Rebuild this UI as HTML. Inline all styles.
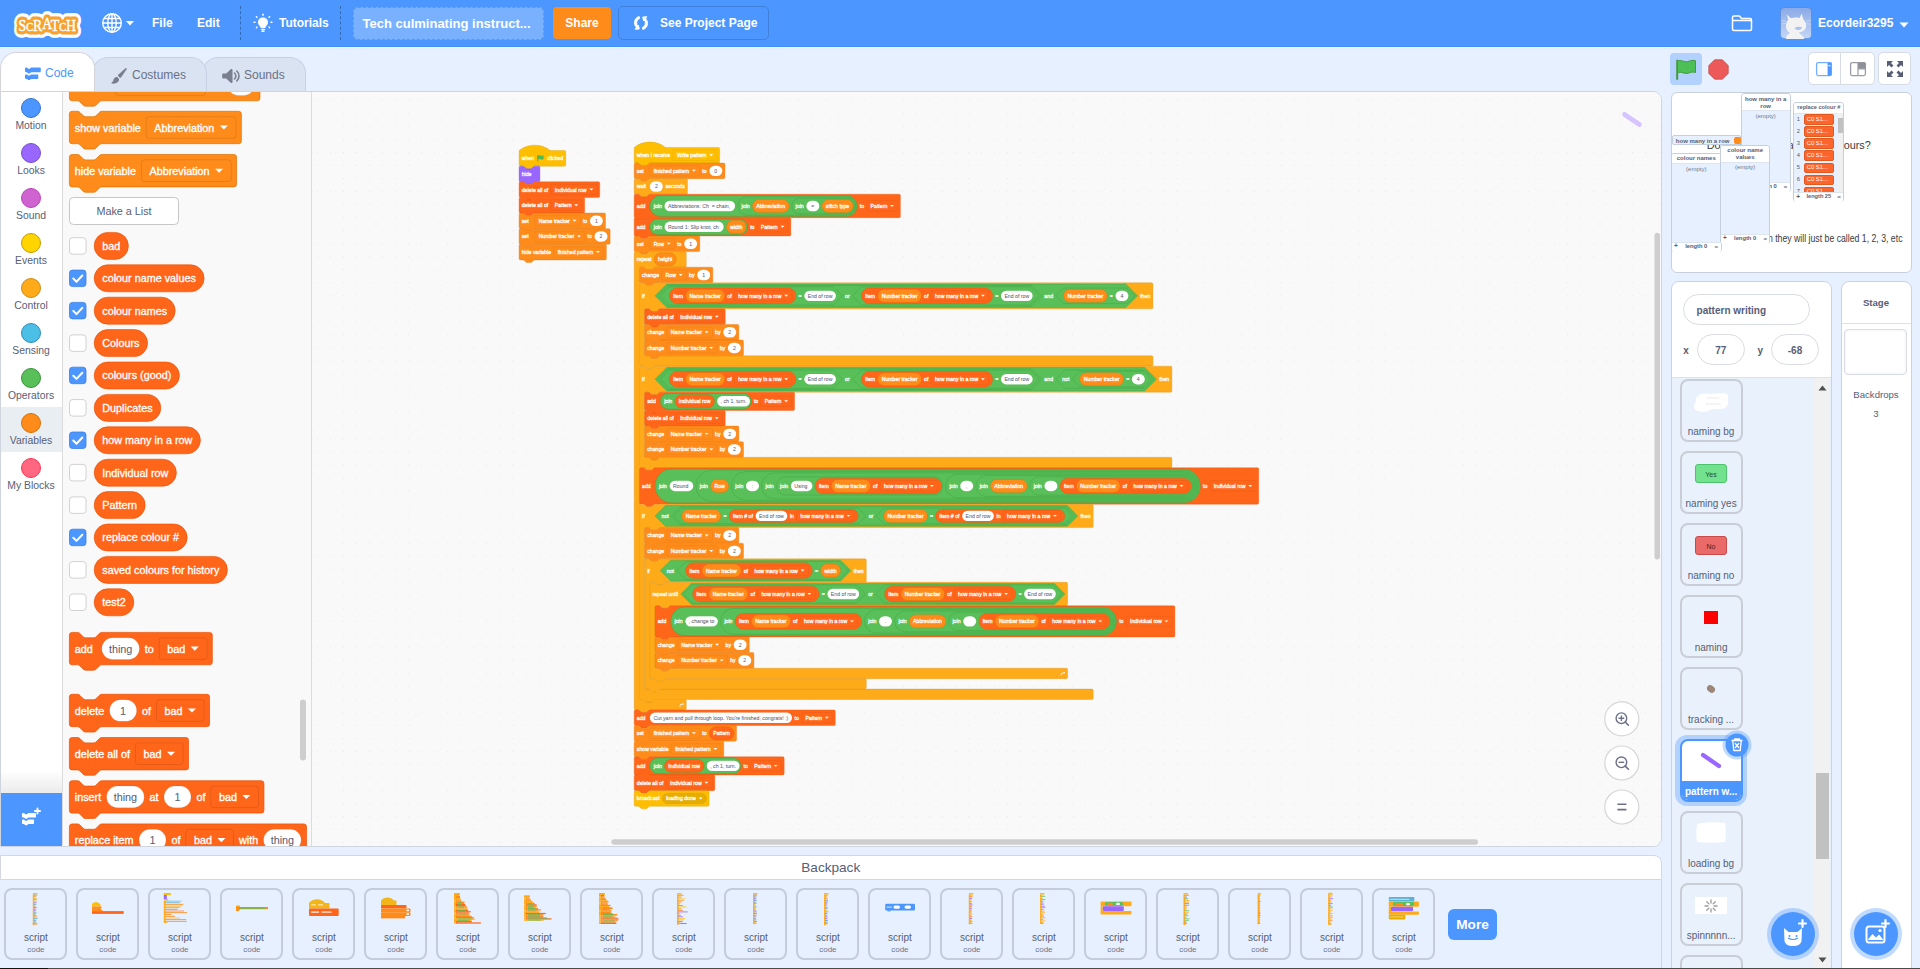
<!DOCTYPE html>
<html><head><meta charset="utf-8"><title>Scratch</title><style>
*{margin:0;padding:0}
html,body{width:1920px;height:969px;overflow:hidden;background:#e6f0ff;font-family:"Liberation Sans",Arial,Helvetica,sans-serif}
.abs{position:absolute}
.t{white-space:nowrap}
</style></head><body>
<div class="abs" style="left:0;top:0;width:1920px;height:46px;background:#4c97ff"></div>
<div class="abs" style="left:0;top:46px;width:1920px;height:1px;background:#4290fa"></div>
<div class="abs" style="left:0;top:47px;width:1920px;height:1px;background:#f0f5ff"></div>
<svg class="abs" style="left:8px;top:6px" width="80" height="34" viewBox="0 0 80 34" font-family="Liberation Serif, serif" font-weight="normal">
<g stroke-linejoin="round">
<text x="10.5" y="24.5" font-size="17.5" fill="#fff" stroke="#fff" stroke-width="13.5" textLength="57.5" lengthAdjust="spacingAndGlyphs">S<tspan font-size="13">C</tspan>R<tspan dy="-1.5">A</tspan><tspan dy="1.5">T</tspan><tspan font-size="13">C</tspan>H</text>
<text x="10.5" y="24.5" font-size="17.5" fill="#f7a22c" stroke="#f7a22c" stroke-width="7" textLength="57.5" lengthAdjust="spacingAndGlyphs">S<tspan font-size="13">C</tspan>R<tspan dy="-1.5">A</tspan><tspan dy="1.5">T</tspan><tspan font-size="13">C</tspan>H</text>
<text x="10.5" y="24.5" font-size="17.5" fill="#fff" stroke="#fff" stroke-width="0.5" textLength="57.5" lengthAdjust="spacingAndGlyphs">S<tspan font-size="13">C</tspan>R<tspan dy="-1.5">A</tspan><tspan dy="1.5">T</tspan><tspan font-size="13">C</tspan>H</text>
</g></svg>
<svg class="abs" style="left:101px;top:12px" width="36" height="22" viewBox="0 0 36 22">
<g fill="none" stroke="#fff" stroke-width="1.4"><circle cx="11" cy="11" r="9.3"/><ellipse cx="11" cy="11" rx="4.2" ry="9.3"/><path d="M1.7,11 H20.3 M3,6.5 H19 M3,15.5 H19 M11,1.7 V20.3"/></g>
<path d="M25,9 H33 L29,13.5 Z" fill="#fff"/></svg>
<div class="abs t" style="left:152.00px;top:16.84px;font-size:12px;line-height:12px;color:#fff;font-weight:700;">File</div>
<div class="abs t" style="left:197.00px;top:16.84px;font-size:12px;line-height:12px;color:#fff;font-weight:700;">Edit</div>
<div class="abs" style="left:240px;top:6px;height:34px;border-left:1px dashed rgba(0,0,0,0.3)"></div>
<svg class="abs" style="left:253px;top:13px" width="20" height="20" viewBox="0 0 20 20">
<g fill="#fff"><path d="M10,4.5 C6.8,4.5 5,6.8 5,9.3 C5,11.2 6,12.3 7,13.3 C7.6,13.9 7.7,14.5 7.7,15 H12.3 C12.3,14.5 12.4,13.9 13,13.3 C14,12.3 15,11.2 15,9.3 C15,6.8 13.2,4.5 10,4.5 Z"/><rect x="7.8" y="15.8" width="4.4" height="1.6" rx="0.8"/><rect x="8.4" y="17.8" width="3.2" height="1.2" rx="0.6"/>
<rect x="9.3" y="0.5" width="1.4" height="2.4" rx="0.7"/><rect x="0.3" y="8.6" width="2.4" height="1.4" rx="0.7"/><rect x="17.3" y="8.6" width="2.4" height="1.4" rx="0.7"/>
<rect x="3" y="2.8" width="1.4" height="2.4" rx="0.7" transform="rotate(-45 3.7 4)"/><rect x="15.6" y="2.8" width="1.4" height="2.4" rx="0.7" transform="rotate(45 16.3 4)"/>
<rect x="3" y="13.3" width="1.4" height="2.2" rx="0.7" transform="rotate(45 3.7 14.4)"/><rect x="15.6" y="13.3" width="1.4" height="2.2" rx="0.7" transform="rotate(-45 16.3 14.4)"/></g></svg>
<div class="abs t" style="left:279.00px;top:16.84px;font-size:12px;line-height:12px;color:#fff;font-weight:700;">Tutorials</div>
<div class="abs" style="left:340px;top:6px;height:34px;border-left:1px dashed rgba(0,0,0,0.3)"></div>
<div class="abs" style="left:353px;top:7px;width:189px;height:31px;border:1px dashed rgba(0,0,0,0.15);border-radius:5px;background:rgba(255,255,255,0.25)"></div>
<div class="abs t" style="left:362.50px;top:17.00px;font-size:13px;line-height:13px;color:#fff;font-weight:700;">Tech culminating instruct...</div>
<div class="abs" style="left:553px;top:7px;width:58px;height:32px;border-radius:4px;background:#ff8c1a"></div>
<div class="abs t" style="left:553.00px;top:16.84px;font-size:12px;line-height:12px;color:#fff;font-weight:700;width:58px;text-align:center;">Share</div>
<div class="abs" style="left:618px;top:6px;width:149px;height:32px;border:1px solid rgba(0,0,0,0.15);border-radius:5px"></div>
<svg class="abs" style="left:633px;top:15px" width="16" height="16" viewBox="0 0 16 16"><g fill="#fff" stroke="#fff" stroke-width="0.9" stroke-linejoin="round">
<path d="M6.2,1.5 C3.2,2.3 1.5,4.6 1.5,7.8 C1.5,9.6 2.2,11.1 3.3,12.2 L2.2,14.3 L6.3,14 L5.4,10 L4.6,11 C4,10.2 3.7,9.1 3.7,7.9 C3.7,5.7 4.9,4.1 6.7,3.5 Z"/>
<path d="M9.8,14.5 C12.8,13.7 14.5,11.4 14.5,8.2 C14.5,6.4 13.8,4.9 12.7,3.8 L13.8,1.7 L9.7,2 L10.6,6 L11.4,5 C12,5.8 12.3,6.9 12.3,8.1 C12.3,10.3 11.1,11.9 9.3,12.5 Z"/></g></svg>
<div class="abs t" style="left:660.00px;top:16.84px;font-size:12px;line-height:12px;color:#fff;font-weight:700;">See Project Page</div>
<svg class="abs" style="left:1731px;top:14px" width="22" height="18" viewBox="0 0 22 18"><path d="M1.5,4 V15 C1.5,16 2,16.5 3,16.5 H19 C20,16.5 20.5,16 20.5,15 V6 C20.5,5 20,4.5 19,4.5 H10.5 L8.5,2 H3 C2,2 1.5,2.5 1.5,3.5 Z M1.5,6.5 H20.5" fill="none" stroke="#fff" stroke-width="1.5" stroke-linejoin="round"/></svg>
<svg class="abs" style="left:1780px;top:7px" width="32" height="32" viewBox="0 0 32 32">
<defs><linearGradient id="av" x1="0" y1="0" x2="0" y2="1"><stop offset="0" stop-color="#8aa9e6"/><stop offset="1" stop-color="#c3d6f7"/></linearGradient></defs>
<rect x="0.5" y="0.5" width="31" height="31" rx="4" fill="url(#av)" stroke="rgba(40,80,160,0.25)"/>
<path d="M6.5,7.5 L11,11.2 C13.5,10.3 17,10.1 19.8,10.9 L21.6,6.6 L23.4,12.6 C25.8,14.6 26.8,17.6 25.9,20.4 C25,23.3 22.3,25.2 18.6,25.5 L20.5,27.2 C22.5,28.4 24,30.2 24.3,32 H5.8 C6,29.4 7.6,27.2 10.1,26.1 C7.3,24.6 5.6,21.7 6,18.6 C6.3,16.2 7.1,14.2 8.3,12.6 Z" fill="#f2f2f2"/>
<path d="M14.6,21.2 C16.6,19.6 20.1,19.5 22.2,20.6 C21.1,23.2 17.1,24.1 14.6,21.2 Z" fill="#a9c1ee"/>
<path d="M1.5,13.5 L6.5,14.5 M1.8,17 L6.3,16.4 M26,14.2 L30.5,13.2 M26.2,16.6 L30.6,17.2" stroke="#e8eefb" stroke-width="0.6" opacity="0.8"/></svg>
<div class="abs t" style="left:1818.00px;top:16.84px;font-size:12px;line-height:12px;color:#fff;font-weight:700;">Ecordeir3295</div>
<svg class="abs" style="left:1899px;top:21.5px" width="10" height="6" viewBox="0 0 10 6"><path d="M0.5,0.5 H9.5 L5,5.5 Z" fill="#fff"/></svg>
<div class="abs" style="left:202px;top:57px;width:102px;height:40px;background:#d9e3f2;border:1px solid #c6d1e3;border-bottom:none;border-radius:16px 16px 0 0"></div>
<div class="abs" style="left:92px;top:57px;width:113px;height:40px;background:#d9e3f2;border:1px solid #c6d1e3;border-bottom:none;border-radius:16px 16px 0 0"></div>
<div class="abs" style="left:0;top:52px;width:93px;height:38px;background:#fff;border:1px solid #d5d5d8;border-bottom:none;border-radius:16px 16px 0 0"></div>
<svg class="abs" style="left:24px;top:67px" width="17" height="14" viewBox="0 0 17 14"><g fill="#4c97ff">
<path d="M1,1.5 C1,1 1.4,0.6 2,0.6 H3 L4.2,1.8 H5.8 L7,0.6 H16 C16.5,0.6 16.8,1 16.8,1.5 V4.3 C16.8,4.8 16.5,5.2 16,5.2 H7 L5.8,6.4 H4.2 L3,5.2 H2 C1.4,5.2 1,4.8 1,4.3 Z"/>
<path d="M1,8.3 C1,7.8 1.4,7.4 2,7.4 H3 L4.2,8.6 H5.8 L7,7.4 H13.5 C14,7.4 14.3,7.8 14.3,8.3 V11 C14.3,11.5 14,11.9 13.5,11.9 H7 L5.8,13.1 H4.2 L3,11.9 H2 C1.4,11.9 1,11.5 1,11 Z"/></g></svg>
<div class="abs t" style="left:45.00px;top:66.84px;font-size:12px;line-height:12px;color:#4c97ff;">Code</div>
<svg class="abs" style="left:110px;top:67px" width="18" height="18" viewBox="0 0 18 18"><g fill="#7a7f8f">
<path d="M15.5,1.2 C16.3,0.8 17,1.5 16.6,2.3 L11.2,10.2 C10.8,10.8 10,10.9 9.5,10.4 L8.3,9.2 C7.8,8.7 7.9,7.9 8.5,7.5 Z"/>
<path d="M7.2,10.1 L8.6,11.5 C9.2,12.1 9.2,13.2 8.7,14 C7.7,15.7 5.2,17 1.6,16.6 C1.2,16.6 1.1,16.1 1.4,15.9 C2.8,15 3.2,14 3.6,12.6 C4.1,10.9 5.9,9.6 7.2,10.1 Z"/></g></svg>
<div class="abs t" style="left:132.00px;top:68.64px;font-size:12px;line-height:12px;color:#6b7185;">Costumes</div>
<svg class="abs" style="left:222px;top:68px" width="18" height="16" viewBox="0 0 18 16"><g fill="#7a7f8f">
<path d="M1.2,5.5 H4.2 L8.8,1.3 C9.5,0.7 10.5,1.1 10.5,2 V14 C10.5,14.9 9.5,15.3 8.8,14.7 L4.2,10.5 H1.2 C0.6,10.5 0.2,10 0.2,9.5 V6.5 C0.2,6 0.6,5.5 1.2,5.5 Z"/>
<path d="M12.5,5 C13.4,5.8 13.9,6.9 13.9,8 C13.9,9.1 13.4,10.2 12.5,11" stroke="#7a7f8f" stroke-width="1.6" fill="none" stroke-linecap="round"/>
<path d="M14.8,3 C16.2,4.3 17,6.1 17,8 C17,9.9 16.2,11.7 14.8,13" stroke="#7a7f8f" stroke-width="1.6" fill="none" stroke-linecap="round"/></g></svg>
<div class="abs t" style="left:244.00px;top:68.64px;font-size:12px;line-height:12px;color:#6b7185;">Sounds</div>
<div class="abs" style="left:0px;top:91px;width:1662px;height:756px;border:1px solid #cfd4dd;border-radius:0 9px 9px 0;background:#f9f9f9;box-sizing:border-box"></div>
<svg class="abs" style="left:312px;top:92px" width="1349" height="754" viewBox="312 92 1349 754" font-family="Liberation Sans, Arial, sans-serif" font-size="16" style="white-space:pre">
<defs><pattern id="grid" x="902.9" y="321.3" width="13.02" height="13.02" patternUnits="userSpaceOnUse"><rect x="0" y="0" width="1" height="1" fill="#e8e8e8"/></pattern></defs>
<path d="M312,92 H1653 A8,8 0 0 1 1661,100 V838 A8,8 0 0 1 1653,846 H312 Z" fill="#f9f9f9"/>
<path d="M312,92 H1653 A8,8 0 0 1 1661,100 V838 A8,8 0 0 1 1653,846 H312 Z" fill="url(#grid)"/>
<g transform="translate(519.1,150.5) scale(0.325521)"><path transform="translate(0.00,0.00)" d="M 0,0 c 25,-22 71,-22 96,0 H 139.157 a 4,4 0 0 1 4,4 V 44 a 4,4 0 0 1 -4,4 H 48 c -2,0 -3,1 -4,2 l -4,4 c -1,1 -2,2 -4,2 h -12 c -2,0 -3,-1 -4,-2 l -4,-4 c -1,-1 -2,-2 -4,-2 H 4 a 4,4 0 0 1 -4,-4 Z" fill="#FFBF00" stroke="#CC9900"/><text x="8.00" y="30.20" fill="#fff" stroke="#fff" stroke-width="0.80">when</text><g transform="translate(54.25,12.00)"><path d="M3,3 V22" stroke="#45993d" stroke-width="2.2"/><path d="M4,4 C9,1 13,7 20,4 V14 C13,17 9,11 4,14 Z" fill="#4cbf56" stroke="#45993d" stroke-width="1"/></g><text x="86.25" y="30.20" fill="#fff" stroke="#fff" stroke-width="0.80">clicked</text><path transform="translate(0.00,48.00)" d="M 0,4 A 4,4 0 0 1 4,0 H 12 c 2,0 3,1 4,2 l 4,4 c 1,1 2,2 4,2 h 12 c 2,0 3,-1 4,-2 l 4,-4 c 1,-1 2,-2 4,-2 H 60 a 4,4 0 0 1 4,4 V 44 a 4,4 0 0 1 -4,4 H 48 c -2,0 -3,1 -4,2 l -4,4 c -1,1 -2,2 -4,2 h -12 c -2,0 -3,-1 -4,-2 l -4,-4 c -1,-1 -2,-2 -4,-2 H 4 a 4,4 0 0 1 -4,-4 Z" fill="#9966FF" stroke="#774DCB"/><text x="8.00" y="78.20" fill="#fff" stroke="#fff" stroke-width="0.80">hide</text><path transform="translate(0.00,96.00)" d="M 0,4 A 4,4 0 0 1 4,0 H 12 c 2,0 3,1 4,2 l 4,4 c 1,1 2,2 4,2 h 12 c 2,0 3,-1 4,-2 l 4,-4 c 1,-1 2,-2 4,-2 H 243.665 a 4,4 0 0 1 4,4 V 44 a 4,4 0 0 1 -4,4 H 48 c -2,0 -3,1 -4,2 l -4,4 c -1,1 -2,2 -4,2 h -12 c -2,0 -3,-1 -4,-2 l -4,-4 c -1,-1 -2,-2 -4,-2 H 4 a 4,4 0 0 1 -4,-4 Z" fill="#FF661A" stroke="#E64D00"/><text x="8.00" y="126.20" fill="#fff" stroke="#fff" stroke-width="0.80">delete all of</text><rect x="97.84" y="104.00" width="141.83" height="32" rx="4" fill="#FF661A" stroke="rgba(0,0,0,0.15)"/><text x="109.84" y="126.20" fill="#fff" stroke="#fff" stroke-width="0.80">Individual row</text><path d="M 215.67,117.00 l 6,6 l 6,-6 Z" fill="#fff"/><path transform="translate(0.00,144.00)" d="M 0,4 A 4,4 0 0 1 4,0 H 12 c 2,0 3,1 4,2 l 4,4 c 1,1 2,2 4,2 h 12 c 2,0 3,-1 4,-2 l 4,-4 c 1,-1 2,-2 4,-2 H 197.423 a 4,4 0 0 1 4,4 V 44 a 4,4 0 0 1 -4,4 H 48 c -2,0 -3,1 -4,2 l -4,4 c -1,1 -2,2 -4,2 h -12 c -2,0 -3,-1 -4,-2 l -4,-4 c -1,-1 -2,-2 -4,-2 H 4 a 4,4 0 0 1 -4,-4 Z" fill="#FF661A" stroke="#E64D00"/><text x="8.00" y="174.20" fill="#fff" stroke="#fff" stroke-width="0.80">delete all of</text><rect x="97.84" y="152.00" width="95.59" height="32" rx="4" fill="#FF661A" stroke="rgba(0,0,0,0.15)"/><text x="109.84" y="174.20" fill="#fff" stroke="#fff" stroke-width="0.80">Pattern</text><path d="M 169.42,165.00 l 6,6 l 6,-6 Z" fill="#fff"/><path transform="translate(0.00,192.00)" d="M 0,4 A 4,4 0 0 1 4,0 H 12 c 2,0 3,1 4,2 l 4,4 c 1,1 2,2 4,2 h 12 c 2,0 3,-1 4,-2 l 4,-4 c 1,-1 2,-2 4,-2 H 261.368 a 4,4 0 0 1 4,4 V 44 a 4,4 0 0 1 -4,4 H 48 c -2,0 -3,1 -4,2 l -4,4 c -1,1 -2,2 -4,2 h -12 c -2,0 -3,-1 -4,-2 l -4,-4 c -1,-1 -2,-2 -4,-2 H 4 a 4,4 0 0 1 -4,-4 Z" fill="#FF8C1A" stroke="#DB6E00"/><text x="8.00" y="222.20" fill="#fff" stroke="#fff" stroke-width="0.80">set</text><rect x="48.00" y="200.00" width="140.02" height="32" rx="4" fill="#FF8C1A" stroke="rgba(0,0,0,0.15)"/><text x="60.00" y="222.20" fill="#fff" stroke="#fff" stroke-width="0.80">Name tracker</text><path d="M 164.02,213.00 l 6,6 l 6,-6 Z" fill="#fff"/><text x="196.02" y="222.20" fill="#fff" stroke="#fff" stroke-width="0.80">to</text><rect x="217.37" y="200.00" width="40.00" height="32" rx="16" fill="#fff" stroke="rgba(0,0,0,0.1)"/><text x="237.37" y="222.20" fill="#575E75" stroke="#575E75" stroke-width="0.12" text-anchor="middle">1</text><path transform="translate(0.00,240.00)" d="M 0,4 A 4,4 0 0 1 4,0 H 12 c 2,0 3,1 4,2 l 4,4 c 1,1 2,2 4,2 h 12 c 2,0 3,-1 4,-2 l 4,-4 c 1,-1 2,-2 4,-2 H 275.594 a 4,4 0 0 1 4,4 V 44 a 4,4 0 0 1 -4,4 H 48 c -2,0 -3,1 -4,2 l -4,4 c -1,1 -2,2 -4,2 h -12 c -2,0 -3,-1 -4,-2 l -4,-4 c -1,-1 -2,-2 -4,-2 H 4 a 4,4 0 0 1 -4,-4 Z" fill="#FF8C1A" stroke="#DB6E00"/><text x="8.00" y="270.20" fill="#fff" stroke="#fff" stroke-width="0.80">set</text><rect x="48.00" y="248.00" width="154.25" height="32" rx="4" fill="#FF8C1A" stroke="rgba(0,0,0,0.15)"/><text x="60.00" y="270.20" fill="#fff" stroke="#fff" stroke-width="0.80">Number tracker</text><path d="M 178.25,261.00 l 6,6 l 6,-6 Z" fill="#fff"/><text x="210.25" y="270.20" fill="#fff" stroke="#fff" stroke-width="0.80">to</text><rect x="231.59" y="248.00" width="40.00" height="32" rx="16" fill="#fff" stroke="rgba(0,0,0,0.1)"/><text x="251.59" y="270.20" fill="#575E75" stroke="#575E75" stroke-width="0.12" text-anchor="middle">2</text><path transform="translate(0.00,288.00)" d="M 0,4 A 4,4 0 0 1 4,0 H 12 c 2,0 3,1 4,2 l 4,4 c 1,1 2,2 4,2 h 12 c 2,0 3,-1 4,-2 l 4,-4 c 1,-1 2,-2 4,-2 H 264.134 a 4,4 0 0 1 4,4 V 44 a 4,4 0 0 1 -4,4 H 48 c -2,0 -3,1 -4,2 l -4,4 c -1,1 -2,2 -4,2 h -12 c -2,0 -3,-1 -4,-2 l -4,-4 c -1,-1 -2,-2 -4,-2 H 4 a 4,4 0 0 1 -4,-4 Z" fill="#FF8C1A" stroke="#DB6E00"/><text x="8.00" y="318.20" fill="#fff" stroke="#fff" stroke-width="0.80">hide variable</text><rect x="106.73" y="296.00" width="153.41" height="32" rx="4" fill="#FF8C1A" stroke="rgba(0,0,0,0.15)"/><text x="118.73" y="318.20" fill="#fff" stroke="#fff" stroke-width="0.80">finished pattern</text><path d="M 236.13,309.00 l 6,6 l 6,-6 Z" fill="#fff"/></g>
<g transform="translate(634.2,147.4) scale(0.325521)"><path transform="translate(0.00,0.00)" d="M 0,0 c 25,-22 71,-22 96,0 H 258.462 a 4,4 0 0 1 4,4 V 44 a 4,4 0 0 1 -4,4 H 48 c -2,0 -3,1 -4,2 l -4,4 c -1,1 -2,2 -4,2 h -12 c -2,0 -3,-1 -4,-2 l -4,-4 c -1,-1 -2,-2 -4,-2 H 4 a 4,4 0 0 1 -4,-4 Z" fill="#FFBF00" stroke="#CC9900"/><text x="8.00" y="30.20" fill="#fff" stroke="#fff" stroke-width="0.80">when I receive</text><rect x="119.16" y="8.00" width="135.30" height="32" rx="4" fill="#FFBF00" stroke="rgba(0,0,0,0.15)"/><text x="131.16" y="30.20" fill="#fff" stroke="#fff" stroke-width="0.80">Write pattern</text><path d="M 230.46,21.00 l 6,6 l 6,-6 Z" fill="#fff"/><path transform="translate(0.00,48.00)" d="M 0,4 A 4,4 0 0 1 4,0 H 12 c 2,0 3,1 4,2 l 4,4 c 1,1 2,2 4,2 h 12 c 2,0 3,-1 4,-2 l 4,-4 c 1,-1 2,-2 4,-2 H 274.75 a 4,4 0 0 1 4,4 V 44 a 4,4 0 0 1 -4,4 H 48 c -2,0 -3,1 -4,2 l -4,4 c -1,1 -2,2 -4,2 h -12 c -2,0 -3,-1 -4,-2 l -4,-4 c -1,-1 -2,-2 -4,-2 H 4 a 4,4 0 0 1 -4,-4 Z" fill="#FF8C1A" stroke="#DB6E00"/><text x="8.00" y="78.20" fill="#fff" stroke="#fff" stroke-width="0.80">set</text><rect x="48.00" y="56.00" width="153.41" height="32" rx="4" fill="#FF8C1A" stroke="rgba(0,0,0,0.15)"/><text x="60.00" y="78.20" fill="#fff" stroke="#fff" stroke-width="0.80">finished pattern</text><path d="M 177.41,69.00 l 6,6 l 6,-6 Z" fill="#fff"/><text x="209.41" y="78.20" fill="#fff" stroke="#fff" stroke-width="0.80">to</text><rect x="230.75" y="56.00" width="40.00" height="32" rx="16" fill="#fff" stroke="rgba(0,0,0,0.1)"/><text x="250.75" y="78.20" fill="#575E75" stroke="#575E75" stroke-width="0.12" text-anchor="middle">0</text><path transform="translate(0.00,96.00)" d="M 0,4 A 4,4 0 0 1 4,0 H 12 c 2,0 3,1 4,2 l 4,4 c 1,1 2,2 4,2 h 12 c 2,0 3,-1 4,-2 l 4,-4 c 1,-1 2,-2 4,-2 H 159.594 a 4,4 0 0 1 4,4 V 44 a 4,4 0 0 1 -4,4 H 48 c -2,0 -3,1 -4,2 l -4,4 c -1,1 -2,2 -4,2 h -12 c -2,0 -3,-1 -4,-2 l -4,-4 c -1,-1 -2,-2 -4,-2 H 4 a 4,4 0 0 1 -4,-4 Z" fill="#FFAB19" stroke="#CF8B17"/><text x="8.00" y="126.20" fill="#fff" stroke="#fff" stroke-width="0.80">wait</text><rect x="48.00" y="104.00" width="40.00" height="32" rx="16" fill="#fff" stroke="rgba(0,0,0,0.1)"/><text x="68.00" y="126.20" fill="#575E75" stroke="#575E75" stroke-width="0.12" text-anchor="middle">2</text><text x="96.00" y="126.20" fill="#fff" stroke="#fff" stroke-width="0.80">seconds</text><path transform="translate(0.00,144.00)" d="M 0,4 A 4,4 0 0 1 4,0 H 12 c 2,0 3,1 4,2 l 4,4 c 1,1 2,2 4,2 h 12 c 2,0 3,-1 4,-2 l 4,-4 c 1,-1 2,-2 4,-2 H 813.737 a 4,4 0 0 1 4,4 V 68 a 4,4 0 0 1 -4,4 H 48 c -2,0 -3,1 -4,2 l -4,4 c -1,1 -2,2 -4,2 h -12 c -2,0 -3,-1 -4,-2 l -4,-4 c -1,-1 -2,-2 -4,-2 H 4 a 4,4 0 0 1 -4,-4 Z" fill="#FF661A" stroke="#E64D00"/><text x="8.00" y="186.20" fill="#fff" stroke="#fff" stroke-width="0.80">add</text><rect x="48.00" y="148.00" width="636.81" height="64" rx="32" fill="#59C059" stroke="#389438"/><text x="60.00" y="186.20" fill="#fff" stroke="#fff" stroke-width="0.80">join</text><rect x="92.91" y="164.00" width="217.11" height="32" rx="16" fill="#fff" stroke="rgba(0,0,0,0.1)"/><text x="201.46" y="186.20" fill="#575E75" stroke="#575E75" stroke-width="0.12" text-anchor="middle">Abbreviations: Ch  = chain, </text><rect x="318.02" y="152.00" width="362.79" height="56" rx="28" fill="#59C059" stroke="#389438"/><text x="330.02" y="186.20" fill="#fff" stroke="#fff" stroke-width="0.80">join</text><rect x="362.92" y="160.00" width="112.95" height="40" rx="20" fill="#FF8C1A" stroke="#DB6E00"/><text x="374.92" y="186.20" fill="#fff" stroke="#fff" stroke-width="0.80">Abbreviation</text><rect x="483.87" y="156.00" width="192.94" height="48" rx="24" fill="#59C059" stroke="#389438"/><text x="495.87" y="186.20" fill="#fff" stroke="#fff" stroke-width="0.80">join</text><rect x="528.78" y="164.00" width="40.00" height="32" rx="16" fill="#fff" stroke="rgba(0,0,0,0.1)"/><text x="548.78" y="186.20" fill="#575E75" stroke="#575E75" stroke-width="0.12" text-anchor="middle">=</text><rect x="576.78" y="160.00" width="96.03" height="40" rx="20" fill="#FF8C1A" stroke="#DB6E00"/><text x="588.78" y="186.20" fill="#fff" stroke="#fff" stroke-width="0.80">stitch type</text><text x="692.81" y="186.20" fill="#fff" stroke="#fff" stroke-width="0.80">to</text><rect x="714.15" y="164.00" width="95.59" height="32" rx="4" fill="#FF661A" stroke="rgba(0,0,0,0.15)"/><text x="726.15" y="186.20" fill="#fff" stroke="#fff" stroke-width="0.80">Pattern</text><path d="M 785.74,177.00 l 6,6 l 6,-6 Z" fill="#fff"/><path transform="translate(0.00,216.00)" d="M 0,4 A 4,4 0 0 1 4,0 H 12 c 2,0 3,1 4,2 l 4,4 c 1,1 2,2 4,2 h 12 c 2,0 3,-1 4,-2 l 4,-4 c 1,-1 2,-2 4,-2 H 477.173 a 4,4 0 0 1 4,4 V 52 a 4,4 0 0 1 -4,4 H 48 c -2,0 -3,1 -4,2 l -4,4 c -1,1 -2,2 -4,2 h -12 c -2,0 -3,-1 -4,-2 l -4,-4 c -1,-1 -2,-2 -4,-2 H 4 a 4,4 0 0 1 -4,-4 Z" fill="#FF661A" stroke="#E64D00"/><text x="8.00" y="250.20" fill="#fff" stroke="#fff" stroke-width="0.80">add</text><rect x="48.00" y="220.00" width="300.24" height="48" rx="24" fill="#59C059" stroke="#389438"/><text x="60.00" y="250.20" fill="#fff" stroke="#fff" stroke-width="0.80">join</text><rect x="92.91" y="228.00" width="181.98" height="32" rx="16" fill="#fff" stroke="rgba(0,0,0,0.1)"/><text x="183.90" y="250.20" fill="#575E75" stroke="#575E75" stroke-width="0.12" text-anchor="middle">Round 1: Slip knot, ch </text><rect x="282.89" y="224.00" width="61.35" height="40" rx="20" fill="#FF8C1A" stroke="#DB6E00"/><text x="294.89" y="250.20" fill="#fff" stroke="#fff" stroke-width="0.80">width</text><text x="356.24" y="250.20" fill="#fff" stroke="#fff" stroke-width="0.80">to</text><rect x="377.59" y="228.00" width="95.59" height="32" rx="4" fill="#FF661A" stroke="rgba(0,0,0,0.15)"/><text x="389.59" y="250.20" fill="#fff" stroke="#fff" stroke-width="0.80">Pattern</text><path d="M 449.17,241.00 l 6,6 l 6,-6 Z" fill="#fff"/><path transform="translate(0.00,272.00)" d="M 0,4 A 4,4 0 0 1 4,0 H 12 c 2,0 3,1 4,2 l 4,4 c 1,1 2,2 4,2 h 12 c 2,0 3,-1 4,-2 l 4,-4 c 1,-1 2,-2 4,-2 H 197.352 a 4,4 0 0 1 4,4 V 44 a 4,4 0 0 1 -4,4 H 48 c -2,0 -3,1 -4,2 l -4,4 c -1,1 -2,2 -4,2 h -12 c -2,0 -3,-1 -4,-2 l -4,-4 c -1,-1 -2,-2 -4,-2 H 4 a 4,4 0 0 1 -4,-4 Z" fill="#FF8C1A" stroke="#DB6E00"/><text x="8.00" y="302.20" fill="#fff" stroke="#fff" stroke-width="0.80">set</text><rect x="48.00" y="280.00" width="76.01" height="32" rx="4" fill="#FF8C1A" stroke="rgba(0,0,0,0.15)"/><text x="60.00" y="302.20" fill="#fff" stroke="#fff" stroke-width="0.80">Row</text><path d="M 100.01,293.00 l 6,6 l 6,-6 Z" fill="#fff"/><text x="132.01" y="302.20" fill="#fff" stroke="#fff" stroke-width="0.80">to</text><rect x="153.35" y="280.00" width="40.00" height="32" rx="16" fill="#fff" stroke="rgba(0,0,0,0.1)"/><text x="173.35" y="302.20" fill="#575E75" stroke="#575E75" stroke-width="0.12" text-anchor="middle">1</text><path transform="translate(0.00,320.00)" d="M 0,4 A 4,4 0 0 1 4,0 H 12 c 2,0 3,1 4,2 l 4,4 c 1,1 2,2 4,2 h 12 c 2,0 3,-1 4,-2 l 4,-4 c 1,-1 2,-2 4,-2 H 156 a 4,4 0 0 1 4,4 V 44 a 4,4 0 0 1 -4,4 H 64 c -2,0 -3,1 -4,2 l -4,4 c -1,1 -2,2 -4,2 h -12 c -2,0 -3,-1 -4,-2 l -4,-4 c -1,-1 -2,-2 -4,-2 H 20 a 4,4 0 0 0 -4,4 V 1372 a 4,4 0 0 0 4,4 H 28 c 2,0 3,1 4,2 l 4,4 c 1,1 2,2 4,2 h 12 c 2,0 3,-1 4,-2 l 4,-4 c 1,-1 2,-2 4,-2 H 156 a 4,4 0 0 1 4,4 V 1404 a 4,4 0 0 1 -4,4 H 48 c -2,0 -3,1 -4,2 l -4,4 c -1,1 -2,2 -4,2 h -12 c -2,0 -3,-1 -4,-2 l -4,-4 c -1,-1 -2,-2 -4,-2 H 4 a 4,4 0 0 1 -4,-4 Z" fill="#FFAB19" stroke="#CF8B17"/><text x="8.00" y="350.20" fill="#fff" stroke="#fff" stroke-width="0.80">repeat</text><rect x="61.37" y="324.00" width="67.59" height="40" rx="20" fill="#FF8C1A" stroke="#DB6E00"/><text x="73.37" y="350.20" fill="#fff" stroke="#fff" stroke-width="0.80">height</text><path transform="translate(16.00,368.00)" d="M 0,4 A 4,4 0 0 1 4,0 H 12 c 2,0 3,1 4,2 l 4,4 c 1,1 2,2 4,2 h 12 c 2,0 3,-1 4,-2 l 4,-4 c 1,-1 2,-2 4,-2 H 221.399 a 4,4 0 0 1 4,4 V 44 a 4,4 0 0 1 -4,4 H 48 c -2,0 -3,1 -4,2 l -4,4 c -1,1 -2,2 -4,2 h -12 c -2,0 -3,-1 -4,-2 l -4,-4 c -1,-1 -2,-2 -4,-2 H 4 a 4,4 0 0 1 -4,-4 Z" fill="#FF8C1A" stroke="#DB6E00"/><text x="24.00" y="398.20" fill="#fff" stroke="#fff" stroke-width="0.80">change</text><rect x="84.49" y="376.00" width="76.01" height="32" rx="4" fill="#FF8C1A" stroke="rgba(0,0,0,0.15)"/><text x="96.49" y="398.20" fill="#fff" stroke="#fff" stroke-width="0.80">Row</text><path d="M 136.50,389.00 l 6,6 l 6,-6 Z" fill="#fff"/><text x="168.50" y="398.20" fill="#fff" stroke="#fff" stroke-width="0.80">by</text><rect x="193.40" y="376.00" width="40.00" height="32" rx="16" fill="#fff" stroke="rgba(0,0,0,0.1)"/><text x="213.40" y="398.20" fill="#575E75" stroke="#575E75" stroke-width="0.12" text-anchor="middle">1</text><path transform="translate(16.00,416.00)" d="M 0,4 A 4,4 0 0 1 4,0 H 12 c 2,0 3,1 4,2 l 4,4 c 1,1 2,2 4,2 h 12 c 2,0 3,-1 4,-2 l 4,-4 c 1,-1 2,-2 4,-2 H 1573.51 a 4,4 0 0 1 4,4 V 76 a 4,4 0 0 1 -4,4 H 64 c -2,0 -3,1 -4,2 l -4,4 c -1,1 -2,2 -4,2 h -12 c -2,0 -3,-1 -4,-2 l -4,-4 c -1,-1 -2,-2 -4,-2 H 20 a 4,4 0 0 0 -4,4 V 220 a 4,4 0 0 0 4,4 H 28 c 2,0 3,1 4,2 l 4,4 c 1,1 2,2 4,2 h 12 c 2,0 3,-1 4,-2 l 4,-4 c 1,-1 2,-2 4,-2 H 1573.51 a 4,4 0 0 1 4,4 V 252 a 4,4 0 0 1 -4,4 H 48 c -2,0 -3,1 -4,2 l -4,4 c -1,1 -2,2 -4,2 h -12 c -2,0 -3,-1 -4,-2 l -4,-4 c -1,-1 -2,-2 -4,-2 H 4 a 4,4 0 0 1 -4,-4 Z" fill="#FFAB19" stroke="#CF8B17"/><text x="24.00" y="462.20" fill="#fff" stroke="#fff" stroke-width="0.80">if</text><path transform="translate(64.00,420.00)" d="M 36,0 H 1446.37 L 1482.37,36 L 1446.37,72 H 36 L 0,36 Z" fill="#59C059" stroke="#389438"/><path transform="translate(72.00,424.00)" d="M 32,0 H 1148.08 L 1180.08,32 L 1148.08,64 H 32 L 0,32 Z" fill="#59C059" stroke="#389438"/><path transform="translate(80.00,428.00)" d="M 28,0 H 531.814 L 559.814,28 L 531.814,56 H 28 L 0,28 Z" fill="#59C059" stroke="#389438"/><rect x="108.00" y="432.00" width="388.99" height="48" rx="24" fill="#FF661A" stroke="#E64D00"/><text x="120.00" y="462.20" fill="#fff" stroke="#fff" stroke-width="0.80">item</text><rect x="158.23" y="436.00" width="120.02" height="40" rx="20" fill="#FF8C1A" stroke="#DB6E00"/><text x="170.23" y="462.20" fill="#fff" stroke="#fff" stroke-width="0.80">Name tracker</text><text x="286.25" y="462.20" fill="#fff" stroke="#fff" stroke-width="0.80">of</text><rect x="307.59" y="440.00" width="177.39" height="32" rx="4" fill="#FF661A" stroke="rgba(0,0,0,0.15)"/><text x="319.59" y="462.20" fill="#fff" stroke="#fff" stroke-width="0.80">how many in a row</text><path d="M 460.99,453.00 l 6,6 l 6,-6 Z" fill="#fff"/><text x="504.99" y="462.20" fill="#fff" stroke="#fff" stroke-width="0.80">=</text><rect x="522.33" y="440.00" width="97.48" height="32" rx="16" fill="#fff" stroke="rgba(0,0,0,0.1)"/><text x="571.07" y="462.20" fill="#575E75" stroke="#575E75" stroke-width="0.12" text-anchor="middle">End of row</text><text x="647.81" y="462.20" fill="#fff" stroke="#fff" stroke-width="0.80">or</text><path transform="translate(670.04,428.00)" d="M 28,0 H 546.041 L 574.041,28 L 546.041,56 H 28 L 0,28 Z" fill="#59C059" stroke="#389438"/><rect x="698.04" y="432.00" width="403.21" height="48" rx="24" fill="#FF661A" stroke="#E64D00"/><text x="710.04" y="462.20" fill="#fff" stroke="#fff" stroke-width="0.80">item</text><rect x="748.27" y="436.00" width="134.25" height="40" rx="20" fill="#FF8C1A" stroke="#DB6E00"/><text x="760.27" y="462.20" fill="#fff" stroke="#fff" stroke-width="0.80">Number tracker</text><text x="890.52" y="462.20" fill="#fff" stroke="#fff" stroke-width="0.80">of</text><rect x="911.86" y="440.00" width="177.39" height="32" rx="4" fill="#FF661A" stroke="rgba(0,0,0,0.15)"/><text x="923.86" y="462.20" fill="#fff" stroke="#fff" stroke-width="0.80">how many in a row</text><path d="M 1065.25,453.00 l 6,6 l 6,-6 Z" fill="#fff"/><text x="1109.25" y="462.20" fill="#fff" stroke="#fff" stroke-width="0.80">=</text><rect x="1126.60" y="440.00" width="97.48" height="32" rx="16" fill="#fff" stroke="rgba(0,0,0,0.1)"/><text x="1175.34" y="462.20" fill="#575E75" stroke="#575E75" stroke-width="0.12" text-anchor="middle">End of row</text><text x="1260.08" y="462.20" fill="#fff" stroke="#fff" stroke-width="0.80">and</text><path transform="translate(1294.78,432.00)" d="M 24,0 H 219.594 L 243.594,24 L 219.594,48 H 24 L 0,24 Z" fill="#59C059" stroke="#389438"/><rect x="1318.78" y="436.00" width="134.25" height="40" rx="20" fill="#FF8C1A" stroke="#DB6E00"/><text x="1330.78" y="462.20" fill="#fff" stroke="#fff" stroke-width="0.80">Number tracker</text><text x="1461.03" y="462.20" fill="#fff" stroke="#fff" stroke-width="0.80">=</text><rect x="1478.37" y="440.00" width="40.00" height="32" rx="16" fill="#fff" stroke="rgba(0,0,0,0.1)"/><text x="1498.37" y="462.20" fill="#575E75" stroke="#575E75" stroke-width="0.12" text-anchor="middle">4</text><text x="1554.37" y="462.20" fill="#fff" stroke="#fff" stroke-width="0.80">then</text><path transform="translate(32.00,496.00)" d="M 0,4 A 4,4 0 0 1 4,0 H 12 c 2,0 3,1 4,2 l 4,4 c 1,1 2,2 4,2 h 12 c 2,0 3,-1 4,-2 l 4,-4 c 1,-1 2,-2 4,-2 H 243.665 a 4,4 0 0 1 4,4 V 44 a 4,4 0 0 1 -4,4 H 48 c -2,0 -3,1 -4,2 l -4,4 c -1,1 -2,2 -4,2 h -12 c -2,0 -3,-1 -4,-2 l -4,-4 c -1,-1 -2,-2 -4,-2 H 4 a 4,4 0 0 1 -4,-4 Z" fill="#FF661A" stroke="#E64D00"/><text x="40.00" y="526.20" fill="#fff" stroke="#fff" stroke-width="0.80">delete all of</text><rect x="129.84" y="504.00" width="141.83" height="32" rx="4" fill="#FF661A" stroke="rgba(0,0,0,0.15)"/><text x="141.84" y="526.20" fill="#fff" stroke="#fff" stroke-width="0.80">Individual row</text><path d="M 247.67,517.00 l 6,6 l 6,-6 Z" fill="#fff"/><path transform="translate(32.00,544.00)" d="M 0,4 A 4,4 0 0 1 4,0 H 12 c 2,0 3,1 4,2 l 4,4 c 1,1 2,2 4,2 h 12 c 2,0 3,-1 4,-2 l 4,-4 c 1,-1 2,-2 4,-2 H 285.415 a 4,4 0 0 1 4,4 V 44 a 4,4 0 0 1 -4,4 H 48 c -2,0 -3,1 -4,2 l -4,4 c -1,1 -2,2 -4,2 h -12 c -2,0 -3,-1 -4,-2 l -4,-4 c -1,-1 -2,-2 -4,-2 H 4 a 4,4 0 0 1 -4,-4 Z" fill="#FF8C1A" stroke="#DB6E00"/><text x="40.00" y="574.20" fill="#fff" stroke="#fff" stroke-width="0.80">change</text><rect x="100.49" y="552.00" width="140.02" height="32" rx="4" fill="#FF8C1A" stroke="rgba(0,0,0,0.15)"/><text x="112.49" y="574.20" fill="#fff" stroke="#fff" stroke-width="0.80">Name tracker</text><path d="M 216.52,565.00 l 6,6 l 6,-6 Z" fill="#fff"/><text x="248.52" y="574.20" fill="#fff" stroke="#fff" stroke-width="0.80">by</text><rect x="273.42" y="552.00" width="40.00" height="32" rx="16" fill="#fff" stroke="rgba(0,0,0,0.1)"/><text x="293.42" y="574.20" fill="#575E75" stroke="#575E75" stroke-width="0.12" text-anchor="middle">2</text><path transform="translate(32.00,592.00)" d="M 0,4 A 4,4 0 0 1 4,0 H 12 c 2,0 3,1 4,2 l 4,4 c 1,1 2,2 4,2 h 12 c 2,0 3,-1 4,-2 l 4,-4 c 1,-1 2,-2 4,-2 H 299.642 a 4,4 0 0 1 4,4 V 44 a 4,4 0 0 1 -4,4 H 48 c -2,0 -3,1 -4,2 l -4,4 c -1,1 -2,2 -4,2 h -12 c -2,0 -3,-1 -4,-2 l -4,-4 c -1,-1 -2,-2 -4,-2 H 4 a 4,4 0 0 1 -4,-4 Z" fill="#FF8C1A" stroke="#DB6E00"/><text x="40.00" y="622.20" fill="#fff" stroke="#fff" stroke-width="0.80">change</text><rect x="100.49" y="600.00" width="154.25" height="32" rx="4" fill="#FF8C1A" stroke="rgba(0,0,0,0.15)"/><text x="112.49" y="622.20" fill="#fff" stroke="#fff" stroke-width="0.80">Number tracker</text><path d="M 230.74,613.00 l 6,6 l 6,-6 Z" fill="#fff"/><text x="262.74" y="622.20" fill="#fff" stroke="#fff" stroke-width="0.80">by</text><rect x="287.64" y="600.00" width="40.00" height="32" rx="16" fill="#fff" stroke="rgba(0,0,0,0.1)"/><text x="307.64" y="622.20" fill="#575E75" stroke="#575E75" stroke-width="0.12" text-anchor="middle">2</text><path transform="translate(16.00,672.00)" d="M 0,4 A 4,4 0 0 1 4,0 H 12 c 2,0 3,1 4,2 l 4,4 c 1,1 2,2 4,2 h 12 c 2,0 3,-1 4,-2 l 4,-4 c 1,-1 2,-2 4,-2 H 1631.75 a 4,4 0 0 1 4,4 V 76 a 4,4 0 0 1 -4,4 H 64 c -2,0 -3,1 -4,2 l -4,4 c -1,1 -2,2 -4,2 h -12 c -2,0 -3,-1 -4,-2 l -4,-4 c -1,-1 -2,-2 -4,-2 H 20 a 4,4 0 0 0 -4,4 V 276 a 4,4 0 0 0 4,4 H 28 c 2,0 3,1 4,2 l 4,4 c 1,1 2,2 4,2 h 12 c 2,0 3,-1 4,-2 l 4,-4 c 1,-1 2,-2 4,-2 H 1631.75 a 4,4 0 0 1 4,4 V 308 a 4,4 0 0 1 -4,4 H 48 c -2,0 -3,1 -4,2 l -4,4 c -1,1 -2,2 -4,2 h -12 c -2,0 -3,-1 -4,-2 l -4,-4 c -1,-1 -2,-2 -4,-2 H 4 a 4,4 0 0 1 -4,-4 Z" fill="#FFAB19" stroke="#CF8B17"/><text x="24.00" y="718.20" fill="#fff" stroke="#fff" stroke-width="0.80">if</text><path transform="translate(64.00,676.00)" d="M 36,0 H 1504.61 L 1540.61,36 L 1504.61,72 H 36 L 0,36 Z" fill="#59C059" stroke="#389438"/><path transform="translate(72.00,680.00)" d="M 32,0 H 1148.08 L 1180.08,32 L 1148.08,64 H 32 L 0,32 Z" fill="#59C059" stroke="#389438"/><path transform="translate(80.00,684.00)" d="M 28,0 H 531.814 L 559.814,28 L 531.814,56 H 28 L 0,28 Z" fill="#59C059" stroke="#389438"/><rect x="108.00" y="688.00" width="388.99" height="48" rx="24" fill="#FF661A" stroke="#E64D00"/><text x="120.00" y="718.20" fill="#fff" stroke="#fff" stroke-width="0.80">item</text><rect x="158.23" y="692.00" width="120.02" height="40" rx="20" fill="#FF8C1A" stroke="#DB6E00"/><text x="170.23" y="718.20" fill="#fff" stroke="#fff" stroke-width="0.80">Name tracker</text><text x="286.25" y="718.20" fill="#fff" stroke="#fff" stroke-width="0.80">of</text><rect x="307.59" y="696.00" width="177.39" height="32" rx="4" fill="#FF661A" stroke="rgba(0,0,0,0.15)"/><text x="319.59" y="718.20" fill="#fff" stroke="#fff" stroke-width="0.80">how many in a row</text><path d="M 460.99,709.00 l 6,6 l 6,-6 Z" fill="#fff"/><text x="504.99" y="718.20" fill="#fff" stroke="#fff" stroke-width="0.80">=</text><rect x="522.33" y="696.00" width="97.48" height="32" rx="16" fill="#fff" stroke="rgba(0,0,0,0.1)"/><text x="571.07" y="718.20" fill="#575E75" stroke="#575E75" stroke-width="0.12" text-anchor="middle">End of row</text><text x="647.81" y="718.20" fill="#fff" stroke="#fff" stroke-width="0.80">or</text><path transform="translate(670.04,684.00)" d="M 28,0 H 546.041 L 574.041,28 L 546.041,56 H 28 L 0,28 Z" fill="#59C059" stroke="#389438"/><rect x="698.04" y="688.00" width="403.21" height="48" rx="24" fill="#FF661A" stroke="#E64D00"/><text x="710.04" y="718.20" fill="#fff" stroke="#fff" stroke-width="0.80">item</text><rect x="748.27" y="692.00" width="134.25" height="40" rx="20" fill="#FF8C1A" stroke="#DB6E00"/><text x="760.27" y="718.20" fill="#fff" stroke="#fff" stroke-width="0.80">Number tracker</text><text x="890.52" y="718.20" fill="#fff" stroke="#fff" stroke-width="0.80">of</text><rect x="911.86" y="696.00" width="177.39" height="32" rx="4" fill="#FF661A" stroke="rgba(0,0,0,0.15)"/><text x="923.86" y="718.20" fill="#fff" stroke="#fff" stroke-width="0.80">how many in a row</text><path d="M 1065.25,709.00 l 6,6 l 6,-6 Z" fill="#fff"/><text x="1109.25" y="718.20" fill="#fff" stroke="#fff" stroke-width="0.80">=</text><rect x="1126.60" y="696.00" width="97.48" height="32" rx="16" fill="#fff" stroke="rgba(0,0,0,0.1)"/><text x="1175.34" y="718.20" fill="#575E75" stroke="#575E75" stroke-width="0.12" text-anchor="middle">End of row</text><text x="1260.08" y="718.20" fill="#fff" stroke="#fff" stroke-width="0.80">and</text><path transform="translate(1294.78,684.00)" d="M 28,0 H 273.837 L 301.837,28 L 273.837,56 H 28 L 0,28 Z" fill="#59C059" stroke="#389438"/><text x="1314.78" y="718.20" fill="#fff" stroke="#fff" stroke-width="0.80">not</text><path transform="translate(1345.02,688.00)" d="M 24,0 H 219.594 L 243.594,24 L 219.594,48 H 24 L 0,24 Z" fill="#59C059" stroke="#389438"/><rect x="1369.02" y="692.00" width="134.25" height="40" rx="20" fill="#FF8C1A" stroke="#DB6E00"/><text x="1381.02" y="718.20" fill="#fff" stroke="#fff" stroke-width="0.80">Number tracker</text><text x="1511.27" y="718.20" fill="#fff" stroke="#fff" stroke-width="0.80">=</text><rect x="1528.61" y="696.00" width="40.00" height="32" rx="16" fill="#fff" stroke="rgba(0,0,0,0.1)"/><text x="1548.61" y="718.20" fill="#575E75" stroke="#575E75" stroke-width="0.12" text-anchor="middle">4</text><text x="1612.61" y="718.20" fill="#fff" stroke="#fff" stroke-width="0.80">then</text><path transform="translate(32.00,752.00)" d="M 0,4 A 4,4 0 0 1 4,0 H 12 c 2,0 3,1 4,2 l 4,4 c 1,1 2,2 4,2 h 12 c 2,0 3,-1 4,-2 l 4,-4 c 1,-1 2,-2 4,-2 H 456.704 a 4,4 0 0 1 4,4 V 52 a 4,4 0 0 1 -4,4 H 48 c -2,0 -3,1 -4,2 l -4,4 c -1,1 -2,2 -4,2 h -12 c -2,0 -3,-1 -4,-2 l -4,-4 c -1,-1 -2,-2 -4,-2 H 4 a 4,4 0 0 1 -4,-4 Z" fill="#FF661A" stroke="#E64D00"/><text x="40.00" y="786.20" fill="#fff" stroke="#fff" stroke-width="0.80">add</text><rect x="80.00" y="756.00" width="279.77" height="48" rx="24" fill="#59C059" stroke="#389438"/><text x="92.00" y="786.20" fill="#fff" stroke="#fff" stroke-width="0.80">join</text><rect x="124.91" y="760.00" width="121.83" height="40" rx="20" fill="#FF661A" stroke="#E64D00"/><text x="136.91" y="786.20" fill="#fff" stroke="#fff" stroke-width="0.80">Individual row</text><rect x="254.74" y="764.00" width="101.04" height="32" rx="16" fill="#fff" stroke="rgba(0,0,0,0.1)"/><text x="305.25" y="786.20" fill="#575E75" stroke="#575E75" stroke-width="0.12" text-anchor="middle">, ch 1, turn.</text><text x="367.77" y="786.20" fill="#fff" stroke="#fff" stroke-width="0.80">to</text><rect x="389.12" y="764.00" width="95.59" height="32" rx="4" fill="#FF661A" stroke="rgba(0,0,0,0.15)"/><text x="401.12" y="786.20" fill="#fff" stroke="#fff" stroke-width="0.80">Pattern</text><path d="M 460.70,777.00 l 6,6 l 6,-6 Z" fill="#fff"/><path transform="translate(32.00,808.00)" d="M 0,4 A 4,4 0 0 1 4,0 H 12 c 2,0 3,1 4,2 l 4,4 c 1,1 2,2 4,2 h 12 c 2,0 3,-1 4,-2 l 4,-4 c 1,-1 2,-2 4,-2 H 243.665 a 4,4 0 0 1 4,4 V 44 a 4,4 0 0 1 -4,4 H 48 c -2,0 -3,1 -4,2 l -4,4 c -1,1 -2,2 -4,2 h -12 c -2,0 -3,-1 -4,-2 l -4,-4 c -1,-1 -2,-2 -4,-2 H 4 a 4,4 0 0 1 -4,-4 Z" fill="#FF661A" stroke="#E64D00"/><text x="40.00" y="838.20" fill="#fff" stroke="#fff" stroke-width="0.80">delete all of</text><rect x="129.84" y="816.00" width="141.83" height="32" rx="4" fill="#FF661A" stroke="rgba(0,0,0,0.15)"/><text x="141.84" y="838.20" fill="#fff" stroke="#fff" stroke-width="0.80">Individual row</text><path d="M 247.67,829.00 l 6,6 l 6,-6 Z" fill="#fff"/><path transform="translate(32.00,856.00)" d="M 0,4 A 4,4 0 0 1 4,0 H 12 c 2,0 3,1 4,2 l 4,4 c 1,1 2,2 4,2 h 12 c 2,0 3,-1 4,-2 l 4,-4 c 1,-1 2,-2 4,-2 H 285.415 a 4,4 0 0 1 4,4 V 44 a 4,4 0 0 1 -4,4 H 48 c -2,0 -3,1 -4,2 l -4,4 c -1,1 -2,2 -4,2 h -12 c -2,0 -3,-1 -4,-2 l -4,-4 c -1,-1 -2,-2 -4,-2 H 4 a 4,4 0 0 1 -4,-4 Z" fill="#FF8C1A" stroke="#DB6E00"/><text x="40.00" y="886.20" fill="#fff" stroke="#fff" stroke-width="0.80">change</text><rect x="100.49" y="864.00" width="140.02" height="32" rx="4" fill="#FF8C1A" stroke="rgba(0,0,0,0.15)"/><text x="112.49" y="886.20" fill="#fff" stroke="#fff" stroke-width="0.80">Name tracker</text><path d="M 216.52,877.00 l 6,6 l 6,-6 Z" fill="#fff"/><text x="248.52" y="886.20" fill="#fff" stroke="#fff" stroke-width="0.80">by</text><rect x="273.42" y="864.00" width="40.00" height="32" rx="16" fill="#fff" stroke="rgba(0,0,0,0.1)"/><text x="293.42" y="886.20" fill="#575E75" stroke="#575E75" stroke-width="0.12" text-anchor="middle">2</text><path transform="translate(32.00,904.00)" d="M 0,4 A 4,4 0 0 1 4,0 H 12 c 2,0 3,1 4,2 l 4,4 c 1,1 2,2 4,2 h 12 c 2,0 3,-1 4,-2 l 4,-4 c 1,-1 2,-2 4,-2 H 299.642 a 4,4 0 0 1 4,4 V 44 a 4,4 0 0 1 -4,4 H 48 c -2,0 -3,1 -4,2 l -4,4 c -1,1 -2,2 -4,2 h -12 c -2,0 -3,-1 -4,-2 l -4,-4 c -1,-1 -2,-2 -4,-2 H 4 a 4,4 0 0 1 -4,-4 Z" fill="#FF8C1A" stroke="#DB6E00"/><text x="40.00" y="934.20" fill="#fff" stroke="#fff" stroke-width="0.80">change</text><rect x="100.49" y="912.00" width="154.25" height="32" rx="4" fill="#FF8C1A" stroke="rgba(0,0,0,0.15)"/><text x="112.49" y="934.20" fill="#fff" stroke="#fff" stroke-width="0.80">Number tracker</text><path d="M 230.74,925.00 l 6,6 l 6,-6 Z" fill="#fff"/><text x="262.74" y="934.20" fill="#fff" stroke="#fff" stroke-width="0.80">by</text><rect x="287.64" y="912.00" width="40.00" height="32" rx="16" fill="#fff" stroke="rgba(0,0,0,0.1)"/><text x="307.64" y="934.20" fill="#575E75" stroke="#575E75" stroke-width="0.12" text-anchor="middle">2</text><path transform="translate(16.00,984.00)" d="M 0,4 A 4,4 0 0 1 4,0 H 12 c 2,0 3,1 4,2 l 4,4 c 1,1 2,2 4,2 h 12 c 2,0 3,-1 4,-2 l 4,-4 c 1,-1 2,-2 4,-2 H 1898.52 a 4,4 0 0 1 4,4 V 108 a 4,4 0 0 1 -4,4 H 48 c -2,0 -3,1 -4,2 l -4,4 c -1,1 -2,2 -4,2 h -12 c -2,0 -3,-1 -4,-2 l -4,-4 c -1,-1 -2,-2 -4,-2 H 4 a 4,4 0 0 1 -4,-4 Z" fill="#FF661A" stroke="#E64D00"/><text x="24.00" y="1046.20" fill="#fff" stroke="#fff" stroke-width="0.80">add</text><rect x="64.00" y="988.00" width="1675.35" height="104" rx="52" fill="#59C059" stroke="#389438"/><text x="76.00" y="1046.20" fill="#fff" stroke="#fff" stroke-width="0.80">join</text><rect x="108.91" y="1024.00" width="72.59" height="32" rx="16" fill="#fff" stroke="rgba(0,0,0,0.1)"/><text x="145.20" y="1046.20" fill="#575E75" stroke="#575E75" stroke-width="0.12" text-anchor="middle">Round </text><rect x="189.50" y="992.00" width="1545.85" height="96" rx="48" fill="#59C059" stroke="#389438"/><text x="201.50" y="1046.20" fill="#fff" stroke="#fff" stroke-width="0.80">join</text><rect x="234.41" y="1020.00" width="56.01" height="40" rx="20" fill="#FF8C1A" stroke="#DB6E00"/><text x="246.41" y="1046.20" fill="#fff" stroke="#fff" stroke-width="0.80">Row</text><rect x="298.41" y="996.00" width="1432.93" height="88" rx="44" fill="#59C059" stroke="#389438"/><text x="310.41" y="1046.20" fill="#fff" stroke="#fff" stroke-width="0.80">join</text><rect x="343.32" y="1024.00" width="40.00" height="32" rx="16" fill="#fff" stroke="rgba(0,0,0,0.1)"/><text x="363.32" y="1046.20" fill="#575E75" stroke="#575E75" stroke-width="0.12" text-anchor="middle">:</text><rect x="391.32" y="1000.00" width="1336.03" height="80" rx="40" fill="#59C059" stroke="#389438"/><text x="403.32" y="1046.20" fill="#fff" stroke="#fff" stroke-width="0.80">join</text><rect x="436.23" y="1012.00" width="512.24" height="56" rx="28" fill="#59C059" stroke="#389438"/><text x="448.23" y="1046.20" fill="#fff" stroke="#fff" stroke-width="0.80">join</text><rect x="481.13" y="1024.00" width="66.35" height="32" rx="16" fill="#fff" stroke="rgba(0,0,0,0.1)"/><text x="514.31" y="1046.20" fill="#575E75" stroke="#575E75" stroke-width="0.12" text-anchor="middle">Using </text><rect x="555.49" y="1016.00" width="388.99" height="48" rx="24" fill="#FF661A" stroke="#E64D00"/><text x="567.49" y="1046.20" fill="#fff" stroke="#fff" stroke-width="0.80">item</text><rect x="605.71" y="1020.00" width="120.02" height="40" rx="20" fill="#FF8C1A" stroke="#DB6E00"/><text x="617.71" y="1046.20" fill="#fff" stroke="#fff" stroke-width="0.80">Name tracker</text><text x="733.74" y="1046.20" fill="#fff" stroke="#fff" stroke-width="0.80">of</text><rect x="755.08" y="1024.00" width="177.39" height="32" rx="4" fill="#FF661A" stroke="rgba(0,0,0,0.15)"/><text x="767.08" y="1046.20" fill="#fff" stroke="#fff" stroke-width="0.80">how many in a row</text><path d="M 908.47,1037.00 l 6,6 l 6,-6 Z" fill="#fff"/><rect x="956.47" y="1004.00" width="766.88" height="72" rx="36" fill="#59C059" stroke="#389438"/><text x="968.47" y="1046.20" fill="#fff" stroke="#fff" stroke-width="0.80">join</text><rect x="1001.38" y="1024.00" width="40.00" height="32" rx="16" fill="#fff" stroke="rgba(0,0,0,0.1)"/><text x="1021.38" y="1046.20" fill="#575E75" stroke="#575E75" stroke-width="0.12" text-anchor="middle">,</text><rect x="1049.38" y="1008.00" width="669.97" height="64" rx="32" fill="#59C059" stroke="#389438"/><text x="1061.38" y="1046.20" fill="#fff" stroke="#fff" stroke-width="0.80">join</text><rect x="1094.29" y="1020.00" width="112.95" height="40" rx="20" fill="#FF8C1A" stroke="#DB6E00"/><text x="1106.29" y="1046.20" fill="#fff" stroke="#fff" stroke-width="0.80">Abbreviation</text><rect x="1215.23" y="1012.00" width="500.12" height="56" rx="28" fill="#59C059" stroke="#389438"/><text x="1227.23" y="1046.20" fill="#fff" stroke="#fff" stroke-width="0.80">join</text><rect x="1260.14" y="1024.00" width="40.00" height="32" rx="16" fill="#fff" stroke="rgba(0,0,0,0.1)"/><text x="1280.14" y="1046.20" fill="#575E75" stroke="#575E75" stroke-width="0.12" text-anchor="middle"> </text><rect x="1308.14" y="1016.00" width="403.21" height="48" rx="24" fill="#FF661A" stroke="#E64D00"/><text x="1320.14" y="1046.20" fill="#fff" stroke="#fff" stroke-width="0.80">item</text><rect x="1358.36" y="1020.00" width="134.25" height="40" rx="20" fill="#FF8C1A" stroke="#DB6E00"/><text x="1370.36" y="1046.20" fill="#fff" stroke="#fff" stroke-width="0.80">Number tracker</text><text x="1500.62" y="1046.20" fill="#fff" stroke="#fff" stroke-width="0.80">of</text><rect x="1521.96" y="1024.00" width="177.39" height="32" rx="4" fill="#FF661A" stroke="rgba(0,0,0,0.15)"/><text x="1533.96" y="1046.20" fill="#fff" stroke="#fff" stroke-width="0.80">how many in a row</text><path d="M 1675.35,1037.00 l 6,6 l 6,-6 Z" fill="#fff"/><text x="1747.35" y="1046.20" fill="#fff" stroke="#fff" stroke-width="0.80">to</text><rect x="1768.69" y="1024.00" width="141.83" height="32" rx="4" fill="#FF661A" stroke="rgba(0,0,0,0.15)"/><text x="1780.69" y="1046.20" fill="#fff" stroke="#fff" stroke-width="0.80">Individual row</text><path d="M 1886.52,1037.00 l 6,6 l 6,-6 Z" fill="#fff"/><path transform="translate(16.00,1096.00)" d="M 0,4 A 4,4 0 0 1 4,0 H 12 c 2,0 3,1 4,2 l 4,4 c 1,1 2,2 4,2 h 12 c 2,0 3,-1 4,-2 l 4,-4 c 1,-1 2,-2 4,-2 H 1389.95 a 4,4 0 0 1 4,4 V 68 a 4,4 0 0 1 -4,4 H 64 c -2,0 -3,1 -4,2 l -4,4 c -1,1 -2,2 -4,2 h -12 c -2,0 -3,-1 -4,-2 l -4,-4 c -1,-1 -2,-2 -4,-2 H 20 a 4,4 0 0 0 -4,4 V 564 a 4,4 0 0 0 4,4 H 28 c 2,0 3,1 4,2 l 4,4 c 1,1 2,2 4,2 h 12 c 2,0 3,-1 4,-2 l 4,-4 c 1,-1 2,-2 4,-2 H 1389.95 a 4,4 0 0 1 4,4 V 596 a 4,4 0 0 1 -4,4 H 48 c -2,0 -3,1 -4,2 l -4,4 c -1,1 -2,2 -4,2 h -12 c -2,0 -3,-1 -4,-2 l -4,-4 c -1,-1 -2,-2 -4,-2 H 4 a 4,4 0 0 1 -4,-4 Z" fill="#FFAB19" stroke="#CF8B17"/><text x="24.00" y="1138.20" fill="#fff" stroke="#fff" stroke-width="0.80">if</text><path transform="translate(64.00,1100.00)" d="M 32,0 H 1266.81 L 1298.81,32 L 1266.81,64 H 32 L 0,32 Z" fill="#59C059" stroke="#389438"/><text x="84.00" y="1138.20" fill="#fff" stroke="#fff" stroke-width="0.80">not</text><path transform="translate(114.24,1104.00)" d="M 28,0 H 1212.57 L 1240.57,28 L 1212.57,56 H 28 L 0,28 Z" fill="#59C059" stroke="#389438"/><path transform="translate(122.24,1108.00)" d="M 24,0 H 566.057 L 590.057,24 L 566.057,48 H 24 L 0,24 Z" fill="#59C059" stroke="#389438"/><rect x="146.24" y="1112.00" width="120.02" height="40" rx="20" fill="#FF8C1A" stroke="#DB6E00"/><text x="158.24" y="1138.20" fill="#fff" stroke="#fff" stroke-width="0.80">Name tracker</text><text x="274.27" y="1138.20" fill="#fff" stroke="#fff" stroke-width="0.80">=</text><rect x="291.61" y="1112.00" width="396.69" height="40" rx="20" fill="#FF661A" stroke="#E64D00"/><text x="303.61" y="1138.20" fill="#fff" stroke="#fff" stroke-width="0.80">item # of</text><rect x="372.97" y="1116.00" width="97.48" height="32" rx="16" fill="#fff" stroke="rgba(0,0,0,0.1)"/><text x="421.71" y="1138.20" fill="#575E75" stroke="#575E75" stroke-width="0.12" text-anchor="middle">End of row</text><text x="478.45" y="1138.20" fill="#fff" stroke="#fff" stroke-width="0.80">in</text><rect x="498.91" y="1116.00" width="177.39" height="32" rx="4" fill="#FF661A" stroke="rgba(0,0,0,0.15)"/><text x="510.91" y="1138.20" fill="#fff" stroke="#fff" stroke-width="0.80">how many in a row</text><path d="M 652.30,1129.00 l 6,6 l 6,-6 Z" fill="#fff"/><text x="720.30" y="1138.20" fill="#fff" stroke="#fff" stroke-width="0.80">or</text><path transform="translate(742.53,1108.00)" d="M 24,0 H 580.283 L 604.283,24 L 580.283,48 H 24 L 0,24 Z" fill="#59C059" stroke="#389438"/><rect x="766.53" y="1112.00" width="134.25" height="40" rx="20" fill="#FF8C1A" stroke="#DB6E00"/><text x="778.53" y="1138.20" fill="#fff" stroke="#fff" stroke-width="0.80">Number tracker</text><text x="908.78" y="1138.20" fill="#fff" stroke="#fff" stroke-width="0.80">=</text><rect x="926.12" y="1112.00" width="396.69" height="40" rx="20" fill="#FF661A" stroke="#E64D00"/><text x="938.12" y="1138.20" fill="#fff" stroke="#fff" stroke-width="0.80">item # of</text><rect x="1007.48" y="1116.00" width="97.48" height="32" rx="16" fill="#fff" stroke="rgba(0,0,0,0.1)"/><text x="1056.22" y="1138.20" fill="#575E75" stroke="#575E75" stroke-width="0.12" text-anchor="middle">End of row</text><text x="1112.96" y="1138.20" fill="#fff" stroke="#fff" stroke-width="0.80">in</text><rect x="1133.42" y="1116.00" width="177.39" height="32" rx="4" fill="#FF661A" stroke="rgba(0,0,0,0.15)"/><text x="1145.42" y="1138.20" fill="#fff" stroke="#fff" stroke-width="0.80">how many in a row</text><path d="M 1286.81,1129.00 l 6,6 l 6,-6 Z" fill="#fff"/><text x="1370.81" y="1138.20" fill="#fff" stroke="#fff" stroke-width="0.80">then</text><path transform="translate(32.00,1168.00)" d="M 0,4 A 4,4 0 0 1 4,0 H 12 c 2,0 3,1 4,2 l 4,4 c 1,1 2,2 4,2 h 12 c 2,0 3,-1 4,-2 l 4,-4 c 1,-1 2,-2 4,-2 H 285.415 a 4,4 0 0 1 4,4 V 44 a 4,4 0 0 1 -4,4 H 48 c -2,0 -3,1 -4,2 l -4,4 c -1,1 -2,2 -4,2 h -12 c -2,0 -3,-1 -4,-2 l -4,-4 c -1,-1 -2,-2 -4,-2 H 4 a 4,4 0 0 1 -4,-4 Z" fill="#FF8C1A" stroke="#DB6E00"/><text x="40.00" y="1198.20" fill="#fff" stroke="#fff" stroke-width="0.80">change</text><rect x="100.49" y="1176.00" width="140.02" height="32" rx="4" fill="#FF8C1A" stroke="rgba(0,0,0,0.15)"/><text x="112.49" y="1198.20" fill="#fff" stroke="#fff" stroke-width="0.80">Name tracker</text><path d="M 216.52,1189.00 l 6,6 l 6,-6 Z" fill="#fff"/><text x="248.52" y="1198.20" fill="#fff" stroke="#fff" stroke-width="0.80">by</text><rect x="273.42" y="1176.00" width="40.00" height="32" rx="16" fill="#fff" stroke="rgba(0,0,0,0.1)"/><text x="293.42" y="1198.20" fill="#575E75" stroke="#575E75" stroke-width="0.12" text-anchor="middle">2</text><path transform="translate(32.00,1216.00)" d="M 0,4 A 4,4 0 0 1 4,0 H 12 c 2,0 3,1 4,2 l 4,4 c 1,1 2,2 4,2 h 12 c 2,0 3,-1 4,-2 l 4,-4 c 1,-1 2,-2 4,-2 H 299.642 a 4,4 0 0 1 4,4 V 44 a 4,4 0 0 1 -4,4 H 48 c -2,0 -3,1 -4,2 l -4,4 c -1,1 -2,2 -4,2 h -12 c -2,0 -3,-1 -4,-2 l -4,-4 c -1,-1 -2,-2 -4,-2 H 4 a 4,4 0 0 1 -4,-4 Z" fill="#FF8C1A" stroke="#DB6E00"/><text x="40.00" y="1246.20" fill="#fff" stroke="#fff" stroke-width="0.80">change</text><rect x="100.49" y="1224.00" width="154.25" height="32" rx="4" fill="#FF8C1A" stroke="rgba(0,0,0,0.15)"/><text x="112.49" y="1246.20" fill="#fff" stroke="#fff" stroke-width="0.80">Number tracker</text><path d="M 230.74,1237.00 l 6,6 l 6,-6 Z" fill="#fff"/><text x="262.74" y="1246.20" fill="#fff" stroke="#fff" stroke-width="0.80">by</text><rect x="287.64" y="1224.00" width="40.00" height="32" rx="16" fill="#fff" stroke="rgba(0,0,0,0.1)"/><text x="307.64" y="1246.20" fill="#575E75" stroke="#575E75" stroke-width="0.12" text-anchor="middle">2</text><path transform="translate(32.00,1264.00)" d="M 0,4 A 4,4 0 0 1 4,0 H 12 c 2,0 3,1 4,2 l 4,4 c 1,1 2,2 4,2 h 12 c 2,0 3,-1 4,-2 l 4,-4 c 1,-1 2,-2 4,-2 H 677.064 a 4,4 0 0 1 4,4 V 68 a 4,4 0 0 1 -4,4 H 64 c -2,0 -3,1 -4,2 l -4,4 c -1,1 -2,2 -4,2 h -12 c -2,0 -3,-1 -4,-2 l -4,-4 c -1,-1 -2,-2 -4,-2 H 20 a 4,4 0 0 0 -4,4 V 364 a 4,4 0 0 0 4,4 H 28 c 2,0 3,1 4,2 l 4,4 c 1,1 2,2 4,2 h 12 c 2,0 3,-1 4,-2 l 4,-4 c 1,-1 2,-2 4,-2 H 677.064 a 4,4 0 0 1 4,4 V 396 a 4,4 0 0 1 -4,4 H 48 c -2,0 -3,1 -4,2 l -4,4 c -1,1 -2,2 -4,2 h -12 c -2,0 -3,-1 -4,-2 l -4,-4 c -1,-1 -2,-2 -4,-2 H 4 a 4,4 0 0 1 -4,-4 Z" fill="#FFAB19" stroke="#CF8B17"/><text x="40.00" y="1306.20" fill="#fff" stroke="#fff" stroke-width="0.80">if</text><path transform="translate(80.00,1268.00)" d="M 32,0 H 553.923 L 585.923,32 L 553.923,64 H 32 L 0,32 Z" fill="#59C059" stroke="#389438"/><text x="100.00" y="1306.20" fill="#fff" stroke="#fff" stroke-width="0.80">not</text><path transform="translate(130.24,1272.00)" d="M 28,0 H 499.681 L 527.681,28 L 499.681,56 H 28 L 0,28 Z" fill="#59C059" stroke="#389438"/><rect x="158.24" y="1276.00" width="388.99" height="48" rx="24" fill="#FF661A" stroke="#E64D00"/><text x="170.24" y="1306.20" fill="#fff" stroke="#fff" stroke-width="0.80">item</text><rect x="208.47" y="1280.00" width="120.02" height="40" rx="20" fill="#FF8C1A" stroke="#DB6E00"/><text x="220.47" y="1306.20" fill="#fff" stroke="#fff" stroke-width="0.80">Name tracker</text><text x="336.49" y="1306.20" fill="#fff" stroke="#fff" stroke-width="0.80">of</text><rect x="357.84" y="1284.00" width="177.39" height="32" rx="4" fill="#FF661A" stroke="rgba(0,0,0,0.15)"/><text x="369.84" y="1306.20" fill="#fff" stroke="#fff" stroke-width="0.80">how many in a row</text><path d="M 511.23,1297.00 l 6,6 l 6,-6 Z" fill="#fff"/><text x="555.23" y="1306.20" fill="#fff" stroke="#fff" stroke-width="0.80">=</text><rect x="572.57" y="1280.00" width="61.35" height="40" rx="20" fill="#FF8C1A" stroke="#DB6E00"/><text x="584.57" y="1306.20" fill="#fff" stroke="#fff" stroke-width="0.80">width</text><text x="673.92" y="1306.20" fill="#fff" stroke="#fff" stroke-width="0.80">then</text><path transform="translate(48.00,1336.00)" d="M 0,4 A 4,4 0 0 1 4,0 H 12 c 2,0 3,1 4,2 l 4,4 c 1,1 2,2 4,2 h 12 c 2,0 3,-1 4,-2 l 4,-4 c 1,-1 2,-2 4,-2 H 1279.25 a 4,4 0 0 1 4,4 V 68 a 4,4 0 0 1 -4,4 H 64 c -2,0 -3,1 -4,2 l -4,4 c -1,1 -2,2 -4,2 h -12 c -2,0 -3,-1 -4,-2 l -4,-4 c -1,-1 -2,-2 -4,-2 H 20 a 4,4 0 0 0 -4,4 V 260 a 4,4 0 0 0 4,4 H 28 c 2,0 3,1 4,2 l 4,4 c 1,1 2,2 4,2 h 12 c 2,0 3,-1 4,-2 l 4,-4 c 1,-1 2,-2 4,-2 H 1279.25 a 4,4 0 0 1 4,4 V 292 a 4,4 0 0 1 -4,4 H 48 c -2,0 -3,1 -4,2 l -4,4 c -1,1 -2,2 -4,2 h -12 c -2,0 -3,-1 -4,-2 l -4,-4 c -1,-1 -2,-2 -4,-2 H 4 a 4,4 0 0 1 -4,-4 Z" fill="#FFAB19" stroke="#CF8B17"/><text x="56.00" y="1378.20" fill="#fff" stroke="#fff" stroke-width="0.80">repeat until</text><path transform="translate(143.16,1340.00)" d="M 32,0 H 1148.08 L 1180.08,32 L 1148.08,64 H 32 L 0,32 Z" fill="#59C059" stroke="#389438"/><path transform="translate(151.16,1344.00)" d="M 28,0 H 531.814 L 559.814,28 L 531.814,56 H 28 L 0,28 Z" fill="#59C059" stroke="#389438"/><rect x="179.16" y="1348.00" width="388.99" height="48" rx="24" fill="#FF661A" stroke="#E64D00"/><text x="191.16" y="1378.20" fill="#fff" stroke="#fff" stroke-width="0.80">item</text><rect x="229.39" y="1352.00" width="120.02" height="40" rx="20" fill="#FF8C1A" stroke="#DB6E00"/><text x="241.39" y="1378.20" fill="#fff" stroke="#fff" stroke-width="0.80">Name tracker</text><text x="357.42" y="1378.20" fill="#fff" stroke="#fff" stroke-width="0.80">of</text><rect x="378.76" y="1356.00" width="177.39" height="32" rx="4" fill="#FF661A" stroke="rgba(0,0,0,0.15)"/><text x="390.76" y="1378.20" fill="#fff" stroke="#fff" stroke-width="0.80">how many in a row</text><path d="M 532.15,1369.00 l 6,6 l 6,-6 Z" fill="#fff"/><text x="576.15" y="1378.20" fill="#fff" stroke="#fff" stroke-width="0.80">=</text><rect x="593.49" y="1356.00" width="97.48" height="32" rx="16" fill="#fff" stroke="rgba(0,0,0,0.1)"/><text x="642.24" y="1378.20" fill="#575E75" stroke="#575E75" stroke-width="0.12" text-anchor="middle">End of row</text><text x="718.98" y="1378.20" fill="#fff" stroke="#fff" stroke-width="0.80">or</text><path transform="translate(741.21,1344.00)" d="M 28,0 H 546.041 L 574.041,28 L 546.041,56 H 28 L 0,28 Z" fill="#59C059" stroke="#389438"/><rect x="769.21" y="1348.00" width="403.21" height="48" rx="24" fill="#FF661A" stroke="#E64D00"/><text x="781.21" y="1378.20" fill="#fff" stroke="#fff" stroke-width="0.80">item</text><rect x="819.43" y="1352.00" width="134.25" height="40" rx="20" fill="#FF8C1A" stroke="#DB6E00"/><text x="831.43" y="1378.20" fill="#fff" stroke="#fff" stroke-width="0.80">Number tracker</text><text x="961.68" y="1378.20" fill="#fff" stroke="#fff" stroke-width="0.80">of</text><rect x="983.03" y="1356.00" width="177.39" height="32" rx="4" fill="#FF661A" stroke="rgba(0,0,0,0.15)"/><text x="995.03" y="1378.20" fill="#fff" stroke="#fff" stroke-width="0.80">how many in a row</text><path d="M 1136.42,1369.00 l 6,6 l 6,-6 Z" fill="#fff"/><text x="1180.42" y="1378.20" fill="#fff" stroke="#fff" stroke-width="0.80">=</text><rect x="1197.76" y="1356.00" width="97.48" height="32" rx="16" fill="#fff" stroke="rgba(0,0,0,0.1)"/><text x="1246.50" y="1378.20" fill="#575E75" stroke="#575E75" stroke-width="0.12" text-anchor="middle">End of row</text><path transform="translate(64.00,1408.00)" d="M 0,4 A 4,4 0 0 1 4,0 H 12 c 2,0 3,1 4,2 l 4,4 c 1,1 2,2 4,2 h 12 c 2,0 3,-1 4,-2 l 4,-4 c 1,-1 2,-2 4,-2 H 1593.02 a 4,4 0 0 1 4,4 V 92 a 4,4 0 0 1 -4,4 H 48 c -2,0 -3,1 -4,2 l -4,4 c -1,1 -2,2 -4,2 h -12 c -2,0 -3,-1 -4,-2 l -4,-4 c -1,-1 -2,-2 -4,-2 H 4 a 4,4 0 0 1 -4,-4 Z" fill="#FF661A" stroke="#E64D00"/><text x="72.00" y="1462.20" fill="#fff" stroke="#fff" stroke-width="0.80">add</text><rect x="112.00" y="1412.00" width="1369.85" height="88" rx="44" fill="#59C059" stroke="#389438"/><text x="124.00" y="1462.20" fill="#fff" stroke="#fff" stroke-width="0.80">join</text><rect x="156.91" y="1440.00" width="100.17" height="32" rx="16" fill="#fff" stroke="rgba(0,0,0,0.1)"/><text x="206.99" y="1462.20" fill="#575E75" stroke="#575E75" stroke-width="0.12" text-anchor="middle">, change to</text><rect x="265.08" y="1416.00" width="1212.77" height="80" rx="40" fill="#59C059" stroke="#389438"/><text x="277.08" y="1462.20" fill="#fff" stroke="#fff" stroke-width="0.80">join</text><rect x="309.98" y="1432.00" width="388.99" height="48" rx="24" fill="#FF661A" stroke="#E64D00"/><text x="321.98" y="1462.20" fill="#fff" stroke="#fff" stroke-width="0.80">item</text><rect x="360.21" y="1436.00" width="120.02" height="40" rx="20" fill="#FF8C1A" stroke="#DB6E00"/><text x="372.21" y="1462.20" fill="#fff" stroke="#fff" stroke-width="0.80">Name tracker</text><text x="488.24" y="1462.20" fill="#fff" stroke="#fff" stroke-width="0.80">of</text><rect x="509.58" y="1440.00" width="177.39" height="32" rx="4" fill="#FF661A" stroke="rgba(0,0,0,0.15)"/><text x="521.58" y="1462.20" fill="#fff" stroke="#fff" stroke-width="0.80">how many in a row</text><path d="M 662.97,1453.00 l 6,6 l 6,-6 Z" fill="#fff"/><rect x="706.97" y="1420.00" width="766.88" height="72" rx="36" fill="#59C059" stroke="#389438"/><text x="718.97" y="1462.20" fill="#fff" stroke="#fff" stroke-width="0.80">join</text><rect x="751.88" y="1440.00" width="40.00" height="32" rx="16" fill="#fff" stroke="rgba(0,0,0,0.1)"/><text x="771.88" y="1462.20" fill="#575E75" stroke="#575E75" stroke-width="0.12" text-anchor="middle">.</text><rect x="799.88" y="1424.00" width="669.97" height="64" rx="32" fill="#59C059" stroke="#389438"/><text x="811.88" y="1462.20" fill="#fff" stroke="#fff" stroke-width="0.80">join</text><rect x="844.78" y="1436.00" width="112.95" height="40" rx="20" fill="#FF8C1A" stroke="#DB6E00"/><text x="856.78" y="1462.20" fill="#fff" stroke="#fff" stroke-width="0.80">Abbreviation</text><rect x="965.73" y="1428.00" width="500.12" height="56" rx="28" fill="#59C059" stroke="#389438"/><text x="977.73" y="1462.20" fill="#fff" stroke="#fff" stroke-width="0.80">join</text><rect x="1010.64" y="1440.00" width="40.00" height="32" rx="16" fill="#fff" stroke="rgba(0,0,0,0.1)"/><text x="1030.64" y="1462.20" fill="#575E75" stroke="#575E75" stroke-width="0.12" text-anchor="middle"> </text><rect x="1058.64" y="1432.00" width="403.21" height="48" rx="24" fill="#FF661A" stroke="#E64D00"/><text x="1070.64" y="1462.20" fill="#fff" stroke="#fff" stroke-width="0.80">item</text><rect x="1108.86" y="1436.00" width="134.25" height="40" rx="20" fill="#FF8C1A" stroke="#DB6E00"/><text x="1120.86" y="1462.20" fill="#fff" stroke="#fff" stroke-width="0.80">Number tracker</text><text x="1251.11" y="1462.20" fill="#fff" stroke="#fff" stroke-width="0.80">of</text><rect x="1272.46" y="1440.00" width="177.39" height="32" rx="4" fill="#FF661A" stroke="rgba(0,0,0,0.15)"/><text x="1284.46" y="1462.20" fill="#fff" stroke="#fff" stroke-width="0.80">how many in a row</text><path d="M 1425.85,1453.00 l 6,6 l 6,-6 Z" fill="#fff"/><text x="1489.85" y="1462.20" fill="#fff" stroke="#fff" stroke-width="0.80">to</text><rect x="1511.19" y="1440.00" width="141.83" height="32" rx="4" fill="#FF661A" stroke="rgba(0,0,0,0.15)"/><text x="1523.19" y="1462.20" fill="#fff" stroke="#fff" stroke-width="0.80">Individual row</text><path d="M 1629.02,1453.00 l 6,6 l 6,-6 Z" fill="#fff"/><path transform="translate(64.00,1504.00)" d="M 0,4 A 4,4 0 0 1 4,0 H 12 c 2,0 3,1 4,2 l 4,4 c 1,1 2,2 4,2 h 12 c 2,0 3,-1 4,-2 l 4,-4 c 1,-1 2,-2 4,-2 H 285.415 a 4,4 0 0 1 4,4 V 44 a 4,4 0 0 1 -4,4 H 48 c -2,0 -3,1 -4,2 l -4,4 c -1,1 -2,2 -4,2 h -12 c -2,0 -3,-1 -4,-2 l -4,-4 c -1,-1 -2,-2 -4,-2 H 4 a 4,4 0 0 1 -4,-4 Z" fill="#FF8C1A" stroke="#DB6E00"/><text x="72.00" y="1534.20" fill="#fff" stroke="#fff" stroke-width="0.80">change</text><rect x="132.49" y="1512.00" width="140.02" height="32" rx="4" fill="#FF8C1A" stroke="rgba(0,0,0,0.15)"/><text x="144.49" y="1534.20" fill="#fff" stroke="#fff" stroke-width="0.80">Name tracker</text><path d="M 248.52,1525.00 l 6,6 l 6,-6 Z" fill="#fff"/><text x="280.52" y="1534.20" fill="#fff" stroke="#fff" stroke-width="0.80">by</text><rect x="305.42" y="1512.00" width="40.00" height="32" rx="16" fill="#fff" stroke="rgba(0,0,0,0.1)"/><text x="325.42" y="1534.20" fill="#575E75" stroke="#575E75" stroke-width="0.12" text-anchor="middle">2</text><path transform="translate(64.00,1552.00)" d="M 0,4 A 4,4 0 0 1 4,0 H 12 c 2,0 3,1 4,2 l 4,4 c 1,1 2,2 4,2 h 12 c 2,0 3,-1 4,-2 l 4,-4 c 1,-1 2,-2 4,-2 H 299.642 a 4,4 0 0 1 4,4 V 44 a 4,4 0 0 1 -4,4 H 48 c -2,0 -3,1 -4,2 l -4,4 c -1,1 -2,2 -4,2 h -12 c -2,0 -3,-1 -4,-2 l -4,-4 c -1,-1 -2,-2 -4,-2 H 4 a 4,4 0 0 1 -4,-4 Z" fill="#FF8C1A" stroke="#DB6E00"/><text x="72.00" y="1582.20" fill="#fff" stroke="#fff" stroke-width="0.80">change</text><rect x="132.49" y="1560.00" width="154.25" height="32" rx="4" fill="#FF8C1A" stroke="rgba(0,0,0,0.15)"/><text x="144.49" y="1582.20" fill="#fff" stroke="#fff" stroke-width="0.80">Number tracker</text><path d="M 262.74,1573.00 l 6,6 l 6,-6 Z" fill="#fff"/><text x="294.74" y="1582.20" fill="#fff" stroke="#fff" stroke-width="0.80">by</text><rect x="319.64" y="1560.00" width="40.00" height="32" rx="16" fill="#fff" stroke="rgba(0,0,0,0.1)"/><text x="339.64" y="1582.20" fill="#575E75" stroke="#575E75" stroke-width="0.12" text-anchor="middle">2</text><path transform="translate(1307.25,1608.00)" d="M2,14 C2,6 8,4 12,4 V1 L17,6 L12,11 V8 C9,8 6,9 6,14 Z" fill="#fff" stroke="#CF8B17" stroke-width="0.8"/><path transform="translate(136.00,1704.00)" d="M2,14 C2,6 8,4 12,4 V1 L17,6 L12,11 V8 C9,8 6,9 6,14 Z" fill="#fff" stroke="#CF8B17" stroke-width="0.8"/><path transform="translate(0.00,1728.00)" d="M 0,4 A 4,4 0 0 1 4,0 H 12 c 2,0 3,1 4,2 l 4,4 c 1,1 2,2 4,2 h 12 c 2,0 3,-1 4,-2 l 4,-4 c 1,-1 2,-2 4,-2 H 613.697 a 4,4 0 0 1 4,4 V 44 a 4,4 0 0 1 -4,4 H 48 c -2,0 -3,1 -4,2 l -4,4 c -1,1 -2,2 -4,2 h -12 c -2,0 -3,-1 -4,-2 l -4,-4 c -1,-1 -2,-2 -4,-2 H 4 a 4,4 0 0 1 -4,-4 Z" fill="#FF661A" stroke="#E64D00"/><text x="8.00" y="1758.20" fill="#fff" stroke="#fff" stroke-width="0.80">add</text><rect x="48.00" y="1736.00" width="436.77" height="32" rx="16" fill="#fff" stroke="rgba(0,0,0,0.1)"/><text x="266.38" y="1758.20" fill="#575E75" stroke="#575E75" stroke-width="0.12" text-anchor="middle">Cut yarn and pull through loop. You're finished, congrats! :)</text><text x="492.77" y="1758.20" fill="#fff" stroke="#fff" stroke-width="0.80">to</text><rect x="514.11" y="1736.00" width="95.59" height="32" rx="4" fill="#FF661A" stroke="rgba(0,0,0,0.15)"/><text x="526.11" y="1758.20" fill="#fff" stroke="#fff" stroke-width="0.80">Pattern</text><path d="M 585.70,1749.00 l 6,6 l 6,-6 Z" fill="#fff"/><path transform="translate(0.00,1776.00)" d="M 0,4 A 4,4 0 0 1 4,0 H 12 c 2,0 3,1 4,2 l 4,4 c 1,1 2,2 4,2 h 12 c 2,0 3,-1 4,-2 l 4,-4 c 1,-1 2,-2 4,-2 H 310.337 a 4,4 0 0 1 4,4 V 44 a 4,4 0 0 1 -4,4 H 48 c -2,0 -3,1 -4,2 l -4,4 c -1,1 -2,2 -4,2 h -12 c -2,0 -3,-1 -4,-2 l -4,-4 c -1,-1 -2,-2 -4,-2 H 4 a 4,4 0 0 1 -4,-4 Z" fill="#FF8C1A" stroke="#DB6E00"/><text x="8.00" y="1806.20" fill="#fff" stroke="#fff" stroke-width="0.80">set</text><rect x="48.00" y="1784.00" width="153.41" height="32" rx="4" fill="#FF8C1A" stroke="rgba(0,0,0,0.15)"/><text x="60.00" y="1806.20" fill="#fff" stroke="#fff" stroke-width="0.80">finished pattern</text><path d="M 177.41,1797.00 l 6,6 l 6,-6 Z" fill="#fff"/><text x="209.41" y="1806.20" fill="#fff" stroke="#fff" stroke-width="0.80">to</text><rect x="230.75" y="1780.00" width="75.59" height="40" rx="20" fill="#FF661A" stroke="#E64D00"/><text x="242.75" y="1806.20" fill="#fff" stroke="#fff" stroke-width="0.80">Pattern</text><path transform="translate(0.00,1824.00)" d="M 0,4 A 4,4 0 0 1 4,0 H 12 c 2,0 3,1 4,2 l 4,4 c 1,1 2,2 4,2 h 12 c 2,0 3,-1 4,-2 l 4,-4 c 1,-1 2,-2 4,-2 H 271.236 a 4,4 0 0 1 4,4 V 44 a 4,4 0 0 1 -4,4 H 48 c -2,0 -3,1 -4,2 l -4,4 c -1,1 -2,2 -4,2 h -12 c -2,0 -3,-1 -4,-2 l -4,-4 c -1,-1 -2,-2 -4,-2 H 4 a 4,4 0 0 1 -4,-4 Z" fill="#FF8C1A" stroke="#DB6E00"/><text x="8.00" y="1854.20" fill="#fff" stroke="#fff" stroke-width="0.80">show variable</text><rect x="113.83" y="1832.00" width="153.41" height="32" rx="4" fill="#FF8C1A" stroke="rgba(0,0,0,0.15)"/><text x="125.83" y="1854.20" fill="#fff" stroke="#fff" stroke-width="0.80">finished pattern</text><path d="M 243.24,1845.00 l 6,6 l 6,-6 Z" fill="#fff"/><path transform="translate(0.00,1872.00)" d="M 0,4 A 4,4 0 0 1 4,0 H 12 c 2,0 3,1 4,2 l 4,4 c 1,1 2,2 4,2 h 12 c 2,0 3,-1 4,-2 l 4,-4 c 1,-1 2,-2 4,-2 H 456.704 a 4,4 0 0 1 4,4 V 52 a 4,4 0 0 1 -4,4 H 48 c -2,0 -3,1 -4,2 l -4,4 c -1,1 -2,2 -4,2 h -12 c -2,0 -3,-1 -4,-2 l -4,-4 c -1,-1 -2,-2 -4,-2 H 4 a 4,4 0 0 1 -4,-4 Z" fill="#FF661A" stroke="#E64D00"/><text x="8.00" y="1906.20" fill="#fff" stroke="#fff" stroke-width="0.80">add</text><rect x="48.00" y="1876.00" width="279.77" height="48" rx="24" fill="#59C059" stroke="#389438"/><text x="60.00" y="1906.20" fill="#fff" stroke="#fff" stroke-width="0.80">join</text><rect x="92.91" y="1880.00" width="121.83" height="40" rx="20" fill="#FF661A" stroke="#E64D00"/><text x="104.91" y="1906.20" fill="#fff" stroke="#fff" stroke-width="0.80">Individual row</text><rect x="222.74" y="1884.00" width="101.04" height="32" rx="16" fill="#fff" stroke="rgba(0,0,0,0.1)"/><text x="273.25" y="1906.20" fill="#575E75" stroke="#575E75" stroke-width="0.12" text-anchor="middle">, ch 1, turn.</text><text x="335.77" y="1906.20" fill="#fff" stroke="#fff" stroke-width="0.80">to</text><rect x="357.12" y="1884.00" width="95.59" height="32" rx="4" fill="#FF661A" stroke="rgba(0,0,0,0.15)"/><text x="369.12" y="1906.20" fill="#fff" stroke="#fff" stroke-width="0.80">Pattern</text><path d="M 428.70,1897.00 l 6,6 l 6,-6 Z" fill="#fff"/><path transform="translate(0.00,1928.00)" d="M 0,4 A 4,4 0 0 1 4,0 H 12 c 2,0 3,1 4,2 l 4,4 c 1,1 2,2 4,2 h 12 c 2,0 3,-1 4,-2 l 4,-4 c 1,-1 2,-2 4,-2 H 243.665 a 4,4 0 0 1 4,4 V 44 a 4,4 0 0 1 -4,4 H 48 c -2,0 -3,1 -4,2 l -4,4 c -1,1 -2,2 -4,2 h -12 c -2,0 -3,-1 -4,-2 l -4,-4 c -1,-1 -2,-2 -4,-2 H 4 a 4,4 0 0 1 -4,-4 Z" fill="#FF661A" stroke="#E64D00"/><text x="8.00" y="1958.20" fill="#fff" stroke="#fff" stroke-width="0.80">delete all of</text><rect x="97.84" y="1936.00" width="141.83" height="32" rx="4" fill="#FF661A" stroke="rgba(0,0,0,0.15)"/><text x="109.84" y="1958.20" fill="#fff" stroke="#fff" stroke-width="0.80">Individual row</text><path d="M 215.67,1949.00 l 6,6 l 6,-6 Z" fill="#fff"/><path transform="translate(0.00,1976.00)" d="M 0,4 A 4,4 0 0 1 4,0 H 12 c 2,0 3,1 4,2 l 4,4 c 1,1 2,2 4,2 h 12 c 2,0 3,-1 4,-2 l 4,-4 c 1,-1 2,-2 4,-2 H 225.907 a 4,4 0 0 1 4,4 V 44 a 4,4 0 0 1 -4,4 H 48 c -2,0 -3,1 -4,2 l -4,4 c -1,1 -2,2 -4,2 h -12 c -2,0 -3,-1 -4,-2 l -4,-4 c -1,-1 -2,-2 -4,-2 H 4 a 4,4 0 0 1 -4,-4 Z" fill="#FFBF00" stroke="#CC9900"/><text x="8.00" y="2006.20" fill="#fff" stroke="#fff" stroke-width="0.80">broadcast</text><rect x="86.27" y="1984.00" width="135.64" height="32" rx="16" fill="#E6AC00" stroke="#CC9900"/><text x="98.27" y="2006.20" fill="#fff" stroke="#fff" stroke-width="0.80">loading done</text><path d="M 197.91,1997.00 l 6,6 l 6,-6 Z" fill="#fff"/></g>
<path d="M1624.6,114.4 L1639.4,124.4" stroke="#d5c4ff" stroke-width="4.8" stroke-linecap="round"/>
<circle cx="1621.8" cy="718.9" r="17" fill="#fff" stroke="#d6d6d6" stroke-width="1.2"/>
<circle cx="1621.8" cy="763" r="17" fill="#fff" stroke="#d6d6d6" stroke-width="1.2"/>
<circle cx="1621.8" cy="807" r="17" fill="#fff" stroke="#d6d6d6" stroke-width="1.2"/>
<g fill="none" stroke="#6c7189" stroke-width="1.4"><circle cx="1621.4" cy="718.2" r="5.3"/><path d="M1625.2,722 L1628.4,725.2" stroke-linecap="round" stroke-width="1.6"/><path d="M1618.6,718.2 H1624.2 M1621.4,715.4 V721"/></g>
<g fill="none" stroke="#6c7189" stroke-width="1.4"><circle cx="1621.4" cy="762.3" r="5.3"/><path d="M1625.2,766.1 L1628.4,769.3" stroke-linecap="round" stroke-width="1.6"/><path d="M1618.6,762.3 H1624.2"/></g>
<g fill="none" stroke="#6c7189" stroke-width="1.6"><path d="M1617.4,804.3 H1626.4 M1617.4,809.6 H1626.4"/></g>
<rect x="611.4" y="839.3" width="866.6" height="5.4" rx="2.7" fill="#cecece"/>
<rect x="1654.5" y="232.7" width="5.5" height="326.8" rx="2.7" fill="#cecece"/>
</svg>
<svg class="abs" style="left:62px;top:92px" width="249" height="754" viewBox="62 92 249 754" font-family="Liberation Sans, Arial, sans-serif" font-size="16" style="white-space:pre">
<rect x="62" y="92" width="249" height="754" fill="#f9f9f9"/>
<g transform="translate(69.4,68.4) scale(0.675)"><path transform="translate(0.00,0.00)" d="M 0,4 A 4,4 0 0 1 4,0 H 12 c 2,0 3,1 4,2 l 4,4 c 1,1 2,2 4,2 h 12 c 2,0 3,-1 4,-2 l 4,-4 c 1,-1 2,-2 4,-2 H 278.337 a 4,4 0 0 1 4,4 V 44 a 4,4 0 0 1 -4,4 H 48 c -2,0 -3,1 -4,2 l -4,4 c -1,1 -2,2 -4,2 h -12 c -2,0 -3,-1 -4,-2 l -4,-4 c -1,-1 -2,-2 -4,-2 H 4 a 4,4 0 0 1 -4,-4 Z" fill="#FF8C1A" stroke="#DB6E00"/><text x="8.00" y="30.20" fill="#fff" stroke="#fff" stroke-width="0.50">change</text><rect x="68.49" y="8.00" width="132.95" height="32" rx="4" fill="#FF8C1A" stroke="rgba(0,0,0,0.15)"/><text x="80.49" y="30.20" fill="#fff" stroke="#fff" stroke-width="0.50">Abbreviation</text><path d="M 177.44,21.00 l 6,6 l 6,-6 Z" fill="#fff"/><text x="209.44" y="30.20" fill="#fff" stroke="#fff" stroke-width="0.50">by</text><rect x="234.34" y="8.00" width="40.00" height="32" rx="16" fill="#fff" stroke="rgba(0,0,0,0.1)"/><text x="254.34" y="30.20" fill="#575E75" stroke="#575E75" stroke-width="0.07" text-anchor="middle">1</text></g>
<g transform="translate(69.4,111.3) scale(0.675)"><path transform="translate(0.00,0.00)" d="M 0,4 A 4,4 0 0 1 4,0 H 12 c 2,0 3,1 4,2 l 4,4 c 1,1 2,2 4,2 h 12 c 2,0 3,-1 4,-2 l 4,-4 c 1,-1 2,-2 4,-2 H 250.775 a 4,4 0 0 1 4,4 V 44 a 4,4 0 0 1 -4,4 H 48 c -2,0 -3,1 -4,2 l -4,4 c -1,1 -2,2 -4,2 h -12 c -2,0 -3,-1 -4,-2 l -4,-4 c -1,-1 -2,-2 -4,-2 H 4 a 4,4 0 0 1 -4,-4 Z" fill="#FF8C1A" stroke="#DB6E00"/><text x="8.00" y="30.20" fill="#fff" stroke="#fff" stroke-width="0.50">show variable</text><rect x="113.83" y="8.00" width="132.95" height="32" rx="4" fill="#FF8C1A" stroke="rgba(0,0,0,0.15)"/><text x="125.83" y="30.20" fill="#fff" stroke="#fff" stroke-width="0.50">Abbreviation</text><path d="M 222.77,21.00 l 6,6 l 6,-6 Z" fill="#fff"/></g>
<g transform="translate(69.4,154.5) scale(0.675)"><path transform="translate(0.00,0.00)" d="M 0,4 A 4,4 0 0 1 4,0 H 12 c 2,0 3,1 4,2 l 4,4 c 1,1 2,2 4,2 h 12 c 2,0 3,-1 4,-2 l 4,-4 c 1,-1 2,-2 4,-2 H 243.673 a 4,4 0 0 1 4,4 V 44 a 4,4 0 0 1 -4,4 H 48 c -2,0 -3,1 -4,2 l -4,4 c -1,1 -2,2 -4,2 h -12 c -2,0 -3,-1 -4,-2 l -4,-4 c -1,-1 -2,-2 -4,-2 H 4 a 4,4 0 0 1 -4,-4 Z" fill="#FF8C1A" stroke="#DB6E00"/><text x="8.00" y="30.20" fill="#fff" stroke="#fff" stroke-width="0.50">hide variable</text><rect x="106.73" y="8.00" width="132.95" height="32" rx="4" fill="#FF8C1A" stroke="rgba(0,0,0,0.15)"/><text x="118.73" y="30.20" fill="#fff" stroke="#fff" stroke-width="0.50">Abbreviation</text><path d="M 215.67,21.00 l 6,6 l 6,-6 Z" fill="#fff"/></g>
<rect x="69.5" y="197.5" width="109" height="27" rx="4" fill="#fff" stroke="#c6c6c6"/>
<text x="124" y="215" text-anchor="middle" font-size="10.8" fill="#575e75">Make a List</text>
<rect x="69.5" y="237.7" width="16.5" height="16.5" rx="3" fill="#fff" stroke="#c6c6c6" stroke-width="0.8"/>
<rect x="94.2" y="232.4" width="34.2" height="27" rx="13.5" fill="#FF661A" stroke="#E64D00" stroke-width="0.6"/>
<text x="102.3" y="249.8" font-size="10.8" fill="#fff" stroke="#fff" stroke-width="0.3">bad</text>
<rect x="69.5" y="270.1" width="16.5" height="16.5" rx="3" fill="#4c97ff" stroke="#3d7fe0" stroke-width="0.8"/>
<path d="M73.3,278.5 l3.2,3.2 l5.8,-6.2" fill="none" stroke="#fff" stroke-width="2" stroke-linecap="round" stroke-linejoin="round"/>
<rect x="94.2" y="264.8" width="109.9" height="27" rx="13.5" fill="#FF661A" stroke="#E64D00" stroke-width="0.6"/>
<text x="102.3" y="282.2" font-size="10.8" fill="#fff" stroke="#fff" stroke-width="0.3">colour name values</text>
<rect x="69.5" y="302.4" width="16.5" height="16.5" rx="3" fill="#4c97ff" stroke="#3d7fe0" stroke-width="0.8"/>
<path d="M73.3,310.9 l3.2,3.2 l5.8,-6.2" fill="none" stroke="#fff" stroke-width="2" stroke-linecap="round" stroke-linejoin="round"/>
<rect x="94.2" y="297.2" width="81.0" height="27" rx="13.5" fill="#FF661A" stroke="#E64D00" stroke-width="0.6"/>
<text x="102.3" y="314.6" font-size="10.8" fill="#fff" stroke="#fff" stroke-width="0.3">colour names</text>
<rect x="69.5" y="334.9" width="16.5" height="16.5" rx="3" fill="#fff" stroke="#c6c6c6" stroke-width="0.8"/>
<rect x="94.2" y="329.6" width="53.4" height="27" rx="13.5" fill="#FF661A" stroke="#E64D00" stroke-width="0.6"/>
<text x="102.3" y="347.0" font-size="10.8" fill="#fff" stroke="#fff" stroke-width="0.3">Colours</text>
<rect x="69.5" y="367.2" width="16.5" height="16.5" rx="3" fill="#4c97ff" stroke="#3d7fe0" stroke-width="0.8"/>
<path d="M73.3,375.7 l3.2,3.2 l5.8,-6.2" fill="none" stroke="#fff" stroke-width="2" stroke-linecap="round" stroke-linejoin="round"/>
<rect x="94.2" y="362.0" width="85.2" height="27" rx="13.5" fill="#FF661A" stroke="#E64D00" stroke-width="0.6"/>
<text x="102.3" y="379.4" font-size="10.8" fill="#fff" stroke="#fff" stroke-width="0.3">colours (good)</text>
<rect x="69.5" y="399.6" width="16.5" height="16.5" rx="3" fill="#fff" stroke="#c6c6c6" stroke-width="0.8"/>
<rect x="94.2" y="394.4" width="66.6" height="27" rx="13.5" fill="#FF661A" stroke="#E64D00" stroke-width="0.6"/>
<text x="102.3" y="411.8" font-size="10.8" fill="#fff" stroke="#fff" stroke-width="0.3">Duplicates</text>
<rect x="69.5" y="432.0" width="16.5" height="16.5" rx="3" fill="#4c97ff" stroke="#3d7fe0" stroke-width="0.8"/>
<path d="M73.3,440.5 l3.2,3.2 l5.8,-6.2" fill="none" stroke="#fff" stroke-width="2" stroke-linecap="round" stroke-linejoin="round"/>
<rect x="94.2" y="426.8" width="106.2" height="27" rx="13.5" fill="#FF661A" stroke="#E64D00" stroke-width="0.6"/>
<text x="102.3" y="444.2" font-size="10.8" fill="#fff" stroke="#fff" stroke-width="0.3">how many in a row</text>
<rect x="69.5" y="464.4" width="16.5" height="16.5" rx="3" fill="#fff" stroke="#c6c6c6" stroke-width="0.8"/>
<rect x="94.2" y="459.2" width="82.2" height="27" rx="13.5" fill="#FF661A" stroke="#E64D00" stroke-width="0.6"/>
<text x="102.3" y="476.6" font-size="10.8" fill="#fff" stroke="#fff" stroke-width="0.3">Individual row</text>
<rect x="69.5" y="496.9" width="16.5" height="16.5" rx="3" fill="#fff" stroke="#c6c6c6" stroke-width="0.8"/>
<rect x="94.2" y="491.6" width="51.0" height="27" rx="13.5" fill="#FF661A" stroke="#E64D00" stroke-width="0.6"/>
<text x="102.3" y="509.0" font-size="10.8" fill="#fff" stroke="#fff" stroke-width="0.3">Pattern</text>
<rect x="69.5" y="529.2" width="16.5" height="16.5" rx="3" fill="#4c97ff" stroke="#3d7fe0" stroke-width="0.8"/>
<path d="M73.3,537.7 l3.2,3.2 l5.8,-6.2" fill="none" stroke="#fff" stroke-width="2" stroke-linecap="round" stroke-linejoin="round"/>
<rect x="94.2" y="524.0" width="93.0" height="27" rx="13.5" fill="#FF661A" stroke="#E64D00" stroke-width="0.6"/>
<text x="102.3" y="541.4" font-size="10.8" fill="#fff" stroke="#fff" stroke-width="0.3">replace colour #</text>
<rect x="69.5" y="561.6" width="16.5" height="16.5" rx="3" fill="#fff" stroke="#c6c6c6" stroke-width="0.8"/>
<rect x="94.2" y="556.4" width="133.2" height="27" rx="13.5" fill="#FF661A" stroke="#E64D00" stroke-width="0.6"/>
<text x="102.3" y="573.8" font-size="10.8" fill="#fff" stroke="#fff" stroke-width="0.3">saved colours for history</text>
<rect x="69.5" y="594.0" width="16.5" height="16.5" rx="3" fill="#fff" stroke="#c6c6c6" stroke-width="0.8"/>
<rect x="94.2" y="588.8" width="39.6" height="27" rx="13.5" fill="#FF661A" stroke="#E64D00" stroke-width="0.6"/>
<text x="102.3" y="606.2" font-size="10.8" fill="#fff" stroke="#fff" stroke-width="0.3">test2</text>
<g transform="translate(69.4,632.4) scale(0.675)"><path transform="translate(0.00,0.00)" d="M 0,4 A 4,4 0 0 1 4,0 H 12 c 2,0 3,1 4,2 l 4,4 c 1,1 2,2 4,2 h 12 c 2,0 3,-1 4,-2 l 4,-4 c 1,-1 2,-2 4,-2 H 207.735 a 4,4 0 0 1 4,4 V 44 a 4,4 0 0 1 -4,4 H 48 c -2,0 -3,1 -4,2 l -4,4 c -1,1 -2,2 -4,2 h -12 c -2,0 -3,-1 -4,-2 l -4,-4 c -1,-1 -2,-2 -4,-2 H 4 a 4,4 0 0 1 -4,-4 Z" fill="#FF661A" stroke="#E64D00"/><text x="8.00" y="30.20" fill="#fff" stroke="#fff" stroke-width="0.50">add</text><rect x="48.00" y="8.00" width="55.70" height="32" rx="16" fill="#fff" stroke="rgba(0,0,0,0.1)"/><text x="75.85" y="30.20" fill="#575E75" stroke="#575E75" stroke-width="0.07" text-anchor="middle">thing</text><text x="111.70" y="30.20" fill="#fff" stroke="#fff" stroke-width="0.50">to</text><rect x="133.04" y="8.00" width="70.70" height="32" rx="4" fill="#FF661A" stroke="rgba(0,0,0,0.15)"/><text x="145.04" y="30.20" fill="#fff" stroke="#fff" stroke-width="0.50">bad</text><path d="M 179.73,21.00 l 6,6 l 6,-6 Z" fill="#fff"/></g>
<g transform="translate(69.4,694.3) scale(0.675)"><path transform="translate(0.00,0.00)" d="M 0,4 A 4,4 0 0 1 4,0 H 12 c 2,0 3,1 4,2 l 4,4 c 1,1 2,2 4,2 h 12 c 2,0 3,-1 4,-2 l 4,-4 c 1,-1 2,-2 4,-2 H 203.633 a 4,4 0 0 1 4,4 V 44 a 4,4 0 0 1 -4,4 H 48 c -2,0 -3,1 -4,2 l -4,4 c -1,1 -2,2 -4,2 h -12 c -2,0 -3,-1 -4,-2 l -4,-4 c -1,-1 -2,-2 -4,-2 H 4 a 4,4 0 0 1 -4,-4 Z" fill="#FF661A" stroke="#E64D00"/><text x="8.00" y="30.20" fill="#fff" stroke="#fff" stroke-width="0.50">delete</text><rect x="59.59" y="8.00" width="40.00" height="32" rx="16" fill="#fff" stroke="rgba(0,0,0,0.1)"/><text x="79.59" y="30.20" fill="#575E75" stroke="#575E75" stroke-width="0.07" text-anchor="middle">1</text><text x="107.59" y="30.20" fill="#fff" stroke="#fff" stroke-width="0.50">of</text><rect x="128.94" y="8.00" width="70.70" height="32" rx="4" fill="#FF661A" stroke="rgba(0,0,0,0.15)"/><text x="140.94" y="30.20" fill="#fff" stroke="#fff" stroke-width="0.50">bad</text><path d="M 175.63,21.00 l 6,6 l 6,-6 Z" fill="#fff"/></g>
<g transform="translate(69.4,737.5) scale(0.675)"><path transform="translate(0.00,0.00)" d="M 0,4 A 4,4 0 0 1 4,0 H 12 c 2,0 3,1 4,2 l 4,4 c 1,1 2,2 4,2 h 12 c 2,0 3,-1 4,-2 l 4,-4 c 1,-1 2,-2 4,-2 H 172.532 a 4,4 0 0 1 4,4 V 44 a 4,4 0 0 1 -4,4 H 48 c -2,0 -3,1 -4,2 l -4,4 c -1,1 -2,2 -4,2 h -12 c -2,0 -3,-1 -4,-2 l -4,-4 c -1,-1 -2,-2 -4,-2 H 4 a 4,4 0 0 1 -4,-4 Z" fill="#FF661A" stroke="#E64D00"/><text x="8.00" y="30.20" fill="#fff" stroke="#fff" stroke-width="0.50">delete all of</text><rect x="97.84" y="8.00" width="70.70" height="32" rx="4" fill="#FF661A" stroke="rgba(0,0,0,0.15)"/><text x="109.84" y="30.20" fill="#fff" stroke="#fff" stroke-width="0.50">bad</text><path d="M 144.53,21.00 l 6,6 l 6,-6 Z" fill="#fff"/></g>
<g transform="translate(69.4,780.7) scale(0.675)"><path transform="translate(0.00,0.00)" d="M 0,4 A 4,4 0 0 1 4,0 H 12 c 2,0 3,1 4,2 l 4,4 c 1,1 2,2 4,2 h 12 c 2,0 3,-1 4,-2 l 4,-4 c 1,-1 2,-2 4,-2 H 284.204 a 4,4 0 0 1 4,4 V 44 a 4,4 0 0 1 -4,4 H 48 c -2,0 -3,1 -4,2 l -4,4 c -1,1 -2,2 -4,2 h -12 c -2,0 -3,-1 -4,-2 l -4,-4 c -1,-1 -2,-2 -4,-2 H 4 a 4,4 0 0 1 -4,-4 Z" fill="#FF661A" stroke="#E64D00"/><text x="8.00" y="30.20" fill="#fff" stroke="#fff" stroke-width="0.50">insert</text><rect x="55.13" y="8.00" width="55.70" height="32" rx="16" fill="#fff" stroke="rgba(0,0,0,0.1)"/><text x="82.97" y="30.20" fill="#575E75" stroke="#575E75" stroke-width="0.07" text-anchor="middle">thing</text><text x="118.82" y="30.20" fill="#fff" stroke="#fff" stroke-width="0.50">at</text><rect x="140.16" y="8.00" width="40.00" height="32" rx="16" fill="#fff" stroke="rgba(0,0,0,0.1)"/><text x="160.16" y="30.20" fill="#575E75" stroke="#575E75" stroke-width="0.07" text-anchor="middle">1</text><text x="188.16" y="30.20" fill="#fff" stroke="#fff" stroke-width="0.50">of</text><rect x="209.51" y="8.00" width="70.70" height="32" rx="4" fill="#FF661A" stroke="rgba(0,0,0,0.15)"/><text x="221.51" y="30.20" fill="#fff" stroke="#fff" stroke-width="0.50">bad</text><path d="M 256.20,21.00 l 6,6 l 6,-6 Z" fill="#fff"/></g>
<g transform="translate(69.4,823.9) scale(0.675)"><path transform="translate(0.00,0.00)" d="M 0,4 A 4,4 0 0 1 4,0 H 12 c 2,0 3,1 4,2 l 4,4 c 1,1 2,2 4,2 h 12 c 2,0 3,-1 4,-2 l 4,-4 c 1,-1 2,-2 4,-2 H 347.337 a 4,4 0 0 1 4,4 V 44 a 4,4 0 0 1 -4,4 H 48 c -2,0 -3,1 -4,2 l -4,4 c -1,1 -2,2 -4,2 h -12 c -2,0 -3,-1 -4,-2 l -4,-4 c -1,-1 -2,-2 -4,-2 H 4 a 4,4 0 0 1 -4,-4 Z" fill="#FF661A" stroke="#E64D00"/><text x="8.00" y="30.20" fill="#fff" stroke="#fff" stroke-width="0.50">replace item</text><rect x="103.15" y="8.00" width="40.00" height="32" rx="16" fill="#fff" stroke="rgba(0,0,0,0.1)"/><text x="123.15" y="30.20" fill="#575E75" stroke="#575E75" stroke-width="0.07" text-anchor="middle">1</text><text x="151.15" y="30.20" fill="#fff" stroke="#fff" stroke-width="0.50">of</text><rect x="172.49" y="8.00" width="70.70" height="32" rx="4" fill="#FF661A" stroke="rgba(0,0,0,0.15)"/><text x="184.49" y="30.20" fill="#fff" stroke="#fff" stroke-width="0.50">bad</text><path d="M 219.19,21.00 l 6,6 l 6,-6 Z" fill="#fff"/><text x="251.19" y="30.20" fill="#fff" stroke="#fff" stroke-width="0.50">with</text><rect x="287.64" y="8.00" width="55.70" height="32" rx="16" fill="#fff" stroke="rgba(0,0,0,0.1)"/><text x="315.49" y="30.20" fill="#575E75" stroke="#575E75" stroke-width="0.07" text-anchor="middle">thing</text></g>
<rect x="300" y="699.6" width="6" height="61" rx="3" fill="#cecece"/>
</svg>
<div class="abs" style="left:311px;top:92px;width:1px;height:754px;background:#dcdcdc"></div>
<div class="abs" style="left:1px;top:92px;width:61px;height:753px;background:#fff;border-right:1px solid #dcdcdc"></div>
<div class="abs" style="left:1px;top:407px;width:61px;height:45px;background:#e9eef2"></div>
<div class="abs" style="left:21px;top:98px;width:18px;height:18px;border-radius:50%;background:#4c97ff;border:1px solid #3373cc"></div>
<div class="abs t" style="left:0.00px;top:121.40px;font-size:10.4px;line-height:10.4px;color:#575e75;width:62px;text-align:center;">Motion</div>
<div class="abs" style="left:21px;top:143px;width:18px;height:18px;border-radius:50%;background:#9966ff;border:1px solid #774dcb"></div>
<div class="abs t" style="left:0.00px;top:166.40px;font-size:10.4px;line-height:10.4px;color:#575e75;width:62px;text-align:center;">Looks</div>
<div class="abs" style="left:21px;top:188px;width:18px;height:18px;border-radius:50%;background:#cf63cf;border:1px solid #bd42bd"></div>
<div class="abs t" style="left:0.00px;top:211.40px;font-size:10.4px;line-height:10.4px;color:#575e75;width:62px;text-align:center;">Sound</div>
<div class="abs" style="left:21px;top:233px;width:18px;height:18px;border-radius:50%;background:#ffd500;border:1px solid #cc9900"></div>
<div class="abs t" style="left:0.00px;top:256.40px;font-size:10.4px;line-height:10.4px;color:#575e75;width:62px;text-align:center;">Events</div>
<div class="abs" style="left:21px;top:278px;width:18px;height:18px;border-radius:50%;background:#ffab19;border:1px solid #cf8b17"></div>
<div class="abs t" style="left:0.00px;top:301.40px;font-size:10.4px;line-height:10.4px;color:#575e75;width:62px;text-align:center;">Control</div>
<div class="abs" style="left:21px;top:323px;width:18px;height:18px;border-radius:50%;background:#4cbfe6;border:1px solid #2e8eb8"></div>
<div class="abs t" style="left:0.00px;top:346.40px;font-size:10.4px;line-height:10.4px;color:#575e75;width:62px;text-align:center;">Sensing</div>
<div class="abs" style="left:21px;top:368px;width:18px;height:18px;border-radius:50%;background:#59c059;border:1px solid #389438"></div>
<div class="abs t" style="left:0.00px;top:391.40px;font-size:10.4px;line-height:10.4px;color:#575e75;width:62px;text-align:center;">Operators</div>
<div class="abs" style="left:21px;top:413px;width:18px;height:18px;border-radius:50%;background:#ff8c1a;border:1px solid #db6e00"></div>
<div class="abs t" style="left:0.00px;top:436.40px;font-size:10.4px;line-height:10.4px;color:#575e75;width:62px;text-align:center;">Variables</div>
<div class="abs" style="left:21px;top:458px;width:18px;height:18px;border-radius:50%;background:#ff6680;border:1px solid #ff3355"></div>
<div class="abs t" style="left:0.00px;top:481.40px;font-size:10.4px;line-height:10.4px;color:#575e75;width:62px;text-align:center;">My Blocks</div>
<div class="abs" style="left:1px;top:770px;width:61px;height:23px;background:linear-gradient(rgba(0,0,0,0),rgba(0,0,0,0.08))"></div>
<div class="abs" style="left:1px;top:793px;width:61px;height:53px;background:#4c97ff"></div>
<svg class="abs" style="left:20px;top:806px" width="22" height="22" viewBox="0 0 22 22"><g fill="#fff">
<path d="M2,8 C2,7.4 2.4,7 3,7 H4 L5.3,8.3 H7 L8.3,7 H15 C15.6,7 16,7.4 16,8 V10.5 C16,11.1 15.6,11.5 15,11.5 H8.3 L7,12.8 H5.3 L4,11.5 H3 C2.4,11.5 2,11.1 2,10.5 Z"/>
<path d="M2,14.5 C2,13.9 2.4,13.5 3,13.5 H4 L5.3,14.8 H7 L8.3,13.5 H13 C13.6,13.5 14,13.9 14,14.5 V17 C14,17.6 13.6,18 13,18 H8.3 L7,19.3 H5.3 L4,18 H3 C2.4,18 2,17.6 2,17 Z"/>
<rect x="16.6" y="1.5" width="1.8" height="7" rx="0.9"/><rect x="14" y="4.1" width="7" height="1.8" rx="0.9"/></g></svg>
<div class="abs" style="left:0px;top:855.3px;width:1661.5px;height:25px;background:#fff;border:1px solid #d4d8de;border-radius:0 8px 0 0;box-sizing:border-box"></div>
<div class="abs t" style="left:0.00px;top:861.49px;font-size:13.6px;line-height:13.6px;color:#575e75;width:1661.5px;text-align:center;">Backpack</div>
<div class="abs" style="left:0px;top:880px;width:1661.5px;height:90px;background:#e6f0ff;border-right:1px solid #cfd4dd;box-sizing:border-box"></div>
<div class="abs" style="left:4.4px;top:887.8px;width:63px;height:72px;border:2px solid #c4ccd9;border-radius:8px;box-sizing:border-box"></div>
<div class="abs t" style="left:4.40px;top:933.43px;font-size:10px;line-height:10px;color:#575e75;width:63px;text-align:center;">script</div>
<div class="abs t" style="left:4.40px;top:946.13px;font-size:8px;line-height:8px;color:#6e7489;width:63px;text-align:center;">code</div>
<div class="abs" style="left:76.4px;top:887.8px;width:63px;height:72px;border:2px solid #c4ccd9;border-radius:8px;box-sizing:border-box"></div>
<div class="abs t" style="left:76.40px;top:933.43px;font-size:10px;line-height:10px;color:#575e75;width:63px;text-align:center;">script</div>
<div class="abs t" style="left:76.40px;top:946.13px;font-size:8px;line-height:8px;color:#6e7489;width:63px;text-align:center;">code</div>
<div class="abs" style="left:148.4px;top:887.8px;width:63px;height:72px;border:2px solid #c4ccd9;border-radius:8px;box-sizing:border-box"></div>
<div class="abs t" style="left:148.40px;top:933.43px;font-size:10px;line-height:10px;color:#575e75;width:63px;text-align:center;">script</div>
<div class="abs t" style="left:148.40px;top:946.13px;font-size:8px;line-height:8px;color:#6e7489;width:63px;text-align:center;">code</div>
<div class="abs" style="left:220.4px;top:887.8px;width:63px;height:72px;border:2px solid #c4ccd9;border-radius:8px;box-sizing:border-box"></div>
<div class="abs t" style="left:220.40px;top:933.43px;font-size:10px;line-height:10px;color:#575e75;width:63px;text-align:center;">script</div>
<div class="abs t" style="left:220.40px;top:946.13px;font-size:8px;line-height:8px;color:#6e7489;width:63px;text-align:center;">code</div>
<div class="abs" style="left:292.4px;top:887.8px;width:63px;height:72px;border:2px solid #c4ccd9;border-radius:8px;box-sizing:border-box"></div>
<div class="abs t" style="left:292.40px;top:933.43px;font-size:10px;line-height:10px;color:#575e75;width:63px;text-align:center;">script</div>
<div class="abs t" style="left:292.40px;top:946.13px;font-size:8px;line-height:8px;color:#6e7489;width:63px;text-align:center;">code</div>
<div class="abs" style="left:364.4px;top:887.8px;width:63px;height:72px;border:2px solid #c4ccd9;border-radius:8px;box-sizing:border-box"></div>
<div class="abs t" style="left:364.40px;top:933.43px;font-size:10px;line-height:10px;color:#575e75;width:63px;text-align:center;">script</div>
<div class="abs t" style="left:364.40px;top:946.13px;font-size:8px;line-height:8px;color:#6e7489;width:63px;text-align:center;">code</div>
<div class="abs" style="left:436.4px;top:887.8px;width:63px;height:72px;border:2px solid #c4ccd9;border-radius:8px;box-sizing:border-box"></div>
<div class="abs t" style="left:436.40px;top:933.43px;font-size:10px;line-height:10px;color:#575e75;width:63px;text-align:center;">script</div>
<div class="abs t" style="left:436.40px;top:946.13px;font-size:8px;line-height:8px;color:#6e7489;width:63px;text-align:center;">code</div>
<div class="abs" style="left:508.4px;top:887.8px;width:63px;height:72px;border:2px solid #c4ccd9;border-radius:8px;box-sizing:border-box"></div>
<div class="abs t" style="left:508.40px;top:933.43px;font-size:10px;line-height:10px;color:#575e75;width:63px;text-align:center;">script</div>
<div class="abs t" style="left:508.40px;top:946.13px;font-size:8px;line-height:8px;color:#6e7489;width:63px;text-align:center;">code</div>
<div class="abs" style="left:580.4px;top:887.8px;width:63px;height:72px;border:2px solid #c4ccd9;border-radius:8px;box-sizing:border-box"></div>
<div class="abs t" style="left:580.40px;top:933.43px;font-size:10px;line-height:10px;color:#575e75;width:63px;text-align:center;">script</div>
<div class="abs t" style="left:580.40px;top:946.13px;font-size:8px;line-height:8px;color:#6e7489;width:63px;text-align:center;">code</div>
<div class="abs" style="left:652.4px;top:887.8px;width:63px;height:72px;border:2px solid #c4ccd9;border-radius:8px;box-sizing:border-box"></div>
<div class="abs t" style="left:652.40px;top:933.43px;font-size:10px;line-height:10px;color:#575e75;width:63px;text-align:center;">script</div>
<div class="abs t" style="left:652.40px;top:946.13px;font-size:8px;line-height:8px;color:#6e7489;width:63px;text-align:center;">code</div>
<div class="abs" style="left:724.4px;top:887.8px;width:63px;height:72px;border:2px solid #c4ccd9;border-radius:8px;box-sizing:border-box"></div>
<div class="abs t" style="left:724.40px;top:933.43px;font-size:10px;line-height:10px;color:#575e75;width:63px;text-align:center;">script</div>
<div class="abs t" style="left:724.40px;top:946.13px;font-size:8px;line-height:8px;color:#6e7489;width:63px;text-align:center;">code</div>
<div class="abs" style="left:796.4px;top:887.8px;width:63px;height:72px;border:2px solid #c4ccd9;border-radius:8px;box-sizing:border-box"></div>
<div class="abs t" style="left:796.40px;top:933.43px;font-size:10px;line-height:10px;color:#575e75;width:63px;text-align:center;">script</div>
<div class="abs t" style="left:796.40px;top:946.13px;font-size:8px;line-height:8px;color:#6e7489;width:63px;text-align:center;">code</div>
<div class="abs" style="left:868.4px;top:887.8px;width:63px;height:72px;border:2px solid #c4ccd9;border-radius:8px;box-sizing:border-box"></div>
<div class="abs t" style="left:868.40px;top:933.43px;font-size:10px;line-height:10px;color:#575e75;width:63px;text-align:center;">script</div>
<div class="abs t" style="left:868.40px;top:946.13px;font-size:8px;line-height:8px;color:#6e7489;width:63px;text-align:center;">code</div>
<div class="abs" style="left:940.4px;top:887.8px;width:63px;height:72px;border:2px solid #c4ccd9;border-radius:8px;box-sizing:border-box"></div>
<div class="abs t" style="left:940.40px;top:933.43px;font-size:10px;line-height:10px;color:#575e75;width:63px;text-align:center;">script</div>
<div class="abs t" style="left:940.40px;top:946.13px;font-size:8px;line-height:8px;color:#6e7489;width:63px;text-align:center;">code</div>
<div class="abs" style="left:1012.4px;top:887.8px;width:63px;height:72px;border:2px solid #c4ccd9;border-radius:8px;box-sizing:border-box"></div>
<div class="abs t" style="left:1012.40px;top:933.43px;font-size:10px;line-height:10px;color:#575e75;width:63px;text-align:center;">script</div>
<div class="abs t" style="left:1012.40px;top:946.13px;font-size:8px;line-height:8px;color:#6e7489;width:63px;text-align:center;">code</div>
<div class="abs" style="left:1084.4px;top:887.8px;width:63px;height:72px;border:2px solid #c4ccd9;border-radius:8px;box-sizing:border-box"></div>
<div class="abs t" style="left:1084.40px;top:933.43px;font-size:10px;line-height:10px;color:#575e75;width:63px;text-align:center;">script</div>
<div class="abs t" style="left:1084.40px;top:946.13px;font-size:8px;line-height:8px;color:#6e7489;width:63px;text-align:center;">code</div>
<div class="abs" style="left:1156.4px;top:887.8px;width:63px;height:72px;border:2px solid #c4ccd9;border-radius:8px;box-sizing:border-box"></div>
<div class="abs t" style="left:1156.40px;top:933.43px;font-size:10px;line-height:10px;color:#575e75;width:63px;text-align:center;">script</div>
<div class="abs t" style="left:1156.40px;top:946.13px;font-size:8px;line-height:8px;color:#6e7489;width:63px;text-align:center;">code</div>
<div class="abs" style="left:1228.4px;top:887.8px;width:63px;height:72px;border:2px solid #c4ccd9;border-radius:8px;box-sizing:border-box"></div>
<div class="abs t" style="left:1228.40px;top:933.43px;font-size:10px;line-height:10px;color:#575e75;width:63px;text-align:center;">script</div>
<div class="abs t" style="left:1228.40px;top:946.13px;font-size:8px;line-height:8px;color:#6e7489;width:63px;text-align:center;">code</div>
<div class="abs" style="left:1300.4px;top:887.8px;width:63px;height:72px;border:2px solid #c4ccd9;border-radius:8px;box-sizing:border-box"></div>
<div class="abs t" style="left:1300.40px;top:933.43px;font-size:10px;line-height:10px;color:#575e75;width:63px;text-align:center;">script</div>
<div class="abs t" style="left:1300.40px;top:946.13px;font-size:8px;line-height:8px;color:#6e7489;width:63px;text-align:center;">code</div>
<div class="abs" style="left:1372.4px;top:887.8px;width:63px;height:72px;border:2px solid #c4ccd9;border-radius:8px;box-sizing:border-box"></div>
<div class="abs t" style="left:1372.40px;top:933.43px;font-size:10px;line-height:10px;color:#575e75;width:63px;text-align:center;">script</div>
<div class="abs t" style="left:1372.40px;top:946.13px;font-size:8px;line-height:8px;color:#6e7489;width:63px;text-align:center;">code</div>
<svg class="abs" style="left:0;top:885px" width="1440" height="45" viewBox="0 885 1440 45"><rect x="32.80" y="893.00" width="4.50" height="1.60" fill="#ffbf00" rx="0.6"/><rect x="32.80" y="894.60" width="1.60" height="1.60" fill="#ffab19"/><rect x="34.00" y="894.75" width="3.49" height="0.75" fill="#4c97ff" opacity="0.85"/><rect x="32.80" y="896.05" width="1.60" height="1.60" fill="#ffab19"/><rect x="34.00" y="896.20" width="2.04" height="0.75" fill="#ff8c1a" opacity="0.85"/><rect x="32.80" y="897.50" width="1.60" height="1.80" fill="#ffab19"/><rect x="34.00" y="897.65" width="3.10" height="0.90" fill="#ffbf00" opacity="0.85"/><rect x="32.80" y="899.15" width="1.60" height="1.60" fill="#ffab19"/><rect x="34.00" y="899.30" width="2.78" height="0.75" fill="#4c97ff" opacity="0.85"/><rect x="32.80" y="900.60" width="1.60" height="1.80" fill="#ffab19"/><rect x="34.00" y="900.75" width="3.01" height="0.90" fill="#ffbf00" opacity="0.85"/><rect x="32.80" y="902.25" width="1.60" height="1.60" fill="#ffab19"/><rect x="34.00" y="902.40" width="2.69" height="0.75" fill="#9966ff" opacity="0.85"/><rect x="32.80" y="903.70" width="1.60" height="2.00" fill="#ffab19"/><rect x="34.00" y="903.85" width="2.26" height="1.05" fill="#5cb1d6" opacity="0.85"/><rect x="32.80" y="905.55" width="1.60" height="1.60" fill="#ffab19"/><rect x="34.00" y="905.70" width="1.86" height="0.75" fill="#ff8c1a" opacity="0.85"/><rect x="32.80" y="907.00" width="1.60" height="1.60" fill="#ffab19"/><rect x="34.00" y="907.15" width="2.88" height="0.75" fill="#9966ff" opacity="0.85"/><rect x="32.80" y="908.45" width="1.60" height="1.80" fill="#ffab19"/><rect x="34.00" y="908.60" width="2.23" height="0.90" fill="#9966ff" opacity="0.85"/><rect x="32.80" y="910.10" width="1.60" height="1.80" fill="#ffab19"/><rect x="34.00" y="910.25" width="1.86" height="0.90" fill="#9966ff" opacity="0.85"/><rect x="32.80" y="911.75" width="1.60" height="1.60" fill="#ffab19"/><rect x="34.00" y="911.90" width="2.68" height="0.75" fill="#5cb1d6" opacity="0.85"/><rect x="32.80" y="913.20" width="1.60" height="1.80" fill="#ffab19"/><rect x="34.00" y="913.35" width="2.27" height="0.90" fill="#4c97ff" opacity="0.85"/><rect x="32.80" y="914.85" width="1.60" height="1.60" fill="#ffab19"/><rect x="34.00" y="915.00" width="2.24" height="0.75" fill="#9966ff" opacity="0.85"/><rect x="32.80" y="916.30" width="1.60" height="1.80" fill="#ffab19"/><rect x="34.00" y="916.45" width="3.65" height="0.90" fill="#ff8c1a" opacity="0.85"/><rect x="32.80" y="917.95" width="1.60" height="1.80" fill="#ffab19"/><rect x="34.00" y="918.10" width="3.63" height="0.90" fill="#5cb1d6" opacity="0.85"/><rect x="32.80" y="919.60" width="1.60" height="2.00" fill="#ffab19"/><rect x="34.00" y="919.75" width="2.17" height="1.05" fill="#4c97ff" opacity="0.85"/><rect x="32.80" y="921.45" width="1.60" height="2.00" fill="#ffab19"/><rect x="34.00" y="921.60" width="2.39" height="1.05" fill="#5cb1d6" opacity="0.85"/><rect x="32.80" y="923.30" width="1.60" height="2.00" fill="#ffab19"/><rect x="34.00" y="923.45" width="3.59" height="1.05" fill="#ff8c1a" opacity="0.85"/><rect x="32.80" y="922.80" width="3.50" height="1.20" fill="#ffab19"/><path d="M92,904 c2,-2.5 6,-2.5 8,0 H100.5 V906.5 H92 Z" fill="#ffbf00"/><rect x="92.00" y="906.50" width="9.50" height="2.40" fill="#ff8c1a"/><rect x="92.00" y="908.90" width="10.50" height="2.20" fill="#ff8c1a"/><rect x="92.00" y="911.10" width="31.70" height="2.80" fill="#ff661a"/><rect x="101.00" y="908.20" width="1.60" height="1.60" fill="#ffffff"/><rect x="163.80" y="893.00" width="7.00" height="2.00" fill="#ffbf00"/><rect x="163.80" y="895.00" width="3.00" height="4.00" fill="#9966ff"/><rect x="163.80" y="899.00" width="4.50" height="1.60" fill="#ffbf00" rx="0.6"/><rect x="163.80" y="900.60" width="1.60" height="1.60" fill="#ffab19"/><rect x="165.00" y="900.75" width="16.60" height="0.75" fill="#5cb1d6" opacity="0.85"/><rect x="163.80" y="902.05" width="1.60" height="1.80" fill="#ffab19"/><rect x="165.00" y="902.20" width="14.69" height="0.90" fill="#5cb1d6" opacity="0.85"/><rect x="163.80" y="903.70" width="1.60" height="2.00" fill="#ffab19"/><rect x="165.00" y="903.85" width="18.27" height="1.05" fill="#ff8c1a" opacity="0.85"/><rect x="163.80" y="905.55" width="1.60" height="1.80" fill="#ffab19"/><rect x="165.00" y="905.70" width="16.78" height="0.90" fill="#ffab19" opacity="0.85"/><rect x="163.80" y="907.20" width="1.60" height="1.60" fill="#ffab19"/><rect x="165.00" y="907.35" width="14.59" height="0.75" fill="#59c059" opacity="0.85"/><rect x="163.80" y="908.65" width="1.60" height="2.00" fill="#ffab19"/><rect x="165.00" y="908.80" width="12.60" height="1.05" fill="#ff8c1a" opacity="0.85"/><rect x="163.80" y="910.50" width="1.60" height="1.60" fill="#ffab19"/><rect x="165.00" y="910.65" width="19.07" height="0.75" fill="#ff661a" opacity="0.85"/><rect x="163.80" y="911.95" width="1.60" height="2.00" fill="#ffab19"/><rect x="165.00" y="912.10" width="21.96" height="1.05" fill="#ff8c1a" opacity="0.85"/><rect x="163.80" y="913.80" width="1.60" height="2.00" fill="#ffab19"/><rect x="165.00" y="913.95" width="6.14" height="1.05" fill="#ff8c1a" opacity="0.85"/><rect x="163.80" y="915.65" width="1.60" height="2.00" fill="#ffab19"/><rect x="165.00" y="915.80" width="9.99" height="1.05" fill="#ff8c1a" opacity="0.85"/><rect x="163.80" y="917.50" width="1.60" height="1.60" fill="#ffab19"/><rect x="165.00" y="917.65" width="14.66" height="0.75" fill="#ffab19" opacity="0.85"/><rect x="163.80" y="918.95" width="1.60" height="2.00" fill="#ffab19"/><rect x="165.00" y="919.10" width="21.22" height="1.05" fill="#ff8c1a" opacity="0.85"/><rect x="163.80" y="920.80" width="1.60" height="1.80" fill="#ffab19"/><rect x="165.00" y="920.95" width="21.61" height="0.90" fill="#ff8c1a" opacity="0.85"/><rect x="163.80" y="921.60" width="3.50" height="1.20" fill="#ffab19"/><rect x="236.00" y="905.50" width="4.00" height="4.50" fill="#ffab19"/><rect x="236.00" y="907.00" width="32.00" height="2.20" fill="#ff8c1a"/><rect x="239.00" y="907.40" width="26.00" height="1.30" fill="#59c059"/><rect x="236.00" y="909.50" width="3.00" height="1.50" fill="#ff8c1a"/><path d="M309,903 c4,-5 12,-5 16,0 H328.5 a1,1 0 0 1 1,1 V908.5 H309 Z" fill="#f2b61b"/><rect x="309.00" y="908.50" width="29.70" height="7.50" fill="#ff661a" rx="1"/><rect x="311.00" y="911.50" width="8.00" height="1.20" fill="#ffffff"/><rect x="321.50" y="911.30" width="10.00" height="1.60" fill="#ffd2b8"/><rect x="311.00" y="904.50" width="5.00" height="0.80" fill="#ffffff"/><rect x="318.00" y="904.50" width="5.00" height="0.80" fill="#ffffff"/><path d="M381,900.5 c3,-4 10,-4 13,0 H396.5 V905 H381 Z" fill="#f2b61b"/><rect x="381.00" y="905.00" width="25.50" height="3.50" fill="#ff661a" rx="0.8"/><rect x="381.00" y="908.50" width="29.50" height="3.70" fill="#ff8c1a" rx="0.8"/><rect x="381.00" y="912.20" width="29.50" height="3.70" fill="#ff8c1a" rx="0.8"/><rect x="381.00" y="915.90" width="24.00" height="2.50" fill="#ff8c1a"/><rect x="406.50" y="909.40" width="2.50" height="1.90" fill="#ffffff" rx="0.9"/><rect x="406.50" y="913.20" width="2.50" height="1.90" fill="#ffffff" rx="0.9"/><rect x="454.00" y="893.00" width="6.00" height="2.00" fill="#ffab19" rx="0.6"/><rect x="454.00" y="895.00" width="3.00" height="1.00" fill="#ffab19"/><rect x="456.00" y="895.00" width="3.14" height="1.00" fill="#ffab19"/><rect x="454.00" y="896.00" width="3.00" height="1.00" fill="#ffab19"/><rect x="456.00" y="896.00" width="4.01" height="1.00" fill="#ff8c1a"/><rect x="454.00" y="897.00" width="3.00" height="1.00" fill="#ffab19"/><rect x="456.00" y="897.00" width="4.33" height="1.00" fill="#ff8c1a"/><rect x="454.00" y="898.00" width="3.00" height="1.20" fill="#ffab19"/><rect x="456.00" y="898.00" width="4.40" height="1.20" fill="#ffab19"/><rect x="454.00" y="899.20" width="3.00" height="1.00" fill="#ffab19"/><rect x="456.00" y="899.20" width="5.04" height="1.00" fill="#ffab19"/><rect x="454.00" y="900.20" width="3.00" height="1.40" fill="#ffab19"/><rect x="456.00" y="900.20" width="5.51" height="1.40" fill="#ff8c1a"/><rect x="454.00" y="901.60" width="3.00" height="1.40" fill="#ffab19"/><rect x="456.00" y="901.60" width="8.57" height="1.40" fill="#ff8c1a"/><rect x="458.00" y="901.80" width="3.57" height="0.84" fill="#59c059"/><rect x="454.00" y="903.00" width="3.00" height="1.00" fill="#ffab19"/><rect x="456.00" y="903.00" width="7.92" height="1.00" fill="#ff8c1a"/><rect x="454.00" y="904.00" width="3.00" height="1.00" fill="#ffab19"/><rect x="456.00" y="904.00" width="9.06" height="1.00" fill="#ff661a"/><rect x="458.00" y="904.20" width="4.06" height="0.60" fill="#59c059"/><rect x="454.00" y="905.00" width="3.00" height="1.40" fill="#ffab19"/><rect x="456.00" y="905.00" width="9.65" height="1.40" fill="#ff661a"/><rect x="458.00" y="905.20" width="4.65" height="0.84" fill="#59c059"/><rect x="454.00" y="906.40" width="3.00" height="1.00" fill="#ffab19"/><rect x="456.00" y="906.40" width="11.13" height="1.00" fill="#ff8c1a"/><rect x="458.00" y="906.60" width="6.13" height="0.60" fill="#59c059"/><rect x="454.00" y="907.40" width="3.00" height="1.00" fill="#ffab19"/><rect x="456.00" y="907.40" width="11.21" height="1.00" fill="#ff8c1a"/><rect x="458.00" y="907.60" width="6.21" height="0.60" fill="#59c059"/><rect x="454.00" y="908.40" width="3.00" height="1.40" fill="#ffab19"/><rect x="456.00" y="908.40" width="11.60" height="1.40" fill="#ffab19"/><rect x="454.00" y="909.80" width="3.00" height="1.20" fill="#ffab19"/><rect x="456.00" y="909.80" width="12.31" height="1.20" fill="#ff661a"/><rect x="458.00" y="910.00" width="7.31" height="0.72" fill="#59c059"/><rect x="454.00" y="911.00" width="3.00" height="1.40" fill="#ffab19"/><rect x="456.00" y="911.00" width="14.90" height="1.40" fill="#ff8c1a"/><rect x="458.00" y="911.20" width="9.90" height="0.84" fill="#59c059"/><rect x="454.00" y="912.40" width="3.00" height="1.20" fill="#ffab19"/><rect x="456.00" y="912.40" width="12.91" height="1.20" fill="#ff661a"/><rect x="454.00" y="913.60" width="3.00" height="1.00" fill="#ffab19"/><rect x="456.00" y="913.60" width="13.50" height="1.00" fill="#ff8c1a"/><rect x="458.00" y="913.80" width="8.50" height="0.60" fill="#59c059"/><rect x="454.00" y="914.60" width="3.00" height="1.20" fill="#ffab19"/><rect x="456.00" y="914.60" width="13.23" height="1.20" fill="#ff8c1a"/><rect x="454.00" y="915.80" width="3.00" height="1.40" fill="#ffab19"/><rect x="456.00" y="915.80" width="15.68" height="1.40" fill="#ff8c1a"/><rect x="454.00" y="917.20" width="3.00" height="1.20" fill="#ffab19"/><rect x="456.00" y="917.20" width="17.67" height="1.20" fill="#ff661a"/><rect x="458.00" y="917.40" width="12.67" height="0.72" fill="#59c059"/><rect x="454.00" y="918.40" width="3.00" height="1.40" fill="#ffab19"/><rect x="456.00" y="918.40" width="18.61" height="1.40" fill="#ffab19"/><rect x="458.00" y="918.60" width="13.61" height="0.84" fill="#59c059"/><rect x="454.00" y="919.80" width="3.00" height="1.20" fill="#ffab19"/><rect x="456.00" y="919.80" width="15.34" height="1.20" fill="#ffab19"/><rect x="458.00" y="920.00" width="10.34" height="0.72" fill="#59c059"/><rect x="454.00" y="921.00" width="3.00" height="1.40" fill="#ffab19"/><rect x="456.00" y="921.00" width="15.68" height="1.40" fill="#ff661a"/><rect x="458.00" y="921.20" width="10.68" height="0.84" fill="#59c059"/><rect x="454.00" y="922.40" width="3.00" height="1.20" fill="#ffab19"/><rect x="456.00" y="922.40" width="24.89" height="1.20" fill="#ff661a"/><rect x="524.00" y="895.30" width="6.00" height="2.00" fill="#ffab19" rx="0.6"/><rect x="524.00" y="897.30" width="3.00" height="1.20" fill="#ffab19"/><rect x="526.00" y="897.30" width="3.47" height="1.20" fill="#ff8c1a"/><rect x="524.00" y="898.50" width="3.00" height="1.00" fill="#ffab19"/><rect x="526.00" y="898.50" width="4.30" height="1.00" fill="#ff8c1a"/><rect x="524.00" y="899.50" width="3.00" height="1.40" fill="#ffab19"/><rect x="526.00" y="899.50" width="4.92" height="1.40" fill="#ff8c1a"/><rect x="524.00" y="900.90" width="3.00" height="1.00" fill="#ffab19"/><rect x="526.00" y="900.90" width="6.52" height="1.00" fill="#ffab19"/><rect x="524.00" y="901.90" width="3.00" height="1.20" fill="#ffab19"/><rect x="526.00" y="901.90" width="7.56" height="1.20" fill="#ffab19"/><rect x="524.00" y="903.10" width="3.00" height="1.20" fill="#ffab19"/><rect x="526.00" y="903.10" width="8.86" height="1.20" fill="#ff8c1a"/><rect x="528.00" y="903.30" width="3.86" height="0.72" fill="#59c059"/><rect x="524.00" y="904.30" width="3.00" height="1.40" fill="#ffab19"/><rect x="526.00" y="904.30" width="10.63" height="1.40" fill="#ff661a"/><rect x="528.00" y="904.50" width="5.63" height="0.84" fill="#59c059"/><rect x="524.00" y="905.70" width="3.00" height="1.20" fill="#ffab19"/><rect x="526.00" y="905.70" width="10.71" height="1.20" fill="#ff8c1a"/><rect x="528.00" y="905.90" width="5.71" height="0.72" fill="#59c059"/><rect x="524.00" y="906.90" width="3.00" height="1.00" fill="#ffab19"/><rect x="526.00" y="906.90" width="9.86" height="1.00" fill="#ffab19"/><rect x="528.00" y="907.10" width="4.86" height="0.60" fill="#59c059"/><rect x="524.00" y="907.90" width="3.00" height="1.40" fill="#ffab19"/><rect x="526.00" y="907.90" width="12.03" height="1.40" fill="#ff8c1a"/><rect x="528.00" y="908.10" width="7.03" height="0.84" fill="#59c059"/><rect x="524.00" y="909.30" width="3.00" height="1.20" fill="#ffab19"/><rect x="526.00" y="909.30" width="15.01" height="1.20" fill="#ff8c1a"/><rect x="528.00" y="909.50" width="10.01" height="0.72" fill="#59c059"/><rect x="524.00" y="910.50" width="3.00" height="1.00" fill="#ffab19"/><rect x="526.00" y="910.50" width="12.59" height="1.00" fill="#ff8c1a"/><rect x="528.00" y="910.70" width="7.59" height="0.60" fill="#59c059"/><rect x="524.00" y="911.50" width="3.00" height="1.40" fill="#ffab19"/><rect x="526.00" y="911.50" width="13.64" height="1.40" fill="#ffab19"/><rect x="524.00" y="912.90" width="3.00" height="1.20" fill="#ffab19"/><rect x="526.00" y="912.90" width="19.78" height="1.20" fill="#ff661a"/><rect x="524.00" y="914.10" width="3.00" height="1.00" fill="#ffab19"/><rect x="526.00" y="914.10" width="17.36" height="1.00" fill="#ff8c1a"/><rect x="528.00" y="914.30" width="12.36" height="0.60" fill="#59c059"/><rect x="524.00" y="915.10" width="3.00" height="1.20" fill="#ffab19"/><rect x="526.00" y="915.10" width="17.24" height="1.20" fill="#ffab19"/><rect x="528.00" y="915.30" width="12.24" height="0.72" fill="#59c059"/><rect x="524.00" y="916.30" width="3.00" height="1.00" fill="#ffab19"/><rect x="526.00" y="916.30" width="17.12" height="1.00" fill="#ff661a"/><rect x="528.00" y="916.50" width="12.12" height="0.60" fill="#59c059"/><rect x="524.00" y="917.30" width="3.00" height="1.00" fill="#ffab19"/><rect x="526.00" y="917.30" width="20.76" height="1.00" fill="#ff8c1a"/><rect x="528.00" y="917.50" width="15.76" height="0.60" fill="#59c059"/><rect x="524.00" y="918.30" width="3.00" height="1.20" fill="#ffab19"/><rect x="526.00" y="918.30" width="25.50" height="1.20" fill="#ff661a"/><rect x="528.00" y="918.50" width="20.50" height="0.72" fill="#59c059"/><rect x="524.00" y="919.50" width="3.00" height="1.20" fill="#ffab19"/><rect x="526.00" y="919.50" width="17.75" height="1.20" fill="#ffab19"/><rect x="528.00" y="919.70" width="12.75" height="0.72" fill="#59c059"/><rect x="599.00" y="893.00" width="6.00" height="2.00" fill="#ffab19" rx="0.6"/><rect x="599.00" y="895.00" width="3.00" height="1.20" fill="#ffab19"/><rect x="601.00" y="895.00" width="3.10" height="1.20" fill="#ff661a"/><rect x="599.00" y="896.20" width="3.00" height="1.40" fill="#ffab19"/><rect x="601.00" y="896.20" width="3.47" height="1.40" fill="#ff8c1a"/><rect x="599.00" y="897.60" width="3.00" height="1.20" fill="#ffab19"/><rect x="601.00" y="897.60" width="4.38" height="1.20" fill="#ff8c1a"/><rect x="599.00" y="898.80" width="3.00" height="1.40" fill="#ffab19"/><rect x="601.00" y="898.80" width="4.99" height="1.40" fill="#ff8c1a"/><rect x="599.00" y="900.20" width="3.00" height="1.00" fill="#ffab19"/><rect x="601.00" y="900.20" width="6.51" height="1.00" fill="#ffab19"/><rect x="599.00" y="901.20" width="3.00" height="1.20" fill="#ffab19"/><rect x="601.00" y="901.20" width="7.65" height="1.20" fill="#ff8c1a"/><rect x="599.00" y="902.40" width="3.00" height="1.00" fill="#ffab19"/><rect x="601.00" y="902.40" width="6.41" height="1.00" fill="#ff8c1a"/><rect x="599.00" y="903.40" width="3.00" height="1.40" fill="#ffab19"/><rect x="601.00" y="903.40" width="6.78" height="1.40" fill="#ff8c1a"/><rect x="599.00" y="904.80" width="3.00" height="1.20" fill="#ffab19"/><rect x="601.00" y="904.80" width="9.55" height="1.20" fill="#ff8c1a"/><rect x="599.00" y="906.00" width="3.00" height="1.00" fill="#ffab19"/><rect x="601.00" y="906.00" width="8.23" height="1.00" fill="#ffab19"/><rect x="599.00" y="907.00" width="3.00" height="1.00" fill="#ffab19"/><rect x="601.00" y="907.00" width="10.95" height="1.00" fill="#ffab19"/><rect x="603.00" y="907.20" width="5.95" height="0.60" fill="#59c059"/><rect x="599.00" y="908.00" width="3.00" height="1.00" fill="#ffab19"/><rect x="601.00" y="908.00" width="11.74" height="1.00" fill="#ff8c1a"/><rect x="599.00" y="909.00" width="3.00" height="1.20" fill="#ffab19"/><rect x="601.00" y="909.00" width="9.00" height="1.20" fill="#ffab19"/><rect x="603.00" y="909.20" width="4.00" height="0.72" fill="#59c059"/><rect x="599.00" y="910.20" width="3.00" height="1.40" fill="#ffab19"/><rect x="601.00" y="910.20" width="10.40" height="1.40" fill="#ff8c1a"/><rect x="599.00" y="911.60" width="3.00" height="1.40" fill="#ffab19"/><rect x="601.00" y="911.60" width="9.87" height="1.40" fill="#ff8c1a"/><rect x="599.00" y="913.00" width="3.00" height="1.00" fill="#ffab19"/><rect x="601.00" y="913.00" width="11.58" height="1.00" fill="#ff8c1a"/><rect x="603.00" y="913.20" width="6.58" height="0.60" fill="#59c059"/><rect x="599.00" y="914.00" width="3.00" height="1.40" fill="#ffab19"/><rect x="601.00" y="914.00" width="16.28" height="1.40" fill="#ff8c1a"/><rect x="603.00" y="914.20" width="11.28" height="0.84" fill="#59c059"/><rect x="599.00" y="915.40" width="3.00" height="1.00" fill="#ffab19"/><rect x="601.00" y="915.40" width="14.84" height="1.00" fill="#ffab19"/><rect x="603.00" y="915.60" width="9.84" height="0.60" fill="#59c059"/><rect x="599.00" y="916.40" width="3.00" height="1.00" fill="#ffab19"/><rect x="601.00" y="916.40" width="13.14" height="1.00" fill="#ff8c1a"/><rect x="603.00" y="916.60" width="8.14" height="0.60" fill="#59c059"/><rect x="599.00" y="917.40" width="3.00" height="1.00" fill="#ffab19"/><rect x="601.00" y="917.40" width="16.47" height="1.00" fill="#ff8c1a"/><rect x="603.00" y="917.60" width="11.47" height="0.60" fill="#59c059"/><rect x="599.00" y="918.40" width="3.00" height="1.00" fill="#ffab19"/><rect x="601.00" y="918.40" width="17.60" height="1.00" fill="#ff661a"/><rect x="599.00" y="919.40" width="3.00" height="1.00" fill="#ffab19"/><rect x="601.00" y="919.40" width="17.41" height="1.00" fill="#ff8c1a"/><rect x="599.00" y="920.40" width="3.00" height="1.00" fill="#ffab19"/><rect x="601.00" y="920.40" width="16.66" height="1.00" fill="#ff8c1a"/><rect x="603.00" y="920.60" width="11.66" height="0.60" fill="#59c059"/><rect x="599.00" y="921.40" width="3.00" height="1.20" fill="#ffab19"/><rect x="601.00" y="921.40" width="14.33" height="1.20" fill="#ff8c1a"/><rect x="599.00" y="922.60" width="3.00" height="1.40" fill="#ffab19"/><rect x="601.00" y="922.60" width="15.40" height="1.40" fill="#ff661a"/><rect x="603.00" y="922.80" width="10.40" height="0.84" fill="#59c059"/><rect x="677.00" y="893.00" width="4.50" height="1.60" fill="#ffbf00" rx="0.6"/><rect x="677.00" y="894.60" width="1.60" height="2.00" fill="#ffab19"/><rect x="678.20" y="894.75" width="5.23" height="1.05" fill="#ff8c1a" opacity="0.85"/><rect x="677.00" y="896.45" width="1.60" height="2.00" fill="#ffab19"/><rect x="678.20" y="896.60" width="3.45" height="1.05" fill="#ff8c1a" opacity="0.85"/><rect x="677.00" y="898.30" width="1.60" height="1.80" fill="#ffab19"/><rect x="678.20" y="898.45" width="7.03" height="0.90" fill="#ffbf00" opacity="0.85"/><rect x="677.00" y="899.95" width="1.60" height="1.60" fill="#ffab19"/><rect x="678.20" y="900.10" width="5.97" height="0.75" fill="#ff8c1a" opacity="0.85"/><rect x="677.00" y="901.40" width="1.60" height="1.80" fill="#ffab19"/><rect x="678.20" y="901.55" width="3.80" height="0.90" fill="#ff8c1a" opacity="0.85"/><rect x="677.00" y="903.05" width="1.60" height="2.00" fill="#ffab19"/><rect x="678.20" y="903.20" width="2.16" height="1.05" fill="#ffbf00" opacity="0.85"/><rect x="677.00" y="904.90" width="1.60" height="1.60" fill="#ffab19"/><rect x="678.20" y="905.05" width="4.64" height="0.75" fill="#9966ff" opacity="0.85"/><rect x="677.00" y="906.35" width="1.60" height="1.80" fill="#ffab19"/><rect x="678.20" y="906.50" width="8.41" height="0.90" fill="#ffbf00" opacity="0.85"/><rect x="677.00" y="908.00" width="1.60" height="1.80" fill="#ffab19"/><rect x="678.20" y="908.15" width="3.20" height="0.90" fill="#ffab19" opacity="0.85"/><rect x="677.00" y="909.65" width="1.60" height="1.80" fill="#ffab19"/><rect x="678.20" y="909.80" width="4.70" height="0.90" fill="#ff661a" opacity="0.85"/><rect x="677.00" y="911.30" width="1.60" height="1.80" fill="#ffab19"/><rect x="678.20" y="911.45" width="9.56" height="0.90" fill="#9966ff" opacity="0.85"/><rect x="677.00" y="912.95" width="1.60" height="2.00" fill="#ffab19"/><rect x="678.20" y="913.10" width="2.15" height="1.05" fill="#ffab19" opacity="0.85"/><rect x="677.00" y="914.80" width="1.60" height="1.60" fill="#ffab19"/><rect x="678.20" y="914.95" width="2.87" height="0.75" fill="#9966ff" opacity="0.85"/><rect x="677.00" y="916.25" width="1.60" height="1.80" fill="#ffab19"/><rect x="678.20" y="916.40" width="4.73" height="0.90" fill="#9966ff" opacity="0.85"/><rect x="677.00" y="917.90" width="1.60" height="1.60" fill="#ffab19"/><rect x="678.20" y="918.05" width="7.13" height="0.75" fill="#ffbf00" opacity="0.85"/><rect x="677.00" y="919.35" width="1.60" height="1.80" fill="#ffab19"/><rect x="678.20" y="919.50" width="5.56" height="0.90" fill="#ffab19" opacity="0.85"/><rect x="677.00" y="921.00" width="1.60" height="2.00" fill="#ffab19"/><rect x="678.20" y="921.15" width="4.40" height="1.05" fill="#9966ff" opacity="0.85"/><rect x="677.00" y="922.85" width="1.60" height="2.00" fill="#ffab19"/><rect x="678.20" y="923.00" width="8.54" height="1.05" fill="#9966ff" opacity="0.85"/><rect x="677.00" y="922.80" width="3.50" height="1.20" fill="#ffab19"/><rect x="753.00" y="893.00" width="4.50" height="1.60" fill="#ffbf00" rx="0.6"/><rect x="753.00" y="894.60" width="1.60" height="1.80" fill="#ffab19"/><rect x="754.20" y="894.75" width="2.66" height="0.90" fill="#9966ff" opacity="0.85"/><rect x="753.00" y="896.25" width="1.60" height="1.80" fill="#ffab19"/><rect x="754.20" y="896.40" width="2.31" height="0.90" fill="#4c97ff" opacity="0.85"/><rect x="753.00" y="897.90" width="1.60" height="2.00" fill="#ffab19"/><rect x="754.20" y="898.05" width="1.98" height="1.05" fill="#9966ff" opacity="0.85"/><rect x="753.00" y="899.75" width="1.60" height="2.00" fill="#ffab19"/><rect x="754.20" y="899.90" width="2.43" height="1.05" fill="#4c97ff" opacity="0.85"/><rect x="753.00" y="901.60" width="1.60" height="1.60" fill="#ffab19"/><rect x="754.20" y="901.75" width="2.25" height="0.75" fill="#4c97ff" opacity="0.85"/><rect x="753.00" y="903.05" width="1.60" height="1.60" fill="#ffab19"/><rect x="754.20" y="903.20" width="2.34" height="0.75" fill="#4c97ff" opacity="0.85"/><rect x="753.00" y="904.50" width="1.60" height="2.00" fill="#ffab19"/><rect x="754.20" y="904.65" width="1.84" height="1.05" fill="#ffbf00" opacity="0.85"/><rect x="753.00" y="906.35" width="1.60" height="1.80" fill="#ffab19"/><rect x="754.20" y="906.50" width="2.45" height="0.90" fill="#4c97ff" opacity="0.85"/><rect x="753.00" y="908.00" width="1.60" height="2.00" fill="#ffab19"/><rect x="754.20" y="908.15" width="1.96" height="1.05" fill="#ffbf00" opacity="0.85"/><rect x="753.00" y="909.85" width="1.60" height="1.60" fill="#ffab19"/><rect x="754.20" y="910.00" width="1.86" height="0.75" fill="#9966ff" opacity="0.85"/><rect x="753.00" y="911.30" width="1.60" height="1.60" fill="#ffab19"/><rect x="754.20" y="911.45" width="2.68" height="0.75" fill="#9966ff" opacity="0.85"/><rect x="753.00" y="912.75" width="1.60" height="2.00" fill="#ffab19"/><rect x="754.20" y="912.90" width="2.58" height="1.05" fill="#4c97ff" opacity="0.85"/><rect x="753.00" y="914.60" width="1.60" height="1.80" fill="#ffab19"/><rect x="754.20" y="914.75" width="2.39" height="0.90" fill="#4c97ff" opacity="0.85"/><rect x="753.00" y="916.25" width="1.60" height="1.60" fill="#ffab19"/><rect x="754.20" y="916.40" width="2.03" height="0.75" fill="#9966ff" opacity="0.85"/><rect x="753.00" y="917.70" width="1.60" height="1.80" fill="#ffab19"/><rect x="754.20" y="917.85" width="1.80" height="0.90" fill="#4c97ff" opacity="0.85"/><rect x="753.00" y="919.35" width="1.60" height="1.60" fill="#ffab19"/><rect x="754.20" y="919.50" width="2.45" height="0.75" fill="#4c97ff" opacity="0.85"/><rect x="753.00" y="920.80" width="1.60" height="1.80" fill="#ffab19"/><rect x="754.20" y="920.95" width="2.80" height="0.90" fill="#9966ff" opacity="0.85"/><rect x="753.00" y="922.45" width="1.60" height="1.60" fill="#ffab19"/><rect x="754.20" y="922.60" width="2.05" height="0.75" fill="#ffbf00" opacity="0.85"/><rect x="753.00" y="922.80" width="3.50" height="1.20" fill="#ffab19"/><rect x="824.00" y="893.00" width="4.50" height="1.60" fill="#ffbf00" rx="0.6"/><rect x="824.00" y="894.60" width="1.60" height="1.80" fill="#ffab19"/><rect x="825.20" y="894.75" width="2.79" height="0.90" fill="#ff8c1a" opacity="0.85"/><rect x="824.00" y="896.25" width="1.60" height="2.00" fill="#ffab19"/><rect x="825.20" y="896.40" width="2.01" height="1.05" fill="#ff8c1a" opacity="0.85"/><rect x="824.00" y="898.10" width="1.60" height="1.60" fill="#ffab19"/><rect x="825.20" y="898.25" width="2.52" height="0.75" fill="#ff8c1a" opacity="0.85"/><rect x="824.00" y="899.55" width="1.60" height="2.00" fill="#ffab19"/><rect x="825.20" y="899.70" width="2.84" height="1.05" fill="#4c97ff" opacity="0.85"/><rect x="824.00" y="901.40" width="1.60" height="2.00" fill="#ffab19"/><rect x="825.20" y="901.55" width="2.64" height="1.05" fill="#9966ff" opacity="0.85"/><rect x="824.00" y="903.25" width="1.60" height="2.00" fill="#ffab19"/><rect x="825.20" y="903.40" width="2.02" height="1.05" fill="#9966ff" opacity="0.85"/><rect x="824.00" y="905.10" width="1.60" height="1.80" fill="#ffab19"/><rect x="825.20" y="905.25" width="2.04" height="0.90" fill="#ff8c1a" opacity="0.85"/><rect x="824.00" y="906.75" width="1.60" height="1.60" fill="#ffab19"/><rect x="825.20" y="906.90" width="2.66" height="0.75" fill="#4c97ff" opacity="0.85"/><rect x="824.00" y="908.20" width="1.60" height="1.60" fill="#ffab19"/><rect x="825.20" y="908.35" width="2.57" height="0.75" fill="#4c97ff" opacity="0.85"/><rect x="824.00" y="909.65" width="1.60" height="1.80" fill="#ffab19"/><rect x="825.20" y="909.80" width="2.41" height="0.90" fill="#ffbf00" opacity="0.85"/><rect x="824.00" y="911.30" width="1.60" height="1.60" fill="#ffab19"/><rect x="825.20" y="911.45" width="3.18" height="0.75" fill="#4c97ff" opacity="0.85"/><rect x="824.00" y="912.75" width="1.60" height="2.00" fill="#ffab19"/><rect x="825.20" y="912.90" width="2.13" height="1.05" fill="#9966ff" opacity="0.85"/><rect x="824.00" y="914.60" width="1.60" height="1.80" fill="#ffab19"/><rect x="825.20" y="914.75" width="1.97" height="0.90" fill="#4c97ff" opacity="0.85"/><rect x="824.00" y="916.25" width="1.60" height="1.80" fill="#ffab19"/><rect x="825.20" y="916.40" width="2.61" height="0.90" fill="#9966ff" opacity="0.85"/><rect x="824.00" y="917.90" width="1.60" height="2.00" fill="#ffab19"/><rect x="825.20" y="918.05" width="2.05" height="1.05" fill="#9966ff" opacity="0.85"/><rect x="824.00" y="919.75" width="1.60" height="2.00" fill="#ffab19"/><rect x="825.20" y="919.90" width="2.63" height="1.05" fill="#4c97ff" opacity="0.85"/><rect x="824.00" y="921.60" width="1.60" height="2.00" fill="#ffab19"/><rect x="825.20" y="921.75" width="2.40" height="1.05" fill="#4c97ff" opacity="0.85"/><rect x="824.00" y="923.45" width="1.60" height="1.80" fill="#ffab19"/><rect x="825.20" y="923.60" width="2.69" height="0.90" fill="#ffbf00" opacity="0.85"/><rect x="824.00" y="922.80" width="3.50" height="1.20" fill="#ffab19"/><rect x="885.20" y="903.80" width="29.80" height="6.60" fill="#4c97ff" rx="1.2"/><rect x="887.50" y="910.20" width="3.00" height="1.20" fill="#4c97ff"/><rect x="893.50" y="905.40" width="6.50" height="3.40" fill="#ffffff" rx="1.7"/><rect x="904.50" y="905.40" width="6.50" height="3.40" fill="#ffffff" rx="1.7"/><rect x="886.50" y="906.60" width="5.50" height="1.00" fill="#d8e8ff"/><rect x="968.80" y="893.00" width="4.50" height="1.60" fill="#ffbf00" rx="0.6"/><rect x="968.80" y="894.60" width="1.60" height="1.60" fill="#ffab19"/><rect x="970.00" y="894.75" width="2.50" height="0.75" fill="#ff8c1a" opacity="0.85"/><rect x="968.80" y="896.05" width="1.60" height="2.00" fill="#ffab19"/><rect x="970.00" y="896.20" width="2.74" height="1.05" fill="#ff8c1a" opacity="0.85"/><rect x="968.80" y="897.90" width="1.60" height="1.80" fill="#ffab19"/><rect x="970.00" y="898.05" width="2.09" height="0.90" fill="#9966ff" opacity="0.85"/><rect x="968.80" y="899.55" width="1.60" height="1.60" fill="#ffab19"/><rect x="970.00" y="899.70" width="2.10" height="0.75" fill="#ffbf00" opacity="0.85"/><rect x="968.80" y="901.00" width="1.60" height="2.00" fill="#ffab19"/><rect x="970.00" y="901.15" width="2.19" height="1.05" fill="#ffbf00" opacity="0.85"/><rect x="968.80" y="902.85" width="1.60" height="1.60" fill="#ffab19"/><rect x="970.00" y="903.00" width="2.02" height="0.75" fill="#9966ff" opacity="0.85"/><rect x="968.80" y="904.30" width="1.60" height="1.80" fill="#ffab19"/><rect x="970.00" y="904.45" width="2.61" height="0.90" fill="#9966ff" opacity="0.85"/><rect x="968.80" y="905.95" width="1.60" height="1.80" fill="#ffab19"/><rect x="970.00" y="906.10" width="1.95" height="0.90" fill="#ff8c1a" opacity="0.85"/><rect x="968.80" y="907.60" width="1.60" height="2.00" fill="#ffab19"/><rect x="970.00" y="907.75" width="1.96" height="1.05" fill="#9966ff" opacity="0.85"/><rect x="968.80" y="909.45" width="1.60" height="2.00" fill="#ffab19"/><rect x="970.00" y="909.60" width="1.92" height="1.05" fill="#ff8c1a" opacity="0.85"/><rect x="968.80" y="911.30" width="1.60" height="1.80" fill="#ffab19"/><rect x="970.00" y="911.45" width="1.88" height="0.90" fill="#ff8c1a" opacity="0.85"/><rect x="968.80" y="912.95" width="1.60" height="1.60" fill="#ffab19"/><rect x="970.00" y="913.10" width="2.20" height="0.75" fill="#ffbf00" opacity="0.85"/><rect x="968.80" y="914.40" width="1.60" height="1.80" fill="#ffab19"/><rect x="970.00" y="914.55" width="1.89" height="0.90" fill="#ff8c1a" opacity="0.85"/><rect x="968.80" y="916.05" width="1.60" height="2.00" fill="#ffab19"/><rect x="970.00" y="916.20" width="2.38" height="1.05" fill="#ff8c1a" opacity="0.85"/><rect x="968.80" y="917.90" width="1.60" height="2.00" fill="#ffab19"/><rect x="970.00" y="918.05" width="1.98" height="1.05" fill="#9966ff" opacity="0.85"/><rect x="968.80" y="919.75" width="1.60" height="1.60" fill="#ffab19"/><rect x="970.00" y="919.90" width="2.31" height="0.75" fill="#ffbf00" opacity="0.85"/><rect x="968.80" y="921.20" width="1.60" height="1.60" fill="#ffab19"/><rect x="970.00" y="921.35" width="2.25" height="0.75" fill="#9966ff" opacity="0.85"/><rect x="968.80" y="922.65" width="1.60" height="1.60" fill="#ffab19"/><rect x="970.00" y="922.80" width="2.60" height="0.75" fill="#ffbf00" opacity="0.85"/><rect x="968.80" y="922.80" width="3.50" height="1.20" fill="#ffab19"/><rect x="1040.00" y="893.00" width="4.50" height="1.60" fill="#ffbf00" rx="0.6"/><rect x="1040.00" y="894.60" width="1.60" height="1.60" fill="#ffab19"/><rect x="1041.20" y="894.75" width="3.10" height="0.75" fill="#ffab19" opacity="0.85"/><rect x="1040.00" y="896.05" width="1.60" height="1.60" fill="#ffab19"/><rect x="1041.20" y="896.20" width="4.08" height="0.75" fill="#59c059" opacity="0.85"/><rect x="1040.00" y="897.50" width="1.60" height="1.60" fill="#ffab19"/><rect x="1041.20" y="897.65" width="1.94" height="0.75" fill="#ffab19" opacity="0.85"/><rect x="1040.00" y="898.95" width="1.60" height="2.00" fill="#ffab19"/><rect x="1041.20" y="899.10" width="3.94" height="1.05" fill="#59c059" opacity="0.85"/><rect x="1040.00" y="900.80" width="1.60" height="1.80" fill="#ffab19"/><rect x="1041.20" y="900.95" width="2.09" height="0.90" fill="#59c059" opacity="0.85"/><rect x="1040.00" y="902.45" width="1.60" height="1.80" fill="#ffab19"/><rect x="1041.20" y="902.60" width="2.50" height="0.90" fill="#9966ff" opacity="0.85"/><rect x="1040.00" y="904.10" width="1.60" height="1.80" fill="#ffab19"/><rect x="1041.20" y="904.25" width="2.37" height="0.90" fill="#9966ff" opacity="0.85"/><rect x="1040.00" y="905.75" width="1.60" height="1.60" fill="#ffab19"/><rect x="1041.20" y="905.90" width="3.79" height="0.75" fill="#9966ff" opacity="0.85"/><rect x="1040.00" y="907.20" width="1.60" height="1.60" fill="#ffab19"/><rect x="1041.20" y="907.35" width="4.11" height="0.75" fill="#9966ff" opacity="0.85"/><rect x="1040.00" y="908.65" width="1.60" height="2.00" fill="#ffab19"/><rect x="1041.20" y="908.80" width="2.38" height="1.05" fill="#ff8c1a" opacity="0.85"/><rect x="1040.00" y="910.50" width="1.60" height="1.80" fill="#ffab19"/><rect x="1041.20" y="910.65" width="3.02" height="0.90" fill="#ff8c1a" opacity="0.85"/><rect x="1040.00" y="912.15" width="1.60" height="1.80" fill="#ffab19"/><rect x="1041.20" y="912.30" width="3.80" height="0.90" fill="#ffab19" opacity="0.85"/><rect x="1040.00" y="913.80" width="1.60" height="1.80" fill="#ffab19"/><rect x="1041.20" y="913.95" width="2.59" height="0.90" fill="#ffab19" opacity="0.85"/><rect x="1040.00" y="915.45" width="1.60" height="2.00" fill="#ffab19"/><rect x="1041.20" y="915.60" width="2.81" height="1.05" fill="#ff8c1a" opacity="0.85"/><rect x="1040.00" y="917.30" width="1.60" height="1.60" fill="#ffab19"/><rect x="1041.20" y="917.45" width="4.20" height="0.75" fill="#ff8c1a" opacity="0.85"/><rect x="1040.00" y="918.75" width="1.60" height="1.60" fill="#ffab19"/><rect x="1041.20" y="918.90" width="2.15" height="0.75" fill="#59c059" opacity="0.85"/><rect x="1040.00" y="920.20" width="1.60" height="1.60" fill="#ffab19"/><rect x="1041.20" y="920.35" width="4.15" height="0.75" fill="#ffab19" opacity="0.85"/><rect x="1040.00" y="921.65" width="1.60" height="2.00" fill="#ffab19"/><rect x="1041.20" y="921.80" width="2.52" height="1.05" fill="#ffab19" opacity="0.85"/><rect x="1040.00" y="922.80" width="3.50" height="1.20" fill="#ffab19"/><rect x="1100.60" y="901.50" width="30.90" height="4.80" fill="#ffab19" rx="0.8"/><path d="M1104.5,903.9 l1.6,-1.8 H1122 l1.6,1.8 l-1.6,1.8 H1106.1 Z" fill="#59c059"/><rect x="1107.00" y="902.80" width="6.00" height="2.20" fill="#ff8c1a" rx="1.1"/><rect x="1116.00" y="902.80" width="4.00" height="2.20" fill="#ffffff" rx="1.1"/><rect x="1100.60" y="906.30" width="2.20" height="6.50" fill="#ffab19"/><rect x="1102.80" y="906.30" width="21.00" height="4.60" fill="#9966ff" rx="0.8"/><rect x="1100.60" y="911.00" width="30.90" height="3.60" fill="#ffab19" rx="0.8"/><rect x="1183.50" y="893.00" width="4.50" height="1.60" fill="#ffbf00" rx="0.6"/><rect x="1183.50" y="894.60" width="1.60" height="2.00" fill="#ffab19"/><rect x="1184.70" y="894.75" width="4.22" height="1.05" fill="#ff8c1a" opacity="0.85"/><rect x="1183.50" y="896.45" width="1.60" height="1.80" fill="#ffab19"/><rect x="1184.70" y="896.60" width="2.32" height="0.90" fill="#9966ff" opacity="0.85"/><rect x="1183.50" y="898.10" width="1.60" height="2.00" fill="#ffab19"/><rect x="1184.70" y="898.25" width="3.42" height="1.05" fill="#59c059" opacity="0.85"/><rect x="1183.50" y="899.95" width="1.60" height="1.80" fill="#ffab19"/><rect x="1184.70" y="900.10" width="4.55" height="0.90" fill="#ffab19" opacity="0.85"/><rect x="1183.50" y="901.60" width="1.60" height="1.60" fill="#ffab19"/><rect x="1184.70" y="901.75" width="4.25" height="0.75" fill="#ff8c1a" opacity="0.85"/><rect x="1183.50" y="903.05" width="1.60" height="1.80" fill="#ffab19"/><rect x="1184.70" y="903.20" width="4.38" height="0.90" fill="#9966ff" opacity="0.85"/><rect x="1183.50" y="904.70" width="1.60" height="1.80" fill="#ffab19"/><rect x="1184.70" y="904.85" width="4.34" height="0.90" fill="#59c059" opacity="0.85"/><rect x="1183.50" y="906.35" width="1.60" height="2.00" fill="#ffab19"/><rect x="1184.70" y="906.50" width="2.21" height="1.05" fill="#ff8c1a" opacity="0.85"/><rect x="1183.50" y="908.20" width="1.60" height="2.00" fill="#ffab19"/><rect x="1184.70" y="908.35" width="2.22" height="1.05" fill="#ffab19" opacity="0.85"/><rect x="1183.50" y="910.05" width="1.60" height="1.60" fill="#ffab19"/><rect x="1184.70" y="910.20" width="4.45" height="0.75" fill="#59c059" opacity="0.85"/><rect x="1183.50" y="911.50" width="1.60" height="2.00" fill="#ffab19"/><rect x="1184.70" y="911.65" width="4.21" height="1.05" fill="#ffab19" opacity="0.85"/><rect x="1183.50" y="913.35" width="1.60" height="2.00" fill="#ffab19"/><rect x="1184.70" y="913.50" width="2.79" height="1.05" fill="#59c059" opacity="0.85"/><rect x="1183.50" y="915.20" width="1.60" height="1.60" fill="#ffab19"/><rect x="1184.70" y="915.35" width="3.72" height="0.75" fill="#59c059" opacity="0.85"/><rect x="1183.50" y="916.65" width="1.60" height="1.80" fill="#ffab19"/><rect x="1184.70" y="916.80" width="2.05" height="0.90" fill="#ff8c1a" opacity="0.85"/><rect x="1183.50" y="918.30" width="1.60" height="1.80" fill="#ffab19"/><rect x="1184.70" y="918.45" width="4.79" height="0.90" fill="#59c059" opacity="0.85"/><rect x="1183.50" y="919.95" width="1.60" height="1.60" fill="#ffab19"/><rect x="1184.70" y="920.10" width="4.24" height="0.75" fill="#59c059" opacity="0.85"/><rect x="1183.50" y="921.40" width="1.60" height="2.00" fill="#ffab19"/><rect x="1184.70" y="921.55" width="1.85" height="1.05" fill="#9966ff" opacity="0.85"/><rect x="1183.50" y="923.25" width="1.60" height="1.80" fill="#ffab19"/><rect x="1184.70" y="923.40" width="1.96" height="0.90" fill="#ffab19" opacity="0.85"/><rect x="1183.50" y="922.80" width="3.50" height="1.20" fill="#ffab19"/><rect x="1257.60" y="893.00" width="3.51" height="1.60" fill="#ffbf00" rx="0.6"/><rect x="1257.60" y="894.60" width="1.60" height="1.60" fill="#ffab19"/><rect x="1258.80" y="894.75" width="1.47" height="0.75" fill="#ff661a" opacity="0.85"/><rect x="1257.60" y="896.05" width="1.60" height="1.80" fill="#ffab19"/><rect x="1258.80" y="896.20" width="1.24" height="0.90" fill="#ff8c1a" opacity="0.85"/><rect x="1257.60" y="897.70" width="1.60" height="1.80" fill="#ffab19"/><rect x="1258.80" y="897.85" width="1.23" height="0.90" fill="#ff8c1a" opacity="0.85"/><rect x="1257.60" y="899.35" width="1.60" height="1.80" fill="#ffab19"/><rect x="1258.80" y="899.50" width="1.58" height="0.90" fill="#ff8c1a" opacity="0.85"/><rect x="1257.60" y="901.00" width="1.60" height="1.60" fill="#ffab19"/><rect x="1258.80" y="901.15" width="1.59" height="0.75" fill="#e05050" opacity="0.85"/><rect x="1257.60" y="902.45" width="1.60" height="1.60" fill="#ffab19"/><rect x="1258.80" y="902.60" width="1.40" height="0.75" fill="#e05050" opacity="0.85"/><rect x="1257.60" y="903.90" width="1.60" height="1.60" fill="#ffab19"/><rect x="1258.80" y="904.05" width="1.22" height="0.75" fill="#ff8c1a" opacity="0.85"/><rect x="1257.60" y="905.35" width="1.60" height="1.60" fill="#ffab19"/><rect x="1258.80" y="905.50" width="1.43" height="0.75" fill="#e05050" opacity="0.85"/><rect x="1257.60" y="906.80" width="1.60" height="1.60" fill="#ffab19"/><rect x="1258.80" y="906.95" width="1.25" height="0.75" fill="#ff8c1a" opacity="0.85"/><rect x="1257.60" y="908.25" width="1.60" height="1.80" fill="#ffab19"/><rect x="1258.80" y="908.40" width="1.14" height="0.90" fill="#e05050" opacity="0.85"/><rect x="1257.60" y="909.90" width="1.60" height="1.80" fill="#ffab19"/><rect x="1258.80" y="910.05" width="1.53" height="0.90" fill="#ff8c1a" opacity="0.85"/><rect x="1257.60" y="911.55" width="1.60" height="1.80" fill="#ffab19"/><rect x="1258.80" y="911.70" width="1.44" height="0.90" fill="#e05050" opacity="0.85"/><rect x="1257.60" y="913.20" width="1.60" height="2.00" fill="#ffab19"/><rect x="1258.80" y="913.35" width="1.55" height="1.05" fill="#e05050" opacity="0.85"/><rect x="1257.60" y="915.05" width="1.60" height="2.00" fill="#ffab19"/><rect x="1258.80" y="915.20" width="1.42" height="1.05" fill="#e05050" opacity="0.85"/><rect x="1257.60" y="916.90" width="1.60" height="1.80" fill="#ffab19"/><rect x="1258.80" y="917.05" width="1.42" height="0.90" fill="#ff8c1a" opacity="0.85"/><rect x="1257.60" y="918.55" width="1.60" height="2.00" fill="#ffab19"/><rect x="1258.80" y="918.70" width="1.39" height="1.05" fill="#ff8c1a" opacity="0.85"/><rect x="1257.60" y="920.40" width="1.60" height="2.00" fill="#ffab19"/><rect x="1258.80" y="920.55" width="1.23" height="1.05" fill="#ff8c1a" opacity="0.85"/><rect x="1257.60" y="922.25" width="1.60" height="2.00" fill="#ffab19"/><rect x="1258.80" y="922.40" width="1.21" height="1.05" fill="#ff8c1a" opacity="0.85"/><rect x="1257.60" y="922.80" width="2.73" height="1.20" fill="#ffab19"/><rect x="1328.10" y="892.80" width="4.50" height="1.60" fill="#ffbf00" rx="0.6"/><rect x="1328.10" y="894.40" width="1.60" height="2.00" fill="#ffab19"/><rect x="1329.30" y="894.55" width="3.37" height="1.05" fill="#ffab19" opacity="0.85"/><rect x="1328.10" y="896.25" width="1.60" height="2.00" fill="#ffab19"/><rect x="1329.30" y="896.40" width="2.82" height="1.05" fill="#ffab19" opacity="0.85"/><rect x="1328.10" y="898.10" width="1.60" height="1.80" fill="#ffab19"/><rect x="1329.30" y="898.25" width="3.79" height="0.90" fill="#9966ff" opacity="0.85"/><rect x="1328.10" y="899.75" width="1.60" height="1.80" fill="#ffab19"/><rect x="1329.30" y="899.90" width="2.10" height="0.90" fill="#ff8c1a" opacity="0.85"/><rect x="1328.10" y="901.40" width="1.60" height="1.80" fill="#ffab19"/><rect x="1329.30" y="901.55" width="2.32" height="0.90" fill="#ffab19" opacity="0.85"/><rect x="1328.10" y="903.05" width="1.60" height="1.80" fill="#ffab19"/><rect x="1329.30" y="903.20" width="3.47" height="0.90" fill="#9966ff" opacity="0.85"/><rect x="1328.10" y="904.70" width="1.60" height="1.80" fill="#ffab19"/><rect x="1329.30" y="904.85" width="1.85" height="0.90" fill="#9966ff" opacity="0.85"/><rect x="1328.10" y="906.35" width="1.60" height="2.00" fill="#ffab19"/><rect x="1329.30" y="906.50" width="3.56" height="1.05" fill="#59c059" opacity="0.85"/><rect x="1328.10" y="908.20" width="1.60" height="1.60" fill="#ffab19"/><rect x="1329.30" y="908.35" width="2.88" height="0.75" fill="#ffab19" opacity="0.85"/><rect x="1328.10" y="909.65" width="1.60" height="1.80" fill="#ffab19"/><rect x="1329.30" y="909.80" width="3.41" height="0.90" fill="#ffab19" opacity="0.85"/><rect x="1328.10" y="911.30" width="1.60" height="1.80" fill="#ffab19"/><rect x="1329.30" y="911.45" width="2.00" height="0.90" fill="#ffab19" opacity="0.85"/><rect x="1328.10" y="912.95" width="1.60" height="2.00" fill="#ffab19"/><rect x="1329.30" y="913.10" width="3.31" height="1.05" fill="#ffab19" opacity="0.85"/><rect x="1328.10" y="914.80" width="1.60" height="1.80" fill="#ffab19"/><rect x="1329.30" y="914.95" width="3.12" height="0.90" fill="#ffab19" opacity="0.85"/><rect x="1328.10" y="916.45" width="1.60" height="1.80" fill="#ffab19"/><rect x="1329.30" y="916.60" width="3.63" height="0.90" fill="#ff8c1a" opacity="0.85"/><rect x="1328.10" y="918.10" width="1.60" height="1.60" fill="#ffab19"/><rect x="1329.30" y="918.25" width="2.27" height="0.75" fill="#ffab19" opacity="0.85"/><rect x="1328.10" y="919.55" width="1.60" height="2.00" fill="#ffab19"/><rect x="1329.30" y="919.70" width="3.26" height="1.05" fill="#ff8c1a" opacity="0.85"/><rect x="1328.10" y="921.40" width="1.60" height="1.60" fill="#ffab19"/><rect x="1329.30" y="921.55" width="2.18" height="0.75" fill="#ffab19" opacity="0.85"/><rect x="1328.10" y="922.85" width="1.60" height="1.60" fill="#ffab19"/><rect x="1329.30" y="923.00" width="2.01" height="0.75" fill="#ffab19" opacity="0.85"/><rect x="1328.10" y="923.60" width="3.50" height="1.20" fill="#ffab19"/><rect x="1388.80" y="896.90" width="25.50" height="4.60" fill="#5cb1d6" rx="0.8"/><rect x="1389.50" y="898.80" width="20.00" height="1.00" fill="#bfe4f3"/><rect x="1388.80" y="901.50" width="30.10" height="5.20" fill="#ffab19" rx="0.8"/><path d="M1392.5,904.1 l1.8,-2 H1413 l1.8,2 l-1.8,2 H1394.3 Z" fill="#59c059"/><rect x="1395.00" y="903.00" width="8.00" height="2.30" fill="#ff8c1a" rx="1.1"/><rect x="1406.00" y="903.00" width="4.00" height="2.30" fill="#ffffff" rx="1.1"/><rect x="1388.80" y="906.70" width="2.20" height="6.00" fill="#ffab19"/><rect x="1391.00" y="906.70" width="22.00" height="4.50" fill="#9966ff" rx="0.8"/><rect x="1388.80" y="911.50" width="30.10" height="3.20" fill="#ffab19" rx="0.8"/><rect x="1388.80" y="914.70" width="16.50" height="4.70" fill="#e6ac00" rx="0.8"/><rect x="1389.50" y="916.30" width="14.00" height="1.20" fill="#f5cd52"/></svg>
<div class="abs" style="left:1448px;top:909px;width:49px;height:31px;background:#4c97ff;border-radius:6px"></div>
<div class="abs t" style="left:1448.00px;top:917.99px;font-size:13.6px;line-height:13.6px;color:#fff;font-weight:700;width:49px;text-align:center;">More</div>
<div class="abs" style="left:1670px;top:53px;width:32px;height:32px;background:#b3d1ff;border-radius:4px"></div>
<svg class="abs" style="left:1674px;top:58px" width="24" height="23" viewBox="0 0 24 23">
<path d="M3.2,2.5 V21" stroke="#45993d" stroke-width="2" stroke-linecap="round"/>
<path d="M3.5,3.2 C7,0.8 10.5,5.2 15,3.2 C17,2.4 19,2 21.5,2.8 V14.5 C19,13.7 17,14.1 15,14.9 C10.5,16.9 7,12.5 3.5,14.9 Z" fill="#4cbf56" stroke="#45993d" stroke-width="1" stroke-linejoin="round"/></svg>
<svg class="abs" style="left:1707.5px;top:58.5px" width="21" height="21" viewBox="0 0 21 21">
<path d="M6.6,0.8 H14.4 L20.2,6.6 V14.4 L14.4,20.2 H6.6 L0.8,14.4 V6.6 Z" fill="#ec5959" stroke="#c94b4b" stroke-width="0.8" stroke-linejoin="round"/></svg>
<div class="abs" style="left:1807.6px;top:52.3px;width:67px;height:33px;background:#fff;border:1px solid #d6dbe4;border-radius:5px;box-sizing:border-box"></div>
<div class="abs" style="left:1840.3px;top:53px;width:1px;height:31.6px;background:#d6dbe4"></div>
<div class="abs" style="left:1878.3px;top:52.3px;width:33.2px;height:33px;background:#fff;border:1px solid #d6dbe4;border-radius:5px;box-sizing:border-box"></div>
<svg class="abs" style="left:1815px;top:61px" width="18" height="17" viewBox="0 0 18 17">
<rect x="1.6" y="1.6" width="14.8" height="13" rx="1.5" fill="none" stroke="#74aeff" stroke-width="1.3"/><rect x="12.6" y="1.6" width="3.8" height="13" fill="#4c97ff"/><rect x="13.4" y="4.2" width="2.2" height="1.1" fill="#fff"/></svg>
<svg class="abs" style="left:1849px;top:61px" width="18" height="17" viewBox="0 0 18 17">
<rect x="1.6" y="1.6" width="14.8" height="13" rx="1.5" fill="none" stroke="#9a9ca6" stroke-width="1.3"/><rect x="9" y="1.6" width="7.4" height="6.2" fill="#8f9199"/><path d="M9,1.6 V14.6 M9,7.8 H16.4" stroke="#9a9ca6" stroke-width="1.2"/></svg>
<svg class="abs" style="left:1886px;top:60px" width="18" height="18" viewBox="0 0 18 18"><g fill="#575e75">
<path d="M1,1 H7 L5,3 L7.5,5.5 L5.5,7.5 L3,5 L1,7 Z"/><path d="M17,1 V7 L15,5 L12.5,7.5 L10.5,5.5 L13,3 L11,1 Z"/>
<path d="M1,17 V11 L3,13 L5.5,10.5 L7.5,12.5 L5,15 L7,17 Z"/><path d="M17,17 H11 L13,15 L10.5,12.5 L12.5,10.5 L15,13 L17,11 Z"/></g></svg>
<div class="abs" style="left:1670.5px;top:91.5px;width:241px;height:181px;background:#fff;border:1px solid #c8d0dd;border-radius:6px;box-sizing:border-box;overflow:hidden"></div>
<div class="abs t" style="left:1706.80px;top:139.66px;font-size:10.8px;line-height:10.8px;color:#3a3a3a;">Do you want to name the colours?</div>
<div class="abs t" style="left:1500.00px;top:234.27px;font-size:10.2px;line-height:10.2px;color:#3a3a3a;width:402.5px;text-align:right;transform:scaleX(0.855);transform-origin:100% 50%;">If not then they will just be called 1, 2, 3, etc</div>
<div class="abs" style="left:1671.5px;top:135.2px;width:69.5px;height:10.3px;background:#e6f0ff;border:1px solid #c6cfdd;border-radius:2px;box-sizing:border-box"></div>
<div class="abs t" style="left:1675.80px;top:137.52px;font-size:6px;line-height:6px;color:#575e75;font-weight:700;">how many in a row</div>
<div class="abs" style="left:1733.8px;top:136.8px;width:7px;height:7.2px;background:#ff8c1a;border-radius:2px"></div>
<div class="abs" style="left:1740.7px;top:92.9px;width:50px;height:99.5px;background:#e6f0ff;border:1px solid #c6cfdd;border-radius:3px;box-sizing:border-box;overflow:hidden"></div>
<div class="abs" style="left:1741.7px;top:93.9px;width:48px;height:16.5px;background:#fff;border-bottom:1px solid #dfe5ef;border-radius:2px 2px 0 0"></div>
<div class="abs t" style="left:1740.70px;top:95.82px;font-size:6px;line-height:6px;color:#575e75;font-weight:700;width:50px;text-align:center;">how many in a</div>
<div class="abs t" style="left:1740.70px;top:102.82px;font-size:6px;line-height:6px;color:#575e75;font-weight:700;width:50px;text-align:center;">row</div>
<div class="abs t" style="left:1740.70px;top:112.82px;font-size:6px;line-height:6px;color:#737889;width:50px;text-align:center;">(empty)</div>
<div class="abs" style="left:1741.7px;top:181.9px;width:48px;height:9.5px;background:#fff;border-top:1px solid #dfe5ef;border-radius:0 0 2px 2px"></div>
<div class="abs t" style="left:1743.70px;top:183.30px;font-size:6.5px;line-height:6.5px;color:#575e75;font-weight:700;">+</div>
<div class="abs t" style="left:1740.70px;top:183.89px;font-size:5.8px;line-height:5.8px;color:#575e75;font-weight:700;width:50px;text-align:center;">length 0</div>
<div class="abs t" style="left:1783.70px;top:183.72px;font-size:6px;line-height:6px;color:#575e75;font-weight:700;">=</div>
<div class="abs" style="left:1671px;top:152.7px;width:50.5px;height:99.6px;background:#e6f0ff;border:1px solid #c6cfdd;border-radius:3px;box-sizing:border-box;overflow:hidden"></div>
<div class="abs" style="left:1672px;top:153.7px;width:48.5px;height:9.5px;background:#fff;border-bottom:1px solid #dfe5ef;border-radius:2px 2px 0 0"></div>
<div class="abs t" style="left:1671.00px;top:155.42px;font-size:6px;line-height:6px;color:#575e75;font-weight:700;width:50.5px;text-align:center;">colour names</div>
<div class="abs t" style="left:1671.00px;top:165.62px;font-size:6px;line-height:6px;color:#737889;width:50.5px;text-align:center;">(empty)</div>
<div class="abs" style="left:1672px;top:241.8px;width:48.5px;height:9.5px;background:#fff;border-top:1px solid #dfe5ef;border-radius:0 0 2px 2px"></div>
<div class="abs t" style="left:1674.00px;top:243.20px;font-size:6.5px;line-height:6.5px;color:#575e75;font-weight:700;">+</div>
<div class="abs t" style="left:1671.00px;top:243.79px;font-size:5.8px;line-height:5.8px;color:#575e75;font-weight:700;width:50.5px;text-align:center;">length 0</div>
<div class="abs t" style="left:1714.50px;top:243.62px;font-size:6px;line-height:6px;color:#575e75;font-weight:700;">=</div>
<div class="abs" style="left:1719.9px;top:144.5px;width:50.5px;height:99.8px;background:#e6f0ff;border:1px solid #c6cfdd;border-radius:3px;box-sizing:border-box;overflow:hidden"></div>
<div class="abs" style="left:1720.9px;top:145.5px;width:48.5px;height:16.5px;background:#fff;border-bottom:1px solid #dfe5ef;border-radius:2px 2px 0 0"></div>
<div class="abs t" style="left:1719.90px;top:147.42px;font-size:6px;line-height:6px;color:#575e75;font-weight:700;width:50.5px;text-align:center;">colour name</div>
<div class="abs t" style="left:1719.90px;top:154.42px;font-size:6px;line-height:6px;color:#575e75;font-weight:700;width:50.5px;text-align:center;">values</div>
<div class="abs t" style="left:1719.90px;top:164.42px;font-size:6px;line-height:6px;color:#737889;width:50.5px;text-align:center;">(empty)</div>
<div class="abs" style="left:1720.9px;top:233.8px;width:48.5px;height:9.5px;background:#fff;border-top:1px solid #dfe5ef;border-radius:0 0 2px 2px"></div>
<div class="abs t" style="left:1722.90px;top:235.20px;font-size:6.5px;line-height:6.5px;color:#575e75;font-weight:700;">+</div>
<div class="abs t" style="left:1719.90px;top:235.79px;font-size:5.8px;line-height:5.8px;color:#575e75;font-weight:700;width:50.5px;text-align:center;">length 0</div>
<div class="abs t" style="left:1763.40px;top:235.62px;font-size:6px;line-height:6px;color:#575e75;font-weight:700;">=</div>
<div class="abs" style="left:1793.3px;top:102.1px;width:51px;height:100px;background:#e6f0ff;border:1px solid #c6cfdd;border-radius:3px;box-sizing:border-box;overflow:hidden"></div>
<div class="abs" style="left:1794.3px;top:103.1px;width:49px;height:9.5px;background:#fff;border-bottom:1px solid #dfe5ef;border-radius:2px 2px 0 0"></div>
<div class="abs t" style="left:1793.30px;top:105.16px;font-size:5.6px;line-height:5.6px;color:#575e75;font-weight:700;width:51px;text-align:center;">replace colour #</div>
<div class="abs" style="left:1794.3px;top:113.1px;width:49px;height:78.5px;overflow:hidden">
<div class="abs t" style="left:2.50px;top:3.89px;font-size:5.8px;line-height:5.8px;color:#575e75;">1</div>
<div class="abs" style="left:9.5px;top:1.3px;width:30.5px;height:10.4px;background:#fc662c;border:0.5px solid #e05a20;border-radius:2px;box-sizing:border-box"></div>
<div class="abs t" style="left:12.50px;top:3.99px;font-size:5.8px;line-height:5.8px;color:#fff;">C0 S1...</div>
<div class="abs t" style="left:2.50px;top:15.92px;font-size:5.8px;line-height:5.8px;color:#575e75;">2</div>
<div class="abs" style="left:9.5px;top:13.33px;width:30.5px;height:10.4px;background:#fc662c;border:0.5px solid #e05a20;border-radius:2px;box-sizing:border-box"></div>
<div class="abs t" style="left:12.50px;top:16.02px;font-size:5.8px;line-height:5.8px;color:#fff;">C0 S1...</div>
<div class="abs t" style="left:2.50px;top:27.95px;font-size:5.8px;line-height:5.8px;color:#575e75;">3</div>
<div class="abs" style="left:9.5px;top:25.36px;width:30.5px;height:10.4px;background:#fc662c;border:0.5px solid #e05a20;border-radius:2px;box-sizing:border-box"></div>
<div class="abs t" style="left:12.50px;top:28.05px;font-size:5.8px;line-height:5.8px;color:#fff;">C0 S1...</div>
<div class="abs t" style="left:2.50px;top:39.98px;font-size:5.8px;line-height:5.8px;color:#575e75;">4</div>
<div class="abs" style="left:9.5px;top:37.39px;width:30.5px;height:10.4px;background:#fc662c;border:0.5px solid #e05a20;border-radius:2px;box-sizing:border-box"></div>
<div class="abs t" style="left:12.50px;top:40.08px;font-size:5.8px;line-height:5.8px;color:#fff;">C0 S1...</div>
<div class="abs t" style="left:2.50px;top:52.01px;font-size:5.8px;line-height:5.8px;color:#575e75;">5</div>
<div class="abs" style="left:9.5px;top:49.42px;width:30.5px;height:10.4px;background:#fc662c;border:0.5px solid #e05a20;border-radius:2px;box-sizing:border-box"></div>
<div class="abs t" style="left:12.50px;top:52.11px;font-size:5.8px;line-height:5.8px;color:#fff;">C0 S1...</div>
<div class="abs t" style="left:2.50px;top:64.04px;font-size:5.8px;line-height:5.8px;color:#575e75;">6</div>
<div class="abs" style="left:9.5px;top:61.45px;width:30.5px;height:10.4px;background:#fc662c;border:0.5px solid #e05a20;border-radius:2px;box-sizing:border-box"></div>
<div class="abs t" style="left:12.50px;top:64.14px;font-size:5.8px;line-height:5.8px;color:#fff;">C0 S1...</div>
<div class="abs t" style="left:2.50px;top:76.07px;font-size:5.8px;line-height:5.8px;color:#575e75;">7</div>
<div class="abs" style="left:9.5px;top:73.48px;width:30.5px;height:10.4px;background:#fc662c;border:0.5px solid #e05a20;border-radius:2px;box-sizing:border-box"></div>
<div class="abs t" style="left:12.50px;top:76.17px;font-size:5.8px;line-height:5.8px;color:#fff;">C0 S1...</div>
<div class="abs" style="left:42.5px;top:0px;width:6.5px;height:78.5px;background:#f0f0f0"></div>
<div class="abs" style="left:43.3px;top:5px;width:5px;height:15px;background:#c1c1c1"></div>
</div>
<div class="abs" style="left:1794.3px;top:191.6px;width:49px;height:9.5px;background:#fff;border-top:1px solid #dfe5ef;border-radius:0 0 2px 2px"></div>
<div class="abs t" style="left:1796.30px;top:193.60px;font-size:6.5px;line-height:6.5px;color:#575e75;font-weight:700;">+</div>
<div class="abs t" style="left:1793.30px;top:194.36px;font-size:5.6px;line-height:5.6px;color:#575e75;font-weight:700;width:51px;text-align:center;">length 25</div>
<div class="abs t" style="left:1837.30px;top:194.02px;font-size:6px;line-height:6px;color:#575e75;font-weight:700;">=</div>
<div class="abs" style="left:1670.5px;top:280.5px;width:161px;height:700px;background:#e9f1fc;border:1px solid #ccd3df;border-radius:8px;box-sizing:border-box"></div>
<div class="abs" style="left:1671.5px;top:281.5px;width:159px;height:95.8px;background:#fff;border-radius:7px 7px 0 0;border-bottom:1px solid #dde1e8"></div>
<div class="abs" style="left:1683.3px;top:294.4px;width:127px;height:31px;border:1px solid #d9dce2;border-radius:16px;box-sizing:border-box;background:#fff"></div>
<div class="abs t" style="left:1696.60px;top:306.04px;font-size:10px;line-height:10px;color:#575e75;font-weight:700;">pattern writing</div>
<div class="abs t" style="left:1683.30px;top:345.54px;font-size:10px;line-height:10px;color:#575e75;font-weight:700;">x</div>
<div class="abs" style="left:1697.2px;top:334.3px;width:47.4px;height:31.2px;border:1px solid #d9dce2;border-radius:16px;box-sizing:border-box;background:#fff"></div>
<div class="abs t" style="left:1697.20px;top:345.54px;font-size:10px;line-height:10px;color:#575e75;font-weight:700;width:47.4px;text-align:center;">77</div>
<div class="abs t" style="left:1757.50px;top:345.54px;font-size:10px;line-height:10px;color:#575e75;font-weight:700;">y</div>
<div class="abs" style="left:1771.3px;top:334.3px;width:47.4px;height:31.2px;border:1px solid #d9dce2;border-radius:16px;box-sizing:border-box;background:#fff"></div>
<div class="abs t" style="left:1771.30px;top:345.54px;font-size:10px;line-height:10px;color:#575e75;font-weight:700;width:47.4px;text-align:center;">-68</div>
<div class="abs" style="left:1814.4px;top:378.3px;width:16.1px;height:590.7px;background:#f1f1f1"></div>
<svg class="abs" style="left:1818px;top:385px" width="9" height="6" viewBox="0 0 9 6"><path d="M0.5,5.5 H8.5 L4.5,0.5 Z" fill="#505050"/></svg>
<svg class="abs" style="left:1818px;top:957px" width="9" height="6" viewBox="0 0 9 6"><path d="M0.5,0.5 H8.5 L4.5,5.5 Z" fill="#505050"/></svg>
<div class="abs" style="left:1816px;top:773.2px;width:13px;height:86.2px;background:#c1c1c1"></div>
<div class="abs" style="left:1679.6px;top:378.9px;width:63px;height:62.7px;border:2px solid #c8cdd6;border-radius:8px;box-sizing:border-box"></div>
<div class="abs t" style="left:1679.60px;top:427.13px;font-size:10px;line-height:10px;color:#575e75;width:63px;text-align:center;">naming bg</div>
<div class="abs" style="left:1679.6px;top:450.9px;width:63px;height:62.7px;border:2px solid #c8cdd6;border-radius:8px;box-sizing:border-box"></div>
<div class="abs t" style="left:1679.60px;top:499.13px;font-size:10px;line-height:10px;color:#575e75;width:63px;text-align:center;">naming yes</div>
<div class="abs" style="left:1679.6px;top:522.9px;width:63px;height:62.7px;border:2px solid #c8cdd6;border-radius:8px;box-sizing:border-box"></div>
<div class="abs t" style="left:1679.60px;top:571.13px;font-size:10px;line-height:10px;color:#575e75;width:63px;text-align:center;">naming no</div>
<div class="abs" style="left:1679.6px;top:594.9px;width:63px;height:62.7px;border:2px solid #c8cdd6;border-radius:8px;box-sizing:border-box"></div>
<div class="abs t" style="left:1679.60px;top:643.13px;font-size:10px;line-height:10px;color:#575e75;width:63px;text-align:center;">naming</div>
<div class="abs" style="left:1679.6px;top:666.9px;width:63px;height:62.7px;border:2px solid #c8cdd6;border-radius:8px;box-sizing:border-box"></div>
<div class="abs t" style="left:1679.60px;top:715.13px;font-size:10px;line-height:10px;color:#575e75;width:63px;text-align:center;">tracking ...</div>
<div class="abs" style="left:1675.4px;top:734.5px;width:71.4px;height:71.4px;border-radius:12px;background:rgba(76,151,255,0.35)"></div>
<div class="abs" style="left:1679.6px;top:738.9px;width:63px;height:62.7px;border:2px solid #4c97ff;border-radius:8px;box-sizing:border-box;background:#fff;overflow:hidden"></div>
<div class="abs" style="left:1681.6px;top:780.9px;width:59px;height:18.7px;background:#4c97ff;border-radius:0 0 6px 6px"></div>
<div class="abs t" style="left:1679.60px;top:787.13px;font-size:10px;line-height:10px;color:#fff;font-weight:700;width:63px;text-align:center;">pattern w...</div>
<div class="abs" style="left:1679.6px;top:810.9px;width:63px;height:62.7px;border:2px solid #c8cdd6;border-radius:8px;box-sizing:border-box"></div>
<div class="abs t" style="left:1679.60px;top:859.13px;font-size:10px;line-height:10px;color:#575e75;width:63px;text-align:center;">loading bg</div>
<div class="abs" style="left:1679.6px;top:882.9px;width:63px;height:62.7px;border:2px solid #c8cdd6;border-radius:8px;box-sizing:border-box"></div>
<div class="abs t" style="left:1679.60px;top:931.13px;font-size:10px;line-height:10px;color:#575e75;width:63px;text-align:center;">spinnnnn...</div>
<div class="abs" style="left:1679.6px;top:954.9px;width:63px;height:62.7px;border:2px solid #c8cdd6;border-radius:8px;box-sizing:border-box"></div>
<svg class="abs" style="left:1690px;top:390px" width="44" height="26" viewBox="0 0 44 26"><path d="M8,6 C10,3 16,3 20,4 L34,3 C38,3 39,7 38,11 C39,15 36,19 31,19 L22,19 C18,22 12,23 8,21 C3,20 3,14 6,12 C5,10 6,7 8,6 Z" fill="#fff"/><path d="M17,8 H29 M16,14 H31" stroke="#c8c8c8" stroke-width="0.6" stroke-dasharray="1 0.6"/></svg>
<div class="abs" style="left:1695px;top:464px;width:32px;height:19px;background:#73e28f;border:1px solid #4cc46b;border-radius:3px;box-sizing:border-box"></div>
<div class="abs t" style="left:1695.00px;top:470.57px;font-size:7px;line-height:7px;color:#1f4a2a;width:32px;text-align:center;">Yes</div>
<div class="abs" style="left:1695px;top:536px;width:32px;height:19px;background:#ea6a6a;border:1px solid #c94a4a;border-radius:3px;box-sizing:border-box"></div>
<div class="abs t" style="left:1695.00px;top:542.57px;font-size:7px;line-height:7px;color:#4a1f1f;width:32px;text-align:center;">No</div>
<div class="abs" style="left:1703.8px;top:610.7px;width:14px;height:13px;background:#ff0000"></div>
<svg class="abs" style="left:1704px;top:683px" width="14" height="12" viewBox="0 0 14 12"><ellipse cx="7" cy="6" rx="4.3" ry="3.3" transform="rotate(35 7 6)" fill="#9c8579"/></svg>
<svg class="abs" style="left:1699px;top:751px" width="26" height="20" viewBox="0 0 26 20"><path d="M4,4 L20,15" stroke="#9966ff" stroke-width="4.2" stroke-linecap="round"/></svg>
<svg class="abs" style="left:1694px;top:820px" width="34" height="26" viewBox="0 0 34 26"><path d="M3,4 C10,2 22,2 31,3 C32,10 32,16 31,22 C22,23 11,23 3,22 C2,16 2,10 3,4 Z" fill="#fff"/></svg>
<div class="abs" style="left:1695px;top:897px;width:32px;height:17.4px;background:#fff"></div>
<svg class="abs" style="left:1704px;top:899px" width="14" height="14" viewBox="0 0 14 14"><g stroke="#9a9a9a" stroke-width="1.3" stroke-linecap="round"><path d="M7,1 V4 M7,10 V13 M1,7 H4 M10,7 H13 M2.8,2.8 L4.9,4.9 M9.1,9.1 L11.2,11.2 M2.8,11.2 L4.9,9.1 M9.1,4.9 L11.2,2.8"/></g></svg>
<svg class="abs" style="left:1722px;top:730px" width="30" height="30" viewBox="0 0 30 30"><circle cx="15" cy="15" r="14.5" fill="rgba(76,151,255,0.35)"/><circle cx="15" cy="15" r="11.5" fill="#4c97ff"/><g fill="none" stroke="#fff" stroke-width="1.3" stroke-linejoin="round"><path d="M9.5,10.5 H20.5 M12.5,10.5 V9 H17.5 V10.5 M10.8,11 L11.8,20.5 H18.2 L19.2,11"/><path d="M13.3,13.5 L16.7,17.5 M16.7,13.5 L13.3,17.5" stroke-linecap="round"/></g></svg>
<svg class="abs" style="left:1766px;top:907px" width="54" height="54" viewBox="0 0 54 54"><circle cx="27" cy="27" r="26" fill="rgba(76,151,255,0.35)"/><circle cx="27" cy="27" r="22" fill="#4c97ff"/><path d="M18,21 L18.5,34 C19,37 22,39 27,39 C32,39 35,37 35.5,34 L36,21 L31.5,25 H22.5 Z" fill="#fff"/><path d="M22,31 Q27,34 32,31" stroke="#4c97ff" stroke-width="1.2" fill="none"/><circle cx="23.5" cy="29" r="1" fill="#4c97ff"/><circle cx="30.5" cy="29" r="1" fill="#4c97ff"/><path d="M36.5,13 V20 M33,16.5 H40" stroke="#fff" stroke-width="2.2" stroke-linecap="round"/></svg>
<div class="abs" style="left:1840.5px;top:280.5px;width:71px;height:700px;background:#fff;border:1px solid #ccd3df;border-radius:8px;box-sizing:border-box"></div>
<div class="abs" style="left:1841.5px;top:322.5px;width:69px;height:1px;background:#dde1e8"></div>
<div class="abs t" style="left:1840.50px;top:297.77px;font-size:9.6px;line-height:9.6px;color:#575e75;font-weight:700;width:71px;text-align:center;">Stage</div>
<div class="abs" style="left:1844.4px;top:328.5px;width:63.1px;height:46.8px;background:#fff;border:1px solid #d9dce2;border-radius:4px;box-sizing:border-box;box-shadow:inset 0 0 3px rgba(0,0,0,0.08)"></div>
<div class="abs t" style="left:1840.50px;top:389.87px;font-size:9.6px;line-height:9.6px;color:#575e75;width:71px;text-align:center;">Backdrops</div>
<div class="abs t" style="left:1840.50px;top:408.87px;font-size:9.6px;line-height:9.6px;color:#575e75;width:71px;text-align:center;">3</div>
<svg class="abs" style="left:1849px;top:907px" width="54" height="54" viewBox="0 0 54 54"><circle cx="27" cy="27" r="26" fill="rgba(76,151,255,0.35)"/><circle cx="27" cy="27" r="22" fill="#4c97ff"/><rect x="17.5" y="19.5" width="18" height="16" rx="2.5" fill="none" stroke="#fff" stroke-width="2"/><path d="M18.5,33 L23.5,27 L27,30.5 L30,27.5 L34.5,33 Z" fill="#fff"/><circle cx="31" cy="23.5" r="1.6" fill="#fff"/><path d="M36.5,13 V20 M33,16.5 H40" stroke="#fff" stroke-width="2.2" stroke-linecap="round"/></svg>
<div class="abs" style="left:0;top:968px;width:1920px;height:1px;background:#4a4a4a"></div>
<div class="abs" style="left:0;top:968px;width:48px;height:1px;background:#111"></div>
</body></html>
